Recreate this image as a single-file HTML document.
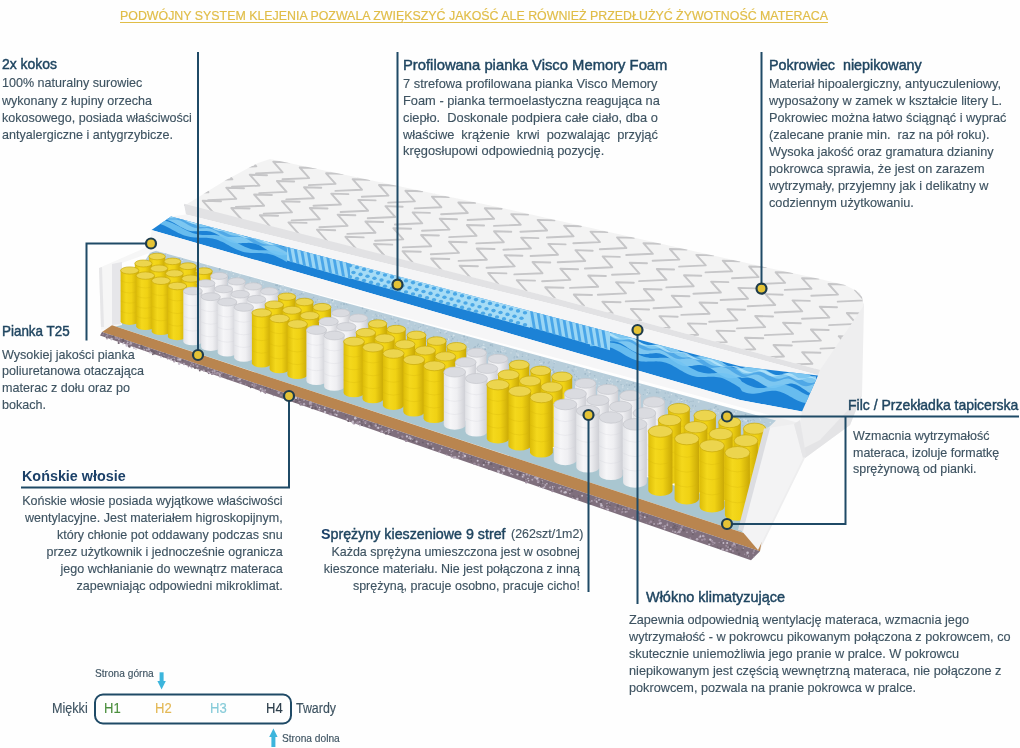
<!DOCTYPE html>
<html><head><meta charset="utf-8"><style>
html,body{margin:0;padding:0}
body{width:1020px;height:748px;position:relative;overflow:hidden;background:#fefefe;font-family:"Liberation Sans",sans-serif}
div{position:absolute;white-space:nowrap}
.b{color:#3e5361;-webkit-text-stroke-width:0.15px}
.tt{color:#1f4560;-webkit-text-stroke-width:0.45px}
.tb{color:#1b4068;font-weight:bold}
.hd{color:#e0bd48;-webkit-text-stroke-width:0.2px;text-decoration:underline;text-decoration-thickness:1.2px;text-underline-offset:1.5px}
svg{position:absolute;left:0;top:0}
</style></head><body>
<svg width="1020" height="748" viewBox="0 0 1020 748">
<polygon points="815.0,368.0 852.0,289.0 860.0,293.0 864.0,305.0 862.0,395.0 850.0,425.0 805.0,458.0 760.0,550.0 745.0,540.0 748.0,420.0 800.0,410.0" fill="#eeeeef" />
<polygon points="820.0,440.0 862.0,395.0 850.0,425.0 805.0,458.0 800.0,450.0" fill="#e4e4e6" />
<polygon points="184.0,206.0 226.0,180.0 258.0,163.0 270.0,159.0 500.0,207.5 760.0,266.0 820.0,279.0 845.0,285.0 856.0,290.5 862.0,297.0 863.5,306.0 820.0,370.0 560.0,299.6 184.0,204.8" fill="#f3f3f3" />
<clipPath id="cq"><polygon points="184.0,206.0 226.0,180.0 258.0,163.0 270.0,159.0 500.0,207.5 760.0,266.0 820.0,279.0 845.0,285.0 856.0,290.5 862.0,297.0 863.5,306.0 820.0,370.0 560.0,299.6 184.0,204.8"/></clipPath>
<filter id="fb" x="-5%" y="-5%" width="110%" height="110%"><feGaussianBlur stdDeviation="0.55"/></filter>
<g clip-path="url(#cq)"><g filter="url(#fb)" stroke="#c6c6c8" stroke-width="1.9" fill="none" stroke-linecap="round" stroke-linejoin="round">
<path d="M235.8,133.1 L219.5,132.6 L228.7,142.8 L202.8,144.0"/>
<path d="M261.6,138.4 L245.3,137.9 L254.5,148.2 L228.6,149.4"/>
<path d="M287.3,143.8 L271.0,143.3 L280.2,153.6 L254.3,154.7"/>
<path d="M313.0,149.1 L296.7,148.7 L305.9,158.9 L280.0,160.1"/>
<path d="M338.8,154.5 L322.5,154.0 L331.7,164.3 L305.8,165.4"/>
<path d="M364.5,159.9 L348.2,159.4 L357.4,169.7 L331.5,170.8"/>
<path d="M390.3,165.2 L374.0,164.7 L383.2,175.0 L357.3,176.2"/>
<path d="M416.0,170.6 L399.7,170.1 L408.9,180.4 L383.0,181.5"/>
<path d="M441.7,175.9 L425.4,175.5 L434.6,185.7 L408.7,186.9"/>
<path d="M467.5,181.3 L451.2,180.8 L460.4,191.1 L434.5,192.2"/>
<path d="M493.2,186.7 L476.9,186.2 L486.1,196.5 L460.2,197.6"/>
<path d="M519.0,192.0 L502.7,191.5 L511.9,201.8 L486.0,203.0"/>
<path d="M544.7,197.4 L528.4,196.9 L537.6,207.2 L511.7,208.3"/>
<path d="M570.4,202.8 L554.1,202.3 L563.3,212.5 L537.4,213.7"/>
<path d="M596.2,208.1 L579.9,207.6 L589.1,217.9 L563.2,219.1"/>
<path d="M621.9,213.5 L605.6,213.0 L614.8,223.3 L588.9,224.4"/>
<path d="M647.7,218.8 L631.4,218.4 L640.6,228.6 L614.7,229.8"/>
<path d="M673.4,224.2 L657.1,223.7 L666.3,234.0 L640.4,235.1"/>
<path d="M699.1,229.6 L682.8,229.1 L692.0,239.3 L666.1,240.5"/>
<path d="M724.9,234.9 L708.6,234.4 L717.8,244.7 L691.9,245.9"/>
<path d="M750.6,240.3 L734.3,239.8 L743.5,250.1 L717.6,251.2"/>
<path d="M776.4,245.6 L760.1,245.2 L769.3,255.4 L743.4,256.6"/>
<path d="M802.1,251.0 L785.8,250.5 L795.0,260.8 L769.1,261.9"/>
<path d="M827.8,256.4 L811.5,255.9 L820.7,266.1 L794.8,267.3"/>
<path d="M853.6,261.7 L837.3,261.2 L846.5,271.5 L820.6,272.7"/>
<path d="M879.3,267.1 L863.0,266.6 L872.2,276.9 L846.3,278.0"/>
<path d="M905.1,272.4 L888.8,272.0 L898.0,282.2 L872.1,283.4"/>
<path d="M210.7,144.7 L193.9,144.2 L203.4,154.8 L176.7,156.0"/>
<path d="M237.2,150.5 L220.4,150.0 L229.8,160.6 L203.2,161.8"/>
<path d="M263.6,156.4 L246.8,155.9 L256.3,166.4 L229.6,167.6"/>
<path d="M290.0,162.2 L273.2,161.7 L282.7,172.3 L256.0,173.4"/>
<path d="M316.5,168.0 L299.7,167.5 L309.2,178.1 L282.5,179.3"/>
<path d="M342.9,173.8 L326.1,173.3 L335.6,183.9 L308.9,185.1"/>
<path d="M369.4,179.7 L352.6,179.2 L362.0,189.7 L335.4,190.9"/>
<path d="M395.8,185.5 L379.0,185.0 L388.5,195.6 L361.8,196.7"/>
<path d="M422.2,191.3 L405.4,190.8 L414.9,201.4 L388.2,202.6"/>
<path d="M448.7,197.1 L431.9,196.6 L441.4,207.2 L414.7,208.4"/>
<path d="M475.1,202.9 L458.3,202.5 L467.8,213.0 L441.1,214.2"/>
<path d="M501.6,208.8 L484.8,208.3 L494.2,218.8 L467.6,220.0"/>
<path d="M528.0,214.6 L511.2,214.1 L520.7,224.7 L494.0,225.9"/>
<path d="M554.4,220.4 L537.6,219.9 L547.1,230.5 L520.4,231.7"/>
<path d="M580.9,226.2 L564.1,225.7 L573.6,236.3 L546.9,237.5"/>
<path d="M607.3,232.1 L590.5,231.6 L600.0,242.1 L573.3,243.3"/>
<path d="M633.8,237.9 L617.0,237.4 L626.4,248.0 L599.8,249.2"/>
<path d="M660.2,243.7 L643.4,243.2 L652.9,253.8 L626.2,255.0"/>
<path d="M686.6,249.5 L669.8,249.0 L679.3,259.6 L652.6,260.8"/>
<path d="M713.1,255.4 L696.3,254.9 L705.8,265.4 L679.1,266.6"/>
<path d="M739.5,261.2 L722.7,260.7 L732.2,271.3 L705.5,272.4"/>
<path d="M766.0,267.0 L749.2,266.5 L758.6,277.1 L732.0,278.3"/>
<path d="M792.4,272.8 L775.6,272.3 L785.1,282.9 L758.4,284.1"/>
<path d="M818.8,278.6 L802.0,278.2 L811.5,288.7 L784.8,289.9"/>
<path d="M845.3,284.5 L828.5,284.0 L838.0,294.6 L811.3,295.7"/>
<path d="M871.7,290.3 L854.9,289.8 L864.4,300.4 L837.7,301.6"/>
<path d="M898.2,296.1 L881.4,295.6 L890.8,306.2 L864.2,307.4"/>
<path d="M185.6,156.4 L168.3,155.9 L178.1,166.7 L150.6,168.0"/>
<path d="M212.7,162.7 L195.5,162.1 L205.2,173.0 L177.8,174.2"/>
<path d="M239.9,168.9 L222.6,168.4 L232.4,179.3 L204.9,180.5"/>
<path d="M267.0,175.2 L249.7,174.7 L259.5,185.6 L232.0,186.8"/>
<path d="M294.2,181.5 L276.9,181.0 L286.6,191.9 L259.2,193.1"/>
<path d="M321.3,187.8 L304.0,187.3 L313.8,198.2 L286.3,199.4"/>
<path d="M348.4,194.1 L331.2,193.6 L340.9,204.5 L313.5,205.7"/>
<path d="M375.6,200.4 L358.3,199.9 L368.1,210.7 L340.6,212.0"/>
<path d="M402.7,206.7 L385.4,206.1 L395.2,217.0 L367.7,218.2"/>
<path d="M429.9,212.9 L412.6,212.4 L422.3,223.3 L394.9,224.5"/>
<path d="M457.0,219.2 L439.7,218.7 L449.5,229.6 L422.0,230.8"/>
<path d="M484.1,225.5 L466.9,225.0 L476.6,235.9 L449.2,237.1"/>
<path d="M511.3,231.8 L494.0,231.3 L503.8,242.2 L476.3,243.4"/>
<path d="M538.4,238.1 L521.1,237.6 L530.9,248.5 L503.4,249.7"/>
<path d="M565.6,244.4 L548.3,243.9 L558.0,254.7 L530.6,256.0"/>
<path d="M592.7,250.7 L575.4,250.1 L585.2,261.0 L557.7,262.2"/>
<path d="M619.8,256.9 L602.6,256.4 L612.3,267.3 L584.9,268.5"/>
<path d="M647.0,263.2 L629.7,262.7 L639.5,273.6 L612.0,274.8"/>
<path d="M674.1,269.5 L656.8,269.0 L666.6,279.9 L639.1,281.1"/>
<path d="M701.3,275.8 L684.0,275.3 L693.7,286.2 L666.3,287.4"/>
<path d="M728.4,282.1 L711.1,281.6 L720.9,292.5 L693.4,293.7"/>
<path d="M755.5,288.4 L738.3,287.9 L748.0,298.7 L720.6,300.0"/>
<path d="M782.7,294.7 L765.4,294.1 L775.2,305.0 L747.7,306.2"/>
<path d="M809.8,300.9 L792.5,300.4 L802.3,311.3 L774.8,312.5"/>
<path d="M837.0,307.2 L819.7,306.7 L829.4,317.6 L802.0,318.8"/>
<path d="M864.1,313.5 L846.8,313.0 L856.6,323.9 L829.1,325.1"/>
<path d="M891.2,319.8 L874.0,319.3 L883.7,330.2 L856.3,331.4"/>
<path d="M160.5,168.0 L142.7,167.5 L152.8,178.7 L124.5,179.9"/>
<path d="M188.3,174.8 L170.6,174.2 L180.6,185.4 L152.4,186.7"/>
<path d="M216.2,181.5 L198.4,181.0 L208.4,192.2 L180.2,193.4"/>
<path d="M244.0,188.3 L226.2,187.7 L236.3,198.9 L208.1,200.2"/>
<path d="M271.9,195.0 L254.1,194.5 L264.1,205.7 L235.9,206.9"/>
<path d="M299.7,201.8 L281.9,201.2 L292.0,212.4 L263.7,213.7"/>
<path d="M327.5,208.5 L309.8,208.0 L319.8,219.2 L291.6,220.4"/>
<path d="M355.4,215.3 L337.6,214.7 L347.6,225.9 L319.4,227.2"/>
<path d="M383.2,222.0 L365.4,221.5 L375.5,232.7 L347.3,233.9"/>
<path d="M411.1,228.8 L393.3,228.2 L403.3,239.4 L375.1,240.7"/>
<path d="M438.9,235.5 L421.1,235.0 L431.2,246.2 L402.9,247.4"/>
<path d="M466.7,242.3 L449.0,241.7 L459.0,252.9 L430.8,254.2"/>
<path d="M494.6,249.0 L476.8,248.5 L486.8,259.7 L458.6,260.9"/>
<path d="M522.4,255.7 L504.6,255.2 L514.7,266.4 L486.5,267.7"/>
<path d="M550.3,262.5 L532.5,262.0 L542.5,273.2 L514.3,274.4"/>
<path d="M578.1,269.2 L560.3,268.7 L570.4,279.9 L542.1,281.2"/>
<path d="M605.9,276.0 L588.2,275.5 L598.2,286.7 L570.0,287.9"/>
<path d="M633.8,282.7 L616.0,282.2 L626.0,293.4 L597.8,294.7"/>
<path d="M661.6,289.5 L643.8,289.0 L653.9,300.2 L625.7,301.4"/>
<path d="M689.5,296.2 L671.7,295.7 L681.7,306.9 L653.5,308.2"/>
<path d="M717.3,303.0 L699.5,302.5 L709.6,313.7 L681.3,314.9"/>
<path d="M745.1,309.7 L727.4,309.2 L737.4,320.4 L709.2,321.7"/>
<path d="M773.0,316.5 L755.2,316.0 L765.2,327.1 L737.0,328.4"/>
<path d="M800.8,323.2 L783.0,322.7 L793.1,333.9 L764.9,335.1"/>
<path d="M828.7,330.0 L810.9,329.5 L820.9,340.6 L792.7,341.9"/>
<path d="M856.5,336.7 L838.7,336.2 L848.8,347.4 L820.5,348.6"/>
<path d="M884.3,343.5 L866.6,343.0 L876.6,354.1 L848.4,355.4"/>
<path d="M135.4,179.7 L117.1,179.1 L127.4,190.6 L98.4,191.9"/>
<path d="M163.9,186.9 L145.7,186.3 L156.0,197.8 L127.0,199.1"/>
<path d="M192.5,194.1 L174.2,193.6 L184.5,205.1 L155.5,206.3"/>
<path d="M221.0,201.3 L202.7,200.8 L213.1,212.3 L184.1,213.6"/>
<path d="M249.6,208.5 L231.3,208.0 L241.6,219.5 L212.6,220.8"/>
<path d="M278.1,215.7 L259.8,215.2 L270.1,226.7 L241.1,228.0"/>
<path d="M306.6,222.9 L288.4,222.4 L298.7,233.9 L269.7,235.2"/>
<path d="M335.2,230.2 L316.9,229.6 L327.2,241.1 L298.2,242.4"/>
<path d="M363.7,237.4 L345.4,236.8 L355.8,248.3 L326.8,249.6"/>
<path d="M392.3,244.6 L374.0,244.0 L384.3,255.5 L355.3,256.8"/>
<path d="M420.8,251.8 L402.5,251.2 L412.8,262.7 L383.8,264.0"/>
<path d="M449.3,259.0 L431.1,258.5 L441.4,270.0 L412.4,271.2"/>
<path d="M477.9,266.2 L459.6,265.7 L469.9,277.2 L440.9,278.5"/>
<path d="M506.4,273.4 L488.1,272.9 L498.5,284.4 L469.5,285.7"/>
<path d="M535.0,280.6 L516.7,280.1 L527.0,291.6 L498.0,292.9"/>
<path d="M563.5,287.8 L545.2,287.3 L555.5,298.8 L526.5,300.1"/>
<path d="M592.0,295.0 L573.8,294.5 L584.1,306.0 L555.1,307.3"/>
<path d="M620.6,302.3 L602.3,301.7 L612.6,313.2 L583.6,314.5"/>
<path d="M649.1,309.5 L630.8,308.9 L641.2,320.4 L612.2,321.7"/>
<path d="M677.7,316.7 L659.4,316.1 L669.7,327.6 L640.7,328.9"/>
<path d="M706.2,323.9 L687.9,323.4 L698.2,334.8 L669.2,336.1"/>
<path d="M734.7,331.1 L716.5,330.6 L726.8,342.1 L697.8,343.3"/>
<path d="M763.3,338.3 L745.0,337.8 L755.3,349.3 L726.3,350.6"/>
<path d="M791.8,345.5 L773.5,345.0 L783.9,356.5 L754.9,357.8"/>
<path d="M820.4,352.7 L802.1,352.2 L812.4,363.7 L783.4,365.0"/>
<path d="M848.9,359.9 L830.6,359.4 L840.9,370.9 L811.9,372.2"/>
<path d="M877.4,367.2 L859.2,366.6 L869.5,378.1 L840.5,379.4"/>
<path d="M110.3,191.3 L91.5,190.8 L102.1,202.6 L72.3,203.9"/>
<path d="M139.5,199.0 L120.8,198.5 L131.4,210.3 L101.6,211.6"/>
<path d="M168.8,206.7 L150.0,206.1 L160.6,217.9 L130.8,219.3"/>
<path d="M198.0,214.3 L179.3,213.8 L189.8,225.6 L160.1,226.9"/>
<path d="M227.2,222.0 L208.5,221.5 L219.1,233.3 L189.3,234.6"/>
<path d="M256.5,229.7 L237.7,229.1 L248.3,240.9 L218.5,242.3"/>
<path d="M285.7,237.4 L267.0,236.8 L277.6,248.6 L247.8,249.9"/>
<path d="M315.0,245.0 L296.2,244.5 L306.8,256.3 L277.0,257.6"/>
<path d="M344.2,252.7 L325.5,252.2 L336.0,264.0 L306.3,265.3"/>
<path d="M373.4,260.4 L354.7,259.8 L365.3,271.6 L335.5,273.0"/>
<path d="M402.7,268.1 L383.9,267.5 L394.5,279.3 L364.7,280.6"/>
<path d="M431.9,275.7 L413.2,275.2 L423.8,287.0 L394.0,288.3"/>
<path d="M461.2,283.4 L442.4,282.9 L453.0,294.7 L423.2,296.0"/>
<path d="M490.4,291.1 L471.7,290.5 L482.2,302.3 L452.5,303.7"/>
<path d="M519.6,298.8 L500.9,298.2 L511.5,310.0 L481.7,311.3"/>
<path d="M548.9,306.4 L530.1,305.9 L540.7,317.7 L510.9,319.0"/>
<path d="M578.1,314.1 L559.4,313.5 L570.0,325.4 L540.2,326.7"/>
<path d="M607.4,321.8 L588.6,321.2 L599.2,333.0 L569.4,334.4"/>
<path d="M636.6,329.4 L617.9,328.9 L628.4,340.7 L598.7,342.0"/>
<path d="M665.8,337.1 L647.1,336.6 L657.7,348.4 L627.9,349.7"/>
<path d="M695.1,344.8 L676.3,344.2 L686.9,356.0 L657.1,357.4"/>
<path d="M724.3,352.5 L705.6,351.9 L716.2,363.7 L686.4,365.0"/>
<path d="M753.6,360.1 L734.8,359.6 L745.4,371.4 L715.6,372.7"/>
<path d="M782.8,367.8 L764.1,367.3 L774.6,379.1 L744.9,380.4"/>
<path d="M812.0,375.5 L793.3,374.9 L803.9,386.7 L774.1,388.1"/>
<path d="M841.3,383.2 L822.5,382.6 L833.1,394.4 L803.3,395.7"/>
<path d="M870.5,390.8 L851.8,390.3 L862.4,402.1 L832.6,403.4"/>
</g></g>
<polygon points="184.0,203.8 560.0,299.6 820.0,370.0 818.0,375.0 560.0,305.9 186.0,214.6" fill="#e2e2e4" />
<polygon points="186.0,214.6 560.0,305.9 818.0,375.0 818.0,376.0 740.0,366.3 171.0,216.5" fill="#f5f5f6" />
<polygon points="171.0,216.5 740.0,366.3 818.0,375.5 802.0,411.6 740.0,400.0 151.5,230.0" fill="#1c82d6" />
<clipPath id="cb"><polygon points="171.0,216.5 740.0,366.3 818.0,375.5 802.0,411.6 740.0,400.0 151.5,230.0"/></clipPath><g clip-path="url(#cb)">
<polygon points="140.0,205.8 142.0,207.0 144.0,208.2 146.0,209.3 148.1,210.2 150.1,210.9 152.1,211.4 154.1,211.8 156.1,211.9 158.1,212.0 160.1,211.9 162.2,211.7 164.2,211.6 166.2,211.5 168.2,211.6 170.2,211.7 172.2,212.1 174.2,212.7 176.2,213.4 178.3,214.4 180.3,215.4 182.3,216.6 184.3,217.8 186.3,219.1 188.3,220.2 190.3,221.3 192.4,222.1 194.4,222.8 196.4,223.3 198.4,223.7 200.4,223.8 202.4,223.8 204.4,223.7 206.5,223.5 208.5,223.4 210.5,223.3 212.5,223.3 214.5,223.6 216.5,223.9 218.5,224.5 220.5,225.3 222.6,226.3 224.6,227.4 226.6,228.6 228.6,229.8 230.6,231.1 232.6,232.2 234.6,233.2 236.7,234.1 238.7,234.8 240.7,235.3 242.7,235.5 244.7,235.6 246.7,235.6 248.7,235.5 250.8,235.3 252.8,235.2 254.8,235.1 256.8,235.1 258.8,235.4 260.8,235.8 262.8,236.4 264.8,237.2 266.9,238.2 268.9,239.4 270.9,240.6 272.9,241.8 274.9,243.1 276.9,244.2 278.9,245.2 281.0,246.1 283.0,246.7 285.0,247.2 287.0,247.4 287.0,255.1 285.0,255.3 283.0,255.3 281.0,255.3 278.9,255.0 276.9,254.6 274.9,254.0 272.9,253.2 270.9,252.2 268.9,251.0 266.9,249.8 264.8,248.5 262.8,247.3 260.8,246.1 258.8,245.1 256.8,244.3 254.8,243.6 252.8,243.2 250.8,242.9 248.7,242.8 246.7,242.9 244.7,243.0 242.7,243.1 240.7,243.3 238.7,243.3 236.7,243.2 234.6,243.0 232.6,242.5 230.6,241.9 228.6,241.0 226.6,240.0 224.6,238.8 222.6,237.6 220.5,236.4 218.5,235.1 216.5,234.0 214.5,233.0 212.5,232.2 210.5,231.6 208.5,231.2 206.5,230.9 204.4,230.9 202.4,230.9 200.4,231.0 198.4,231.2 196.4,231.3 194.4,231.3 192.4,231.2 190.3,230.9 188.3,230.4 186.3,229.7 184.3,228.8 182.3,227.8 180.3,226.7 178.3,225.4 176.2,224.2 174.2,223.0 172.2,221.9 170.2,220.9 168.2,220.2 166.2,219.6 164.2,219.2 162.2,219.0 160.1,218.9 158.1,218.9 156.1,219.1 154.1,219.2 152.1,219.3 150.1,219.3 148.1,219.1 146.0,218.8 144.0,218.3 142.0,217.6 140.0,216.7" fill="#86cdf3" opacity="0.92"/>
<polygon points="140.0,218.6 142.0,219.0 144.0,219.3 146.0,219.5 148.1,219.7 150.1,219.7 152.1,219.7 154.1,219.8 156.1,219.8 158.1,219.9 160.1,220.0 162.2,220.2 164.2,220.6 166.2,221.0 168.2,221.6 170.2,222.3 172.2,223.1 174.2,224.0 176.2,224.9 178.3,226.0 180.3,227.1 182.3,228.2 184.3,229.2 186.3,230.3 188.3,231.2 190.3,232.1 192.4,232.9 194.4,233.5 196.4,234.0 198.4,234.4 200.4,234.7 202.4,234.9 204.4,235.0 206.5,235.0 208.5,235.0 210.5,235.0 212.5,235.1 214.5,235.1 216.5,235.3 218.5,235.5 220.5,235.9 222.6,236.3 224.6,236.9 226.6,237.6 228.6,238.5 230.6,239.4 232.6,240.4 234.6,241.5 236.7,242.6 238.7,243.7 240.7,244.8 242.7,245.8 244.7,246.7 246.7,247.6 248.7,248.3 250.8,249.0 252.8,249.5 254.8,249.8 256.8,250.1 258.8,250.2 260.8,250.3 262.8,250.3 264.8,250.3 266.9,250.3 268.9,250.3 270.9,250.4 272.9,250.6 274.9,250.8 276.9,251.2 278.9,251.7 281.0,252.3 283.0,253.0 285.0,253.9 287.0,254.8 287.0,262.0 285.0,260.9 283.0,259.8 281.0,258.7 278.9,257.7 276.9,256.7 274.9,255.8 272.9,255.1 270.9,254.5 268.9,254.0 266.9,253.6 264.8,253.4 262.8,253.2 260.8,253.1 258.8,253.1 256.8,253.1 254.8,253.1 252.8,253.1 250.8,253.0 248.7,252.8 246.7,252.6 244.7,252.2 242.7,251.7 240.7,251.1 238.7,250.3 236.7,249.5 234.6,248.5 232.6,247.5 230.6,246.4 228.6,245.3 226.6,244.2 224.6,243.1 222.6,242.1 220.5,241.2 218.5,240.3 216.5,239.6 214.5,239.0 212.5,238.6 210.5,238.2 208.5,238.0 206.5,237.8 204.4,237.7 202.4,237.7 200.4,237.7 198.4,237.7 196.4,237.6 194.4,237.5 192.4,237.3 190.3,237.0 188.3,236.6 186.3,236.1 184.3,235.5 182.3,234.7 180.3,233.8 178.3,232.9 176.2,231.8 174.2,230.8 172.2,229.7 170.2,228.6 168.2,227.5 166.2,226.5 164.2,225.6 162.2,224.8 160.1,224.1 158.1,223.6 156.1,223.1 154.1,222.8 152.1,222.6 150.1,222.4 148.1,222.3 146.0,222.3 144.0,222.3 142.0,222.3 140.0,222.2" fill="#72c4f2" opacity="0.88"/>
<polygon points="140.0,209.9 142.0,209.9 144.0,209.7 146.0,209.7 148.1,209.7 150.1,210.0 152.1,210.5 154.1,211.3 156.1,212.3 158.1,213.4 160.1,214.6 162.2,215.8 164.2,216.8 166.2,217.6 168.2,218.2 170.2,218.5 172.2,218.5 174.2,218.5 176.2,218.4 178.3,218.3 180.3,218.4 182.3,218.7 184.3,219.2 186.3,220.0 188.3,221.0 190.3,222.2 192.4,223.4 194.4,224.5 196.4,225.6 198.4,226.3 200.4,226.9 202.4,227.1 204.4,227.2 206.5,227.1 208.5,227.0 210.5,226.9 212.5,227.0 214.5,227.3 216.5,227.9 218.5,228.7 220.5,229.8 222.6,231.0 224.6,232.2 226.6,233.3 228.6,234.3 230.6,235.1 232.6,235.6 234.6,235.8 236.7,235.8 238.7,235.7 240.7,235.6 242.7,235.5 244.7,235.6 246.7,236.0 248.7,236.6 250.8,237.5 252.8,238.5 254.8,239.7 256.8,240.9 258.8,242.1 260.8,243.1 262.8,243.8 264.8,244.3 266.9,244.5 268.9,244.5 270.9,244.4 272.9,244.2 274.9,244.2 276.9,244.3 278.9,244.7 281.0,245.3 283.0,246.2 285.0,247.3 287.0,248.5 287.0,252.4 285.0,251.3 283.0,250.1 281.0,248.9 278.9,247.7 276.9,246.8 274.9,246.1 272.9,245.6 270.9,245.4 268.9,245.5 266.9,245.6 264.8,245.7 262.8,245.7 260.8,245.6 258.8,245.2 256.8,244.5 254.8,243.6 252.8,242.5 250.8,241.3 248.7,240.1 246.7,239.0 244.7,238.0 242.7,237.4 240.7,236.9 238.7,236.8 236.7,236.8 234.6,236.9 232.6,237.0 230.6,237.1 228.6,236.9 226.6,236.4 224.6,235.8 222.6,234.8 220.5,233.7 218.5,232.5 216.5,231.3 214.5,230.2 212.5,229.3 210.5,228.7 208.5,228.3 206.5,228.1 204.4,228.2 202.4,228.3 200.4,228.4 198.4,228.4 196.4,228.1 194.4,227.7 192.4,227.0 190.3,226.0 188.3,224.9 186.3,223.7 184.3,222.5 182.3,221.4 180.3,220.6 178.3,220.0 176.2,219.6 174.2,219.5 172.2,219.5 170.2,219.6 168.2,219.7 166.2,219.7 164.2,219.4 162.2,218.9 160.1,218.2 158.1,217.2 156.1,216.1 154.1,214.9 152.1,213.7 150.1,212.7 148.1,211.9 146.0,211.3 144.0,210.9 142.0,210.8 140.0,210.8" fill="#3c9be2" opacity="0.7"/>
<polygon points="140.0,208.0 142.0,208.9 144.0,209.5 146.0,209.9 148.1,210.0 150.1,210.0 152.1,210.0 154.1,210.1 156.1,210.4 158.1,211.0 160.1,211.9 162.2,212.9 164.2,214.1 166.2,215.1 168.2,216.0 170.2,216.6 172.2,216.9 174.2,217.0 176.2,217.0 178.3,217.0 180.3,217.1 182.3,217.4 184.3,218.1 186.3,219.0 188.3,220.0 190.3,221.2 192.4,222.2 194.4,223.0 196.4,223.6 198.4,223.9 200.4,224.0 202.4,224.0 204.4,223.9 206.5,224.1 208.5,224.5 210.5,225.1 212.5,226.0 214.5,227.1 216.5,228.3 218.5,229.3 220.5,230.1 222.6,230.7 224.6,230.9 226.6,231.0 228.6,231.0 230.6,230.9 232.6,231.1 234.6,231.5 236.7,232.2 238.7,233.1 240.7,234.2 242.7,235.4 244.7,236.4 246.7,237.2 248.7,237.7 250.8,238.0 252.8,238.0 254.8,237.9 256.8,237.9 258.8,238.1 260.8,238.5 262.8,239.2 264.8,240.2 266.9,241.3 268.9,242.5 270.9,243.5 272.9,244.3 274.9,244.8 276.9,245.0 278.9,245.0 281.0,244.9 283.0,244.9 285.0,245.1 287.0,245.6 287.0,247.4 285.0,246.4 283.0,245.7 281.0,245.3 278.9,245.2 276.9,245.2 274.9,245.2 272.9,245.2 270.9,244.9 268.9,244.4 266.9,243.6 264.8,242.5 262.8,241.4 260.8,240.3 258.8,239.4 256.8,238.7 254.8,238.3 252.8,238.2 250.8,238.2 248.7,238.2 246.7,238.2 244.7,237.9 242.7,237.3 240.7,236.5 238.7,235.4 236.7,234.3 234.6,233.2 232.6,232.3 230.6,231.6 228.6,231.3 226.6,231.2 224.6,231.2 222.6,231.2 220.5,231.1 218.5,230.8 216.5,230.2 214.5,229.4 212.5,228.3 210.5,227.2 208.5,226.1 206.5,225.2 204.4,224.6 202.4,224.3 200.4,224.2 198.4,224.2 196.4,224.2 194.4,224.1 192.4,223.8 190.3,223.1 188.3,222.3 186.3,221.2 184.3,220.1 182.3,219.0 180.3,218.2 178.3,217.6 176.2,217.2 174.2,217.1 172.2,217.2 170.2,217.2 168.2,217.1 166.2,216.7 164.2,216.0 162.2,215.1 160.1,214.1 158.1,213.0 156.1,211.9 154.1,211.1 152.1,210.5 150.1,210.2 148.1,210.1 146.0,210.2 144.0,210.2 142.0,210.0 140.0,209.6" fill="#c4ecfc" opacity="0.7"/>
<polygon points="590.0,326.7 592.0,328.0 594.0,329.3 596.0,330.4 598.0,331.4 600.0,332.2 602.0,332.7 604.0,333.0 606.0,333.1 608.0,333.0 610.0,332.8 612.0,332.6 614.0,332.3 616.0,332.1 618.0,332.0 620.0,332.1 622.0,332.4 624.0,333.0 626.0,333.7 628.0,334.7 630.0,335.9 632.0,337.1 634.0,338.5 636.0,339.8 638.0,341.1 640.0,342.3 642.0,343.2 644.0,344.0 646.0,344.6 648.0,344.9 650.0,345.0 652.0,344.9 654.0,344.7 656.0,344.4 658.0,344.1 660.0,343.9 662.0,343.8 664.0,343.9 666.0,344.2 668.0,344.7 670.0,345.5 672.0,346.5 674.0,347.6 676.0,348.9 678.0,350.3 680.0,351.7 682.0,352.9 684.0,354.1 686.0,355.1 688.0,355.9 690.0,356.4 692.0,356.7 694.0,356.8 696.0,356.7 698.0,356.5 700.0,356.2 702.0,355.9 704.0,355.7 706.0,355.6 708.0,355.7 710.0,356.0 712.0,356.5 714.0,357.3 716.0,358.3 718.0,359.4 720.0,360.7 722.0,362.1 724.0,363.5 726.0,364.8 728.0,366.0 730.0,367.0 732.0,367.7 734.0,368.3 736.0,368.6 738.0,368.7 740.0,368.6 742.0,368.2 744.0,367.5 746.0,366.7 748.0,366.1 750.0,365.6 752.0,365.3 754.0,365.2 756.0,365.4 758.0,365.9 760.0,366.7 762.0,367.7 764.0,368.8 766.0,370.1 768.0,371.3 770.0,372.5 772.0,373.5 774.0,374.3 776.0,374.9 778.0,375.1 780.0,375.1 782.0,374.8 784.0,374.2 786.0,373.5 788.0,372.7 790.0,371.9 792.0,371.2 794.0,370.6 796.0,370.2 798.0,370.2 800.0,370.4 802.0,370.9 804.0,371.7 806.0,372.8 808.0,374.0 810.0,375.3 812.0,376.7 814.0,377.9 816.0,379.0 816.0,394.7 814.0,394.4 812.0,393.8 810.0,393.0 808.0,391.9 806.0,390.6 804.0,389.3 802.0,387.9 800.0,386.6 798.0,385.5 796.0,384.6 794.0,384.0 792.0,383.6 790.0,383.6 788.0,383.9 786.0,384.4 784.0,385.0 782.0,385.7 780.0,386.5 778.0,387.1 776.0,387.7 774.0,387.9 772.0,388.0 770.0,387.7 768.0,387.2 766.0,386.3 764.0,385.3 762.0,384.1 760.0,382.8 758.0,381.6 756.0,380.4 754.0,379.3 752.0,378.5 750.0,377.9 748.0,377.5 746.0,377.5 744.0,377.7 742.0,378.1 740.0,377.3 738.0,377.6 736.0,377.9 734.0,378.1 732.0,378.3 730.0,378.2 728.0,377.9 726.0,377.4 724.0,376.7 722.0,375.7 720.0,374.5 718.0,373.2 716.0,371.9 714.0,370.5 712.0,369.2 710.0,368.0 708.0,366.9 706.0,366.1 704.0,365.5 702.0,365.2 700.0,365.1 698.0,365.1 696.0,365.3 694.0,365.6 692.0,365.9 690.0,366.1 688.0,366.2 686.0,366.2 684.0,365.9 682.0,365.4 680.0,364.6 678.0,363.7 676.0,362.5 674.0,361.2 672.0,359.9 670.0,358.5 668.0,357.2 666.0,356.0 664.0,355.0 662.0,354.2 660.0,353.6 658.0,353.2 656.0,353.1 654.0,353.2 652.0,353.4 650.0,353.6 648.0,353.9 646.0,354.1 644.0,354.2 642.0,354.1 640.0,353.9 638.0,353.3 636.0,352.6 634.0,351.6 632.0,350.5 630.0,349.2 628.0,347.9 626.0,346.5 624.0,345.2 622.0,344.0 620.0,343.0 618.0,342.2 616.0,341.7 614.0,341.3 612.0,341.2 610.0,341.2 608.0,341.4 606.0,341.6 604.0,341.9 602.0,342.1 600.0,342.2 598.0,342.1 596.0,341.8 594.0,341.3 592.0,340.6 590.0,339.6" fill="#86cdf3" opacity="0.92"/>
<polygon points="590.0,341.9 592.0,342.3 594.0,342.6 596.0,342.7 598.0,342.8 600.0,342.7 602.0,342.7 604.0,342.6 606.0,342.5 608.0,342.5 610.0,342.5 612.0,342.7 614.0,342.9 616.0,343.4 618.0,343.9 620.0,344.6 622.0,345.4 624.0,346.4 626.0,347.5 628.0,348.6 630.0,349.8 632.0,350.9 634.0,352.1 636.0,353.2 638.0,354.3 640.0,355.2 642.0,356.0 644.0,356.7 646.0,357.3 648.0,357.6 650.0,357.9 652.0,358.0 654.0,358.1 656.0,358.0 658.0,357.9 660.0,357.8 662.0,357.8 664.0,357.7 666.0,357.8 668.0,357.9 670.0,358.2 672.0,358.6 674.0,359.1 676.0,359.8 678.0,360.7 680.0,361.6 682.0,362.7 684.0,363.9 686.0,365.0 688.0,366.2 690.0,367.4 692.0,368.6 694.0,369.6 696.0,370.6 698.0,371.4 700.0,372.1 702.0,372.6 704.0,373.0 706.0,373.2 708.0,373.4 710.0,373.4 712.0,373.3 714.0,373.2 716.0,373.1 718.0,373.0 720.0,373.0 722.0,373.0 724.0,373.2 726.0,373.4 728.0,373.8 730.0,374.4 732.0,375.1 734.0,375.9 736.0,376.9 738.0,378.0 740.0,379.1 742.0,381.8 744.0,382.8 746.0,383.9 748.0,384.9 750.0,385.8 752.0,386.6 754.0,387.2 756.0,387.7 758.0,388.0 760.0,388.1 762.0,388.0 764.0,387.9 766.0,387.5 768.0,387.1 770.0,386.6 772.0,386.1 774.0,385.6 776.0,385.2 778.0,384.9 780.0,384.7 782.0,384.6 784.0,384.7 786.0,385.0 788.0,385.5 790.0,386.2 792.0,387.0 794.0,388.0 796.0,389.0 798.0,390.1 800.0,391.3 802.0,392.4 804.0,393.5 806.0,394.4 808.0,395.3 810.0,395.9 812.0,396.4 814.0,396.7 816.0,396.8 816.0,402.2 814.0,402.6 812.0,403.0 810.0,403.2 808.0,403.3 806.0,403.1 804.0,402.8 802.0,402.3 800.0,401.6 798.0,400.7 796.0,399.8 794.0,398.7 792.0,397.5 790.0,396.4 788.0,395.2 786.0,394.2 784.0,393.2 782.0,392.4 780.0,391.7 778.0,391.2 776.0,390.8 774.0,390.7 772.0,390.7 770.0,390.9 768.0,391.2 766.0,391.6 764.0,392.0 762.0,392.5 760.0,392.9 758.0,393.3 756.0,393.6 754.0,393.7 752.0,393.7 750.0,393.6 748.0,393.3 746.0,392.8 744.0,392.1 742.0,391.3 740.0,387.7 738.0,386.5 736.0,385.3 734.0,384.1 732.0,382.9 730.0,381.7 728.0,380.7 726.0,379.7 724.0,378.8 722.0,378.1 720.0,377.6 718.0,377.2 716.0,376.9 714.0,376.7 712.0,376.7 710.0,376.7 708.0,376.8 706.0,376.9 704.0,377.0 702.0,377.1 700.0,377.1 698.0,376.9 696.0,376.7 694.0,376.3 692.0,375.7 690.0,375.1 688.0,374.2 686.0,373.3 684.0,372.2 682.0,371.1 680.0,369.9 678.0,368.7 676.0,367.5 674.0,366.4 672.0,365.3 670.0,364.3 668.0,363.5 666.0,362.8 664.0,362.2 662.0,361.8 660.0,361.5 658.0,361.4 656.0,361.3 654.0,361.4 652.0,361.4 650.0,361.5 648.0,361.6 646.0,361.7 644.0,361.6 642.0,361.5 640.0,361.2 638.0,360.8 636.0,360.3 634.0,359.6 632.0,358.8 630.0,357.8 628.0,356.8 626.0,355.7 624.0,354.5 622.0,353.3 620.0,352.1 618.0,351.0 616.0,349.9 614.0,349.0 612.0,348.1 610.0,347.4 608.0,346.9 606.0,346.5 604.0,346.2 602.0,346.0 600.0,346.0 598.0,346.0 596.0,346.0 594.0,346.1 592.0,346.2 590.0,346.2" fill="#72c4f2" opacity="0.88"/>
<polygon points="590.0,331.5 592.0,331.4 594.0,331.1 596.0,330.9 598.0,330.9 600.0,331.1 602.0,331.6 604.0,332.4 606.0,333.5 608.0,334.7 610.0,336.0 612.0,337.3 614.0,338.4 616.0,339.3 618.0,339.9 620.0,340.2 622.0,340.2 624.0,340.0 626.0,339.8 628.0,339.6 630.0,339.5 632.0,339.7 634.0,340.2 636.0,341.0 638.0,342.1 640.0,343.3 642.0,344.7 644.0,345.9 646.0,347.1 648.0,347.9 650.0,348.5 652.0,348.8 654.0,348.8 656.0,348.6 658.0,348.4 660.0,348.2 662.0,348.1 664.0,348.3 666.0,348.8 668.0,349.6 670.0,350.7 672.0,352.0 674.0,353.3 676.0,354.6 678.0,355.7 680.0,356.6 682.0,357.2 684.0,357.5 686.0,357.5 688.0,357.3 690.0,357.0 692.0,356.8 694.0,356.8 696.0,356.9 698.0,357.4 700.0,358.3 702.0,359.3 704.0,360.6 706.0,361.9 708.0,363.2 710.0,364.4 712.0,365.3 714.0,365.8 716.0,366.1 718.0,366.1 720.0,365.9 722.0,365.7 724.0,365.4 726.0,365.4 728.0,365.6 730.0,366.1 732.0,366.9 734.0,367.9 736.0,369.2 738.0,370.6 740.0,371.9 742.0,373.5 744.0,374.2 746.0,374.5 748.0,374.4 750.0,374.1 752.0,373.5 754.0,372.8 756.0,372.2 758.0,371.7 760.0,371.5 762.0,371.7 764.0,372.3 766.0,373.2 768.0,374.3 770.0,375.6 772.0,376.7 774.0,377.7 776.0,378.4 778.0,378.7 780.0,378.7 782.0,378.3 784.0,377.6 786.0,376.9 788.0,376.2 790.0,375.7 792.0,375.5 794.0,375.7 796.0,376.3 798.0,377.2 800.0,378.4 802.0,379.7 804.0,380.9 806.0,382.0 808.0,382.7 810.0,383.0 812.0,382.9 814.0,382.5 816.0,381.8 816.0,383.4 814.0,384.0 812.0,384.8 810.0,385.5 808.0,386.1 806.0,386.2 804.0,386.0 802.0,385.4 800.0,384.4 798.0,383.2 796.0,381.9 794.0,380.7 792.0,379.7 790.0,379.0 788.0,378.6 786.0,378.7 784.0,379.1 782.0,379.8 780.0,380.5 778.0,381.1 776.0,381.6 774.0,381.8 772.0,381.5 770.0,380.9 768.0,380.0 766.0,378.9 764.0,377.6 762.0,376.5 760.0,375.5 758.0,374.8 756.0,374.5 754.0,374.5 752.0,374.9 750.0,375.5 748.0,376.1 746.0,376.7 744.0,377.2 742.0,377.3 740.0,375.9 738.0,375.1 736.0,374.0 734.0,372.7 732.0,371.4 730.0,370.0 728.0,368.9 726.0,368.0 724.0,367.4 722.0,367.1 720.0,367.1 718.0,367.3 716.0,367.6 714.0,367.8 712.0,367.9 710.0,367.7 708.0,367.2 706.0,366.4 704.0,365.3 702.0,364.0 700.0,362.7 698.0,361.4 696.0,360.2 694.0,359.4 692.0,358.8 690.0,358.5 688.0,358.5 686.0,358.6 684.0,358.9 682.0,359.1 680.0,359.2 678.0,359.0 676.0,358.5 674.0,357.7 672.0,356.6 670.0,355.4 668.0,354.0 666.0,352.7 664.0,351.6 662.0,350.7 660.0,350.1 658.0,349.8 656.0,349.8 654.0,350.0 652.0,350.2 650.0,350.4 648.0,350.5 646.0,350.3 644.0,349.8 642.0,349.0 640.0,347.9 638.0,346.7 636.0,345.4 634.0,344.1 632.0,342.9 630.0,342.1 628.0,341.5 626.0,341.2 624.0,341.2 622.0,341.3 620.0,341.6 618.0,341.8 616.0,341.8 614.0,341.6 612.0,341.1 610.0,340.3 608.0,339.2 606.0,338.0 604.0,336.7 602.0,335.4 600.0,334.3 598.0,333.4 596.0,332.8 594.0,332.5 592.0,332.5 590.0,332.7" fill="#3c9be2" opacity="0.7"/>
<polygon points="590.0,329.3 592.0,330.2 594.0,330.8 596.0,331.2 598.0,331.2 600.0,331.1 602.0,331.0 604.0,331.0 606.0,331.3 608.0,331.9 610.0,332.8 612.0,333.9 614.0,335.1 616.0,336.3 618.0,337.2 620.0,337.9 622.0,338.2 624.0,338.2 626.0,338.1 628.0,338.0 630.0,338.0 632.0,338.2 634.0,338.8 636.0,339.8 638.0,340.9 640.0,342.1 642.0,343.3 644.0,344.2 646.0,344.9 648.0,345.2 650.0,345.2 652.0,345.1 654.0,344.9 656.0,345.0 658.0,345.2 660.0,345.8 662.0,346.7 664.0,347.9 666.0,349.1 668.0,350.3 670.0,351.2 672.0,351.9 674.0,352.2 676.0,352.2 678.0,352.1 680.0,351.9 682.0,351.9 684.0,352.2 686.0,352.8 688.0,353.7 690.0,354.9 692.0,356.1 694.0,357.3 696.0,358.2 698.0,358.9 700.0,359.2 702.0,359.2 704.0,359.1 706.0,358.9 708.0,358.9 710.0,359.2 712.0,359.8 714.0,360.7 716.0,361.9 718.0,363.1 720.0,364.3 722.0,365.3 724.0,365.9 726.0,366.2 728.0,366.2 730.0,366.1 732.0,365.9 734.0,365.9 736.0,366.2 738.0,366.8 740.0,367.7 742.0,368.8 744.0,369.9 746.0,370.8 748.0,371.6 750.0,371.9 752.0,371.9 754.0,371.6 756.0,371.0 758.0,370.4 760.0,370.0 762.0,370.0 764.0,370.3 766.0,371.0 768.0,372.0 770.0,373.1 772.0,374.1 774.0,374.9 776.0,375.2 778.0,375.2 780.0,374.8 782.0,374.2 784.0,373.6 786.0,373.2 788.0,373.1 790.0,373.4 792.0,374.1 794.0,375.2 796.0,376.3 798.0,377.4 800.0,378.2 802.0,378.5 804.0,378.5 806.0,378.1 808.0,377.4 810.0,376.8 812.0,376.3 814.0,376.2 816.0,376.5 816.0,379.7 814.0,378.7 812.0,378.0 810.0,377.7 808.0,377.8 806.0,378.3 804.0,379.0 802.0,379.6 800.0,379.9 798.0,379.9 796.0,379.5 794.0,378.6 792.0,377.6 790.0,376.4 788.0,375.4 786.0,374.7 784.0,374.5 782.0,374.6 780.0,375.1 778.0,375.7 776.0,376.2 774.0,376.6 772.0,376.5 770.0,376.1 768.0,375.3 766.0,374.2 764.0,373.1 762.0,372.2 760.0,371.5 758.0,371.3 756.0,371.4 754.0,371.8 752.0,372.4 750.0,372.9 748.0,373.2 746.0,373.1 744.0,372.7 742.0,371.9 740.0,370.4 738.0,369.2 736.0,368.1 734.0,367.2 732.0,366.6 730.0,366.4 728.0,366.4 726.0,366.6 724.0,366.7 722.0,366.7 720.0,366.3 718.0,365.6 716.0,364.6 714.0,363.4 712.0,362.2 710.0,361.1 708.0,360.2 706.0,359.6 704.0,359.4 702.0,359.4 700.0,359.6 698.0,359.7 696.0,359.6 694.0,359.3 692.0,358.6 690.0,357.6 688.0,356.4 686.0,355.2 684.0,354.1 682.0,353.2 680.0,352.6 678.0,352.4 676.0,352.4 674.0,352.6 672.0,352.7 670.0,352.6 668.0,352.3 666.0,351.6 664.0,350.6 662.0,349.4 660.0,348.2 658.0,347.1 656.0,346.2 654.0,345.6 652.0,345.4 650.0,345.4 648.0,345.5 646.0,345.7 644.0,345.6 642.0,345.2 640.0,344.5 638.0,343.6 636.0,342.4 634.0,341.2 632.0,340.1 630.0,339.2 628.0,338.6 626.0,338.4 624.0,338.4 622.0,338.5 620.0,338.6 618.0,338.6 616.0,338.2 614.0,337.5 612.0,336.5 610.0,335.4 608.0,334.2 606.0,333.1 604.0,332.2 602.0,331.6 600.0,331.4 598.0,331.4 596.0,331.5 594.0,331.6 592.0,331.5 590.0,331.2" fill="#c4ecfc" opacity="0.7"/>
<polygon points="287.0,244.8 350.0,261.7 350.0,278.7 287.0,260.4" fill="#9ad6f5" />
<polygon points="287.0,245.3 290.0,246.1 293.0,262.6 290.0,261.7" fill="#4aa6e8" />
<polygon points="293.5,247.1 296.5,247.9 299.5,264.3 296.5,263.5" fill="#4aa6e8" />
<polygon points="300.0,248.8 303.0,249.6 306.0,266.1 303.0,265.3" fill="#4aa6e8" />
<polygon points="306.5,250.5 309.5,251.3 312.5,267.9 309.5,267.1" fill="#4aa6e8" />
<polygon points="313.0,252.3 316.0,253.1 319.0,269.7 316.0,268.9" fill="#4aa6e8" />
<polygon points="319.5,254.0 322.5,254.8 325.5,271.5 322.5,270.7" fill="#4aa6e8" />
<polygon points="326.0,255.8 329.0,256.6 332.0,273.3 329.0,272.4" fill="#4aa6e8" />
<polygon points="332.5,257.5 335.5,258.3 338.5,275.1 335.5,274.2" fill="#4aa6e8" />
<polygon points="339.0,259.3 342.0,260.1 345.0,276.8 342.0,276.0" fill="#4aa6e8" />
<polygon points="345.5,261.0 348.5,261.8 351.5,278.6 348.5,277.8" fill="#4aa6e8" />
<polygon points="530.0,310.0 610.0,331.5 610.0,350.3 530.0,327.1" fill="#9ad6f5" />
<polygon points="530.0,310.6 533.0,311.4 536.0,329.4 533.0,328.5" fill="#4aa6e8" />
<polygon points="536.5,312.3 539.5,313.1 542.5,331.1 539.5,330.3" fill="#4aa6e8" />
<polygon points="543.0,314.0 546.0,314.8 549.0,332.9 546.0,332.1" fill="#4aa6e8" />
<polygon points="549.5,315.8 552.5,316.6 555.5,334.7 552.5,333.9" fill="#4aa6e8" />
<polygon points="556.0,317.5 559.0,318.3 562.0,336.5 559.0,335.7" fill="#4aa6e8" />
<polygon points="562.5,319.3 565.5,320.1 568.5,338.3 565.5,337.5" fill="#4aa6e8" />
<polygon points="569.0,321.0 572.0,321.8 575.0,340.1 572.0,339.2" fill="#4aa6e8" />
<polygon points="575.5,322.8 578.5,323.6 581.5,341.9 578.5,341.0" fill="#4aa6e8" />
<polygon points="582.0,324.5 585.0,325.3 588.0,343.6 585.0,342.8" fill="#4aa6e8" />
<polygon points="588.5,326.3 591.5,327.1 594.5,345.4 591.5,344.6" fill="#4aa6e8" />
<polygon points="595.0,328.0 598.0,328.8 601.0,347.2 598.0,346.4" fill="#4aa6e8" />
<polygon points="601.5,329.8 604.5,330.6 607.5,349.0 604.5,348.2" fill="#4aa6e8" />
<polygon points="350.0,261.7 530.0,310.0 530.0,327.7 350.0,278.2" fill="#a6dcf6" />
<ellipse cx="350.0" cy="265.6" rx="2.2" ry="1.8" fill="#4ca8e6"/>
<ellipse cx="353.5" cy="272.5" rx="2.2" ry="1.8" fill="#4ca8e6"/>
<ellipse cx="350.0" cy="276.7" rx="2.2" ry="1.8" fill="#4ca8e6"/>
<ellipse cx="357.0" cy="267.5" rx="2.2" ry="1.8" fill="#4ca8e6"/>
<ellipse cx="360.5" cy="274.4" rx="2.2" ry="1.8" fill="#4ca8e6"/>
<ellipse cx="357.0" cy="278.6" rx="2.2" ry="1.8" fill="#4ca8e6"/>
<ellipse cx="364.0" cy="269.4" rx="2.2" ry="1.8" fill="#4ca8e6"/>
<ellipse cx="367.5" cy="276.3" rx="2.2" ry="1.8" fill="#4ca8e6"/>
<ellipse cx="364.0" cy="280.5" rx="2.2" ry="1.8" fill="#4ca8e6"/>
<ellipse cx="371.0" cy="271.2" rx="2.2" ry="1.8" fill="#4ca8e6"/>
<ellipse cx="374.5" cy="278.2" rx="2.2" ry="1.8" fill="#4ca8e6"/>
<ellipse cx="371.0" cy="282.4" rx="2.2" ry="1.8" fill="#4ca8e6"/>
<ellipse cx="378.0" cy="273.1" rx="2.2" ry="1.8" fill="#4ca8e6"/>
<ellipse cx="381.5" cy="280.1" rx="2.2" ry="1.8" fill="#4ca8e6"/>
<ellipse cx="378.0" cy="284.4" rx="2.2" ry="1.8" fill="#4ca8e6"/>
<ellipse cx="385.0" cy="275.0" rx="2.2" ry="1.8" fill="#4ca8e6"/>
<ellipse cx="388.5" cy="282.0" rx="2.2" ry="1.8" fill="#4ca8e6"/>
<ellipse cx="385.0" cy="286.3" rx="2.2" ry="1.8" fill="#4ca8e6"/>
<ellipse cx="392.0" cy="276.9" rx="2.2" ry="1.8" fill="#4ca8e6"/>
<ellipse cx="395.5" cy="283.9" rx="2.2" ry="1.8" fill="#4ca8e6"/>
<ellipse cx="392.0" cy="288.2" rx="2.2" ry="1.8" fill="#4ca8e6"/>
<ellipse cx="399.0" cy="278.8" rx="2.2" ry="1.8" fill="#4ca8e6"/>
<ellipse cx="402.5" cy="285.8" rx="2.2" ry="1.8" fill="#4ca8e6"/>
<ellipse cx="399.0" cy="290.1" rx="2.2" ry="1.8" fill="#4ca8e6"/>
<ellipse cx="406.0" cy="280.7" rx="2.2" ry="1.8" fill="#4ca8e6"/>
<ellipse cx="409.5" cy="287.7" rx="2.2" ry="1.8" fill="#4ca8e6"/>
<ellipse cx="406.0" cy="292.0" rx="2.2" ry="1.8" fill="#4ca8e6"/>
<ellipse cx="413.0" cy="282.6" rx="2.2" ry="1.8" fill="#4ca8e6"/>
<ellipse cx="416.5" cy="289.6" rx="2.2" ry="1.8" fill="#4ca8e6"/>
<ellipse cx="413.0" cy="294.0" rx="2.2" ry="1.8" fill="#4ca8e6"/>
<ellipse cx="420.0" cy="284.5" rx="2.2" ry="1.8" fill="#4ca8e6"/>
<ellipse cx="423.5" cy="291.5" rx="2.2" ry="1.8" fill="#4ca8e6"/>
<ellipse cx="420.0" cy="295.9" rx="2.2" ry="1.8" fill="#4ca8e6"/>
<ellipse cx="427.0" cy="286.4" rx="2.2" ry="1.8" fill="#4ca8e6"/>
<ellipse cx="430.5" cy="293.4" rx="2.2" ry="1.8" fill="#4ca8e6"/>
<ellipse cx="427.0" cy="297.8" rx="2.2" ry="1.8" fill="#4ca8e6"/>
<ellipse cx="434.0" cy="288.2" rx="2.2" ry="1.8" fill="#4ca8e6"/>
<ellipse cx="437.5" cy="295.3" rx="2.2" ry="1.8" fill="#4ca8e6"/>
<ellipse cx="434.0" cy="299.7" rx="2.2" ry="1.8" fill="#4ca8e6"/>
<ellipse cx="441.0" cy="290.1" rx="2.2" ry="1.8" fill="#4ca8e6"/>
<ellipse cx="444.5" cy="297.2" rx="2.2" ry="1.8" fill="#4ca8e6"/>
<ellipse cx="441.0" cy="301.6" rx="2.2" ry="1.8" fill="#4ca8e6"/>
<ellipse cx="448.0" cy="292.0" rx="2.2" ry="1.8" fill="#4ca8e6"/>
<ellipse cx="451.5" cy="299.1" rx="2.2" ry="1.8" fill="#4ca8e6"/>
<ellipse cx="448.0" cy="303.6" rx="2.2" ry="1.8" fill="#4ca8e6"/>
<ellipse cx="455.0" cy="293.9" rx="2.2" ry="1.8" fill="#4ca8e6"/>
<ellipse cx="458.5" cy="301.0" rx="2.2" ry="1.8" fill="#4ca8e6"/>
<ellipse cx="455.0" cy="305.5" rx="2.2" ry="1.8" fill="#4ca8e6"/>
<ellipse cx="462.0" cy="295.8" rx="2.2" ry="1.8" fill="#4ca8e6"/>
<ellipse cx="465.5" cy="303.0" rx="2.2" ry="1.8" fill="#4ca8e6"/>
<ellipse cx="462.0" cy="307.4" rx="2.2" ry="1.8" fill="#4ca8e6"/>
<ellipse cx="469.0" cy="297.7" rx="2.2" ry="1.8" fill="#4ca8e6"/>
<ellipse cx="472.5" cy="304.9" rx="2.2" ry="1.8" fill="#4ca8e6"/>
<ellipse cx="469.0" cy="309.3" rx="2.2" ry="1.8" fill="#4ca8e6"/>
<ellipse cx="476.0" cy="299.6" rx="2.2" ry="1.8" fill="#4ca8e6"/>
<ellipse cx="479.5" cy="306.8" rx="2.2" ry="1.8" fill="#4ca8e6"/>
<ellipse cx="476.0" cy="311.2" rx="2.2" ry="1.8" fill="#4ca8e6"/>
<ellipse cx="483.0" cy="301.5" rx="2.2" ry="1.8" fill="#4ca8e6"/>
<ellipse cx="486.5" cy="308.7" rx="2.2" ry="1.8" fill="#4ca8e6"/>
<ellipse cx="483.0" cy="313.2" rx="2.2" ry="1.8" fill="#4ca8e6"/>
<ellipse cx="490.0" cy="303.4" rx="2.2" ry="1.8" fill="#4ca8e6"/>
<ellipse cx="493.5" cy="310.6" rx="2.2" ry="1.8" fill="#4ca8e6"/>
<ellipse cx="490.0" cy="315.1" rx="2.2" ry="1.8" fill="#4ca8e6"/>
<ellipse cx="497.0" cy="305.2" rx="2.2" ry="1.8" fill="#4ca8e6"/>
<ellipse cx="500.5" cy="312.5" rx="2.2" ry="1.8" fill="#4ca8e6"/>
<ellipse cx="497.0" cy="317.0" rx="2.2" ry="1.8" fill="#4ca8e6"/>
<ellipse cx="504.0" cy="307.1" rx="2.2" ry="1.8" fill="#4ca8e6"/>
<ellipse cx="507.5" cy="314.4" rx="2.2" ry="1.8" fill="#4ca8e6"/>
<ellipse cx="504.0" cy="318.9" rx="2.2" ry="1.8" fill="#4ca8e6"/>
<ellipse cx="511.0" cy="309.0" rx="2.2" ry="1.8" fill="#4ca8e6"/>
<ellipse cx="514.5" cy="316.3" rx="2.2" ry="1.8" fill="#4ca8e6"/>
<ellipse cx="511.0" cy="320.8" rx="2.2" ry="1.8" fill="#4ca8e6"/>
<ellipse cx="518.0" cy="310.9" rx="2.2" ry="1.8" fill="#4ca8e6"/>
<ellipse cx="521.5" cy="318.2" rx="2.2" ry="1.8" fill="#4ca8e6"/>
<ellipse cx="518.0" cy="322.7" rx="2.2" ry="1.8" fill="#4ca8e6"/>
<ellipse cx="525.0" cy="312.8" rx="2.2" ry="1.8" fill="#4ca8e6"/>
<ellipse cx="525.0" cy="324.7" rx="2.2" ry="1.8" fill="#4ca8e6"/>
</g>
<polygon points="151.5,230.0 740.0,400.0 802.0,411.6 800.0,423.2 150.0,249.2" fill="#f6f6f7" />
<polygon points="152.0,249.7 776.0,420.6 768.0,428.0 766.0,446.0 140.0,268.4" fill="#b7cdda" />
<circle cx="299.5" cy="298.2" r="1.0" fill="#a8c0d0"/>
<circle cx="445.9" cy="339.2" r="1.0" fill="#9fb8c8"/>
<circle cx="442.9" cy="338.0" r="1.0" fill="#d2e0e8"/>
<circle cx="443.6" cy="342.2" r="0.7" fill="#c8d8e2"/>
<circle cx="685.8" cy="400.8" r="0.9" fill="#d2e0e8"/>
<circle cx="476.4" cy="349.9" r="0.6" fill="#9fb8c8"/>
<circle cx="745.6" cy="414.7" r="0.9" fill="#9fb8c8"/>
<circle cx="319.0" cy="304.3" r="0.9" fill="#c8d8e2"/>
<circle cx="723.1" cy="413.4" r="1.0" fill="#c8d8e2"/>
<circle cx="235.2" cy="277.9" r="0.6" fill="#9fb8c8"/>
<circle cx="286.5" cy="300.5" r="0.9" fill="#c8d8e2"/>
<circle cx="682.2" cy="402.5" r="0.8" fill="#c8d8e2"/>
<circle cx="483.1" cy="347.1" r="1.0" fill="#d2e0e8"/>
<circle cx="574.8" cy="379.8" r="1.0" fill="#a8c0d0"/>
<circle cx="568.2" cy="367.3" r="1.0" fill="#a8c0d0"/>
<circle cx="712.9" cy="413.0" r="0.8" fill="#d2e0e8"/>
<circle cx="764.6" cy="423.1" r="0.5" fill="#9fb8c8"/>
<circle cx="681.4" cy="410.2" r="0.7" fill="#9fb8c8"/>
<circle cx="193.3" cy="273.7" r="0.6" fill="#9fb8c8"/>
<circle cx="628.7" cy="394.0" r="0.8" fill="#9fb8c8"/>
<circle cx="624.2" cy="385.8" r="0.8" fill="#a8c0d0"/>
<circle cx="723.6" cy="411.9" r="1.0" fill="#d2e0e8"/>
<circle cx="344.0" cy="304.0" r="1.0" fill="#9fb8c8"/>
<circle cx="754.3" cy="420.6" r="0.6" fill="#a8c0d0"/>
<circle cx="178.3" cy="269.1" r="0.7" fill="#a8c0d0"/>
<circle cx="237.8" cy="285.5" r="0.7" fill="#c8d8e2"/>
<circle cx="474.4" cy="348.0" r="0.8" fill="#9fb8c8"/>
<circle cx="735.2" cy="418.3" r="0.8" fill="#c8d8e2"/>
<circle cx="595.7" cy="385.7" r="1.0" fill="#c8d8e2"/>
<circle cx="475.1" cy="346.9" r="0.9" fill="#9fb8c8"/>
<circle cx="764.2" cy="423.7" r="0.8" fill="#c8d8e2"/>
<circle cx="544.0" cy="359.1" r="0.7" fill="#a8c0d0"/>
<circle cx="573.2" cy="371.3" r="0.9" fill="#a8c0d0"/>
<circle cx="165.8" cy="254.4" r="1.0" fill="#9fb8c8"/>
<circle cx="307.7" cy="299.2" r="0.6" fill="#a8c0d0"/>
<circle cx="266.9" cy="292.1" r="0.7" fill="#a8c0d0"/>
<circle cx="385.8" cy="325.3" r="1.0" fill="#9fb8c8"/>
<circle cx="575.9" cy="369.0" r="0.8" fill="#d2e0e8"/>
<circle cx="319.0" cy="300.6" r="0.8" fill="#c8d8e2"/>
<circle cx="212.2" cy="274.8" r="0.8" fill="#a8c0d0"/>
<circle cx="291.2" cy="299.6" r="0.5" fill="#d2e0e8"/>
<circle cx="612.1" cy="380.2" r="0.6" fill="#c8d8e2"/>
<circle cx="639.9" cy="385.3" r="0.7" fill="#d2e0e8"/>
<circle cx="670.4" cy="401.4" r="0.7" fill="#a8c0d0"/>
<circle cx="665.3" cy="393.1" r="0.8" fill="#a8c0d0"/>
<circle cx="413.2" cy="329.3" r="0.7" fill="#a8c0d0"/>
<circle cx="545.2" cy="362.7" r="0.5" fill="#c8d8e2"/>
<circle cx="408.2" cy="323.5" r="1.0" fill="#c8d8e2"/>
<circle cx="697.6" cy="414.6" r="0.8" fill="#c8d8e2"/>
<circle cx="763.2" cy="429.0" r="0.9" fill="#9fb8c8"/>
<circle cx="670.8" cy="402.7" r="0.8" fill="#a8c0d0"/>
<circle cx="703.6" cy="414.6" r="0.6" fill="#a8c0d0"/>
<circle cx="303.6" cy="292.2" r="0.9" fill="#d2e0e8"/>
<circle cx="709.8" cy="412.3" r="0.7" fill="#9fb8c8"/>
<circle cx="226.9" cy="277.5" r="0.8" fill="#d2e0e8"/>
<circle cx="477.5" cy="345.7" r="0.7" fill="#9fb8c8"/>
<circle cx="308.5" cy="305.1" r="0.9" fill="#c8d8e2"/>
<circle cx="190.0" cy="263.3" r="0.8" fill="#9fb8c8"/>
<circle cx="658.4" cy="392.4" r="1.0" fill="#a8c0d0"/>
<circle cx="651.8" cy="399.7" r="0.7" fill="#9fb8c8"/>
<circle cx="506.0" cy="353.4" r="0.6" fill="#a8c0d0"/>
<circle cx="535.2" cy="363.1" r="0.7" fill="#9fb8c8"/>
<circle cx="633.4" cy="383.1" r="0.9" fill="#9fb8c8"/>
<circle cx="180.6" cy="258.3" r="1.0" fill="#c8d8e2"/>
<circle cx="681.8" cy="397.7" r="0.7" fill="#c8d8e2"/>
<circle cx="347.0" cy="308.6" r="0.8" fill="#c8d8e2"/>
<circle cx="375.7" cy="314.3" r="0.7" fill="#a8c0d0"/>
<circle cx="231.1" cy="271.7" r="0.9" fill="#c8d8e2"/>
<circle cx="503.4" cy="347.6" r="0.8" fill="#c8d8e2"/>
<circle cx="637.2" cy="389.4" r="0.8" fill="#9fb8c8"/>
<circle cx="419.6" cy="329.0" r="0.9" fill="#c8d8e2"/>
<circle cx="347.3" cy="317.1" r="0.7" fill="#c8d8e2"/>
<circle cx="304.0" cy="299.3" r="0.9" fill="#9fb8c8"/>
<circle cx="291.2" cy="290.1" r="1.0" fill="#9fb8c8"/>
<circle cx="384.0" cy="326.5" r="0.6" fill="#a8c0d0"/>
<circle cx="580.1" cy="381.4" r="0.8" fill="#c8d8e2"/>
<circle cx="606.9" cy="383.6" r="0.9" fill="#9fb8c8"/>
<circle cx="596.3" cy="379.4" r="0.9" fill="#d2e0e8"/>
<circle cx="179.5" cy="258.6" r="0.8" fill="#9fb8c8"/>
<circle cx="385.0" cy="325.7" r="0.9" fill="#a8c0d0"/>
<circle cx="227.2" cy="282.3" r="0.9" fill="#c8d8e2"/>
<circle cx="742.5" cy="421.4" r="0.5" fill="#9fb8c8"/>
<circle cx="627.8" cy="388.7" r="0.6" fill="#d2e0e8"/>
<circle cx="616.4" cy="391.4" r="0.8" fill="#9fb8c8"/>
<circle cx="691.0" cy="401.5" r="0.6" fill="#9fb8c8"/>
<circle cx="263.5" cy="284.1" r="0.6" fill="#c8d8e2"/>
<circle cx="523.7" cy="365.8" r="1.0" fill="#c8d8e2"/>
<circle cx="384.7" cy="317.5" r="0.9" fill="#c8d8e2"/>
<circle cx="751.6" cy="421.6" r="0.6" fill="#c8d8e2"/>
<circle cx="400.7" cy="331.0" r="0.5" fill="#d2e0e8"/>
<circle cx="615.9" cy="391.0" r="0.8" fill="#c8d8e2"/>
<circle cx="684.0" cy="399.0" r="0.6" fill="#d2e0e8"/>
<circle cx="471.7" cy="351.3" r="0.8" fill="#a8c0d0"/>
<circle cx="682.3" cy="404.9" r="0.9" fill="#a8c0d0"/>
<circle cx="342.5" cy="306.2" r="0.6" fill="#c8d8e2"/>
<circle cx="505.3" cy="350.9" r="0.9" fill="#c8d8e2"/>
<circle cx="241.0" cy="288.2" r="0.9" fill="#c8d8e2"/>
<circle cx="279.6" cy="293.2" r="0.7" fill="#9fb8c8"/>
<circle cx="598.8" cy="385.5" r="0.9" fill="#c8d8e2"/>
<circle cx="698.7" cy="401.8" r="0.9" fill="#d2e0e8"/>
<circle cx="553.9" cy="371.9" r="1.0" fill="#9fb8c8"/>
<circle cx="681.4" cy="399.7" r="0.9" fill="#d2e0e8"/>
<circle cx="237.2" cy="282.0" r="0.9" fill="#9fb8c8"/>
<circle cx="310.1" cy="305.6" r="0.6" fill="#a8c0d0"/>
<circle cx="208.4" cy="276.5" r="0.5" fill="#9fb8c8"/>
<circle cx="669.0" cy="397.0" r="0.7" fill="#a8c0d0"/>
<circle cx="607.1" cy="380.5" r="0.7" fill="#9fb8c8"/>
<circle cx="422.5" cy="331.4" r="0.8" fill="#d2e0e8"/>
<circle cx="612.3" cy="384.1" r="0.8" fill="#d2e0e8"/>
<circle cx="225.9" cy="274.0" r="0.6" fill="#c8d8e2"/>
<circle cx="702.1" cy="414.8" r="0.8" fill="#9fb8c8"/>
<circle cx="586.4" cy="379.5" r="0.9" fill="#a8c0d0"/>
<circle cx="335.2" cy="309.9" r="0.6" fill="#a8c0d0"/>
<circle cx="737.6" cy="416.6" r="0.8" fill="#9fb8c8"/>
<circle cx="467.4" cy="337.9" r="0.8" fill="#a8c0d0"/>
<circle cx="503.2" cy="349.5" r="0.6" fill="#d2e0e8"/>
<circle cx="703.7" cy="411.7" r="0.6" fill="#9fb8c8"/>
<circle cx="499.1" cy="358.7" r="0.8" fill="#c8d8e2"/>
<circle cx="553.4" cy="367.3" r="0.9" fill="#a8c0d0"/>
<circle cx="589.4" cy="372.4" r="0.9" fill="#d2e0e8"/>
<circle cx="488.7" cy="353.3" r="0.5" fill="#a8c0d0"/>
<circle cx="319.9" cy="297.0" r="0.5" fill="#d2e0e8"/>
<circle cx="464.9" cy="339.8" r="0.9" fill="#a8c0d0"/>
<circle cx="737.9" cy="418.3" r="0.7" fill="#9fb8c8"/>
<circle cx="677.1" cy="396.7" r="0.8" fill="#a8c0d0"/>
<circle cx="574.5" cy="374.6" r="0.6" fill="#9fb8c8"/>
<circle cx="269.3" cy="288.0" r="0.9" fill="#c8d8e2"/>
<circle cx="616.2" cy="386.6" r="0.9" fill="#d2e0e8"/>
<circle cx="646.9" cy="394.4" r="0.8" fill="#d2e0e8"/>
<circle cx="277.3" cy="287.9" r="0.5" fill="#a8c0d0"/>
<circle cx="650.0" cy="400.1" r="0.7" fill="#c8d8e2"/>
<circle cx="713.8" cy="409.7" r="1.0" fill="#c8d8e2"/>
<circle cx="577.7" cy="371.8" r="0.5" fill="#c8d8e2"/>
<circle cx="270.1" cy="291.3" r="0.9" fill="#9fb8c8"/>
<circle cx="562.4" cy="370.3" r="0.6" fill="#c8d8e2"/>
<circle cx="636.9" cy="387.0" r="0.6" fill="#c8d8e2"/>
<circle cx="327.6" cy="307.6" r="0.6" fill="#d2e0e8"/>
<circle cx="643.3" cy="394.5" r="0.5" fill="#9fb8c8"/>
<circle cx="535.4" cy="363.0" r="0.8" fill="#c8d8e2"/>
<circle cx="728.5" cy="413.9" r="0.8" fill="#a8c0d0"/>
<circle cx="235.3" cy="284.8" r="0.9" fill="#9fb8c8"/>
<circle cx="610.6" cy="381.6" r="1.0" fill="#d2e0e8"/>
<circle cx="686.1" cy="403.8" r="0.7" fill="#d2e0e8"/>
<circle cx="219.7" cy="269.0" r="0.9" fill="#9fb8c8"/>
<circle cx="589.6" cy="376.4" r="0.8" fill="#c8d8e2"/>
<circle cx="485.2" cy="347.9" r="0.7" fill="#c8d8e2"/>
<circle cx="439.9" cy="340.1" r="0.7" fill="#c8d8e2"/>
<circle cx="434.3" cy="328.4" r="0.7" fill="#a8c0d0"/>
<circle cx="382.0" cy="320.8" r="0.6" fill="#c8d8e2"/>
<circle cx="153.7" cy="253.1" r="0.6" fill="#a8c0d0"/>
<circle cx="437.2" cy="331.4" r="0.5" fill="#d2e0e8"/>
<circle cx="514.4" cy="357.1" r="0.6" fill="#9fb8c8"/>
<circle cx="529.4" cy="360.4" r="0.5" fill="#d2e0e8"/>
<circle cx="165.9" cy="259.8" r="0.5" fill="#c8d8e2"/>
<circle cx="594.7" cy="375.7" r="0.7" fill="#9fb8c8"/>
<circle cx="168.5" cy="267.8" r="0.6" fill="#d2e0e8"/>
<circle cx="393.2" cy="319.2" r="0.8" fill="#a8c0d0"/>
<circle cx="366.7" cy="310.9" r="0.9" fill="#9fb8c8"/>
<circle cx="332.3" cy="313.4" r="0.9" fill="#c8d8e2"/>
<circle cx="748.2" cy="421.7" r="0.5" fill="#a8c0d0"/>
<circle cx="360.9" cy="321.5" r="0.5" fill="#a8c0d0"/>
<circle cx="575.1" cy="380.5" r="0.6" fill="#9fb8c8"/>
<circle cx="574.1" cy="366.9" r="0.7" fill="#9fb8c8"/>
<circle cx="269.2" cy="289.3" r="0.6" fill="#a8c0d0"/>
<circle cx="755.8" cy="423.6" r="1.0" fill="#c8d8e2"/>
<circle cx="734.9" cy="411.6" r="0.9" fill="#a8c0d0"/>
<circle cx="543.5" cy="363.7" r="0.6" fill="#a8c0d0"/>
<circle cx="408.1" cy="327.7" r="0.8" fill="#a8c0d0"/>
<circle cx="634.6" cy="389.0" r="0.9" fill="#c8d8e2"/>
<circle cx="495.1" cy="357.7" r="0.9" fill="#a8c0d0"/>
<circle cx="423.8" cy="331.2" r="0.7" fill="#c8d8e2"/>
<circle cx="661.0" cy="397.8" r="1.0" fill="#c8d8e2"/>
<circle cx="178.5" cy="259.4" r="0.9" fill="#9fb8c8"/>
<circle cx="209.0" cy="275.2" r="0.7" fill="#9fb8c8"/>
<circle cx="524.4" cy="364.1" r="0.9" fill="#9fb8c8"/>
<circle cx="692.8" cy="405.8" r="1.0" fill="#a8c0d0"/>
<circle cx="153.0" cy="252.7" r="0.7" fill="#9fb8c8"/>
<circle cx="345.0" cy="309.5" r="0.6" fill="#d2e0e8"/>
<circle cx="182.3" cy="260.2" r="0.8" fill="#d2e0e8"/>
<circle cx="159.2" cy="254.9" r="0.6" fill="#d2e0e8"/>
<circle cx="500.7" cy="352.2" r="0.9" fill="#a8c0d0"/>
<circle cx="483.8" cy="344.3" r="0.8" fill="#d2e0e8"/>
<circle cx="177.6" cy="268.1" r="0.9" fill="#9fb8c8"/>
<circle cx="214.9" cy="280.3" r="0.5" fill="#a8c0d0"/>
<circle cx="440.4" cy="332.7" r="0.8" fill="#9fb8c8"/>
<circle cx="624.1" cy="392.7" r="0.7" fill="#a8c0d0"/>
<circle cx="561.9" cy="374.1" r="0.9" fill="#a8c0d0"/>
<circle cx="520.5" cy="363.2" r="0.6" fill="#d2e0e8"/>
<circle cx="156.7" cy="255.2" r="0.7" fill="#9fb8c8"/>
<circle cx="271.0" cy="293.2" r="0.7" fill="#a8c0d0"/>
<circle cx="554.0" cy="369.5" r="0.6" fill="#d2e0e8"/>
<circle cx="671.5" cy="394.5" r="0.7" fill="#d2e0e8"/>
<circle cx="204.2" cy="267.2" r="0.9" fill="#d2e0e8"/>
<circle cx="280.3" cy="288.3" r="1.0" fill="#c8d8e2"/>
<circle cx="484.1" cy="347.6" r="1.0" fill="#d2e0e8"/>
<circle cx="740.8" cy="419.6" r="0.7" fill="#c8d8e2"/>
<circle cx="516.3" cy="351.1" r="0.6" fill="#9fb8c8"/>
<circle cx="211.4" cy="276.3" r="0.8" fill="#a8c0d0"/>
<circle cx="190.0" cy="266.9" r="0.9" fill="#d2e0e8"/>
<circle cx="323.1" cy="303.2" r="0.7" fill="#a8c0d0"/>
<circle cx="274.0" cy="294.4" r="0.6" fill="#d2e0e8"/>
<circle cx="337.6" cy="306.9" r="0.6" fill="#9fb8c8"/>
<circle cx="454.1" cy="344.7" r="1.0" fill="#a8c0d0"/>
<circle cx="759.4" cy="430.2" r="1.0" fill="#a8c0d0"/>
<circle cx="419.4" cy="336.9" r="0.8" fill="#c8d8e2"/>
<circle cx="488.1" cy="347.8" r="0.6" fill="#a8c0d0"/>
<circle cx="439.2" cy="341.7" r="0.9" fill="#a8c0d0"/>
<circle cx="728.7" cy="416.7" r="0.6" fill="#9fb8c8"/>
<circle cx="481.1" cy="348.4" r="1.0" fill="#d2e0e8"/>
<circle cx="153.2" cy="263.8" r="0.7" fill="#c8d8e2"/>
<circle cx="750.7" cy="420.6" r="0.7" fill="#9fb8c8"/>
<circle cx="300.0" cy="294.6" r="0.9" fill="#a8c0d0"/>
<circle cx="526.2" cy="364.7" r="0.7" fill="#c8d8e2"/>
<circle cx="305.3" cy="303.4" r="0.9" fill="#c8d8e2"/>
<circle cx="362.5" cy="308.4" r="0.8" fill="#9fb8c8"/>
<circle cx="570.6" cy="378.4" r="1.0" fill="#d2e0e8"/>
<circle cx="613.1" cy="389.2" r="0.8" fill="#c8d8e2"/>
<circle cx="667.2" cy="400.1" r="0.5" fill="#a8c0d0"/>
<circle cx="180.1" cy="264.3" r="0.9" fill="#9fb8c8"/>
<circle cx="713.8" cy="411.9" r="0.7" fill="#c8d8e2"/>
<circle cx="543.9" cy="362.4" r="0.8" fill="#9fb8c8"/>
<circle cx="767.1" cy="427.7" r="0.9" fill="#c8d8e2"/>
<circle cx="427.3" cy="329.9" r="0.7" fill="#a8c0d0"/>
<circle cx="746.7" cy="416.6" r="0.6" fill="#a8c0d0"/>
<circle cx="175.4" cy="263.0" r="0.9" fill="#d2e0e8"/>
<circle cx="729.4" cy="418.2" r="0.7" fill="#9fb8c8"/>
<circle cx="522.6" cy="354.0" r="0.6" fill="#d2e0e8"/>
<circle cx="591.8" cy="384.3" r="0.7" fill="#9fb8c8"/>
<circle cx="199.0" cy="263.2" r="0.9" fill="#c8d8e2"/>
<circle cx="747.4" cy="423.6" r="0.7" fill="#d2e0e8"/>
<circle cx="366.4" cy="318.2" r="0.7" fill="#c8d8e2"/>
<circle cx="320.0" cy="309.5" r="0.7" fill="#a8c0d0"/>
<circle cx="395.4" cy="321.1" r="0.7" fill="#d2e0e8"/>
<circle cx="408.3" cy="333.3" r="0.6" fill="#c8d8e2"/>
<circle cx="276.0" cy="285.2" r="0.9" fill="#9fb8c8"/>
<circle cx="671.7" cy="402.5" r="1.0" fill="#9fb8c8"/>
<circle cx="756.1" cy="426.7" r="0.6" fill="#c8d8e2"/>
<circle cx="451.4" cy="336.4" r="0.6" fill="#9fb8c8"/>
<circle cx="453.7" cy="335.6" r="1.0" fill="#d2e0e8"/>
<circle cx="262.3" cy="294.2" r="0.8" fill="#c8d8e2"/>
<circle cx="240.2" cy="274.9" r="0.7" fill="#d2e0e8"/>
<circle cx="554.2" cy="362.9" r="0.5" fill="#d2e0e8"/>
<circle cx="747.7" cy="422.2" r="0.9" fill="#c8d8e2"/>
<circle cx="420.6" cy="326.7" r="0.6" fill="#9fb8c8"/>
<circle cx="233.4" cy="274.3" r="0.7" fill="#d2e0e8"/>
<circle cx="733.5" cy="419.2" r="0.5" fill="#d2e0e8"/>
<circle cx="382.0" cy="315.4" r="0.6" fill="#c8d8e2"/>
<circle cx="371.7" cy="323.9" r="0.6" fill="#c8d8e2"/>
<circle cx="677.1" cy="401.8" r="0.8" fill="#a8c0d0"/>
<circle cx="681.5" cy="402.6" r="0.7" fill="#c8d8e2"/>
<circle cx="485.6" cy="348.3" r="0.9" fill="#c8d8e2"/>
<circle cx="276.3" cy="292.5" r="0.7" fill="#d2e0e8"/>
<circle cx="684.4" cy="410.6" r="0.6" fill="#a8c0d0"/>
<circle cx="277.5" cy="285.2" r="0.7" fill="#9fb8c8"/>
<circle cx="693.1" cy="401.2" r="0.6" fill="#9fb8c8"/>
<circle cx="228.0" cy="276.4" r="0.8" fill="#a8c0d0"/>
<circle cx="626.9" cy="382.6" r="0.7" fill="#c8d8e2"/>
<circle cx="518.1" cy="354.2" r="0.8" fill="#c8d8e2"/>
<circle cx="383.6" cy="318.3" r="0.9" fill="#a8c0d0"/>
<circle cx="630.0" cy="392.2" r="0.9" fill="#a8c0d0"/>
<circle cx="669.8" cy="397.2" r="0.6" fill="#a8c0d0"/>
<circle cx="228.4" cy="277.9" r="0.9" fill="#a8c0d0"/>
<circle cx="306.1" cy="298.5" r="0.7" fill="#a8c0d0"/>
<circle cx="448.3" cy="339.2" r="1.0" fill="#d2e0e8"/>
<circle cx="479.7" cy="346.6" r="0.5" fill="#9fb8c8"/>
<circle cx="415.8" cy="334.6" r="0.5" fill="#a8c0d0"/>
<circle cx="681.8" cy="401.8" r="0.7" fill="#9fb8c8"/>
<circle cx="285.1" cy="294.2" r="0.7" fill="#9fb8c8"/>
<circle cx="689.8" cy="408.6" r="0.5" fill="#a8c0d0"/>
<circle cx="382.7" cy="318.8" r="0.7" fill="#c8d8e2"/>
<circle cx="556.1" cy="373.9" r="0.6" fill="#c8d8e2"/>
<circle cx="288.3" cy="292.7" r="0.6" fill="#9fb8c8"/>
<circle cx="202.6" cy="268.2" r="0.6" fill="#a8c0d0"/>
<circle cx="169.6" cy="264.8" r="0.8" fill="#a8c0d0"/>
<circle cx="609.2" cy="387.9" r="0.7" fill="#d2e0e8"/>
<circle cx="575.1" cy="368.6" r="0.6" fill="#c8d8e2"/>
<circle cx="238.1" cy="277.9" r="0.6" fill="#d2e0e8"/>
<circle cx="259.7" cy="291.9" r="0.5" fill="#c8d8e2"/>
<circle cx="369.8" cy="310.1" r="0.7" fill="#d2e0e8"/>
<circle cx="238.8" cy="276.6" r="0.8" fill="#c8d8e2"/>
<circle cx="740.8" cy="417.0" r="0.5" fill="#a8c0d0"/>
<circle cx="759.0" cy="427.5" r="0.5" fill="#9fb8c8"/>
<circle cx="695.8" cy="410.8" r="0.5" fill="#a8c0d0"/>
<circle cx="157.9" cy="258.1" r="0.8" fill="#c8d8e2"/>
<circle cx="210.4" cy="275.1" r="0.9" fill="#c8d8e2"/>
<circle cx="292.1" cy="293.0" r="1.0" fill="#c8d8e2"/>
<circle cx="184.2" cy="265.9" r="0.8" fill="#d2e0e8"/>
<circle cx="204.9" cy="267.6" r="0.9" fill="#c8d8e2"/>
<circle cx="721.3" cy="412.9" r="1.0" fill="#a8c0d0"/>
<circle cx="562.1" cy="370.7" r="0.8" fill="#d2e0e8"/>
<circle cx="364.5" cy="316.8" r="0.8" fill="#a8c0d0"/>
<circle cx="372.0" cy="321.4" r="0.7" fill="#d2e0e8"/>
<circle cx="599.2" cy="385.6" r="0.7" fill="#d2e0e8"/>
<circle cx="681.3" cy="398.9" r="1.0" fill="#9fb8c8"/>
<circle cx="226.2" cy="283.1" r="0.9" fill="#c8d8e2"/>
<circle cx="347.6" cy="314.4" r="0.7" fill="#a8c0d0"/>
<circle cx="390.3" cy="327.6" r="0.6" fill="#9fb8c8"/>
<circle cx="379.5" cy="315.8" r="0.6" fill="#a8c0d0"/>
<circle cx="315.3" cy="304.6" r="0.9" fill="#a8c0d0"/>
<circle cx="280.7" cy="289.6" r="0.8" fill="#d2e0e8"/>
<circle cx="304.2" cy="301.7" r="0.9" fill="#d2e0e8"/>
<circle cx="378.2" cy="315.6" r="0.8" fill="#c8d8e2"/>
<circle cx="415.2" cy="325.1" r="0.7" fill="#a8c0d0"/>
<circle cx="186.7" cy="270.3" r="0.7" fill="#c8d8e2"/>
<circle cx="511.0" cy="352.9" r="0.8" fill="#c8d8e2"/>
<circle cx="289.6" cy="299.3" r="0.7" fill="#c8d8e2"/>
<circle cx="769.2" cy="427.4" r="0.6" fill="#d2e0e8"/>
<circle cx="411.9" cy="333.8" r="0.8" fill="#d2e0e8"/>
<circle cx="218.7" cy="275.6" r="0.7" fill="#a8c0d0"/>
<circle cx="486.4" cy="354.4" r="0.7" fill="#c8d8e2"/>
<circle cx="178.0" cy="261.8" r="0.8" fill="#d2e0e8"/>
<circle cx="587.2" cy="383.9" r="0.8" fill="#a8c0d0"/>
<circle cx="572.3" cy="370.2" r="1.0" fill="#a8c0d0"/>
<circle cx="670.3" cy="403.7" r="1.0" fill="#a8c0d0"/>
<circle cx="414.2" cy="330.2" r="0.7" fill="#a8c0d0"/>
<circle cx="381.4" cy="315.8" r="0.8" fill="#a8c0d0"/>
<circle cx="500.8" cy="351.7" r="0.7" fill="#9fb8c8"/>
<circle cx="252.5" cy="290.4" r="0.6" fill="#c8d8e2"/>
<circle cx="396.5" cy="320.2" r="0.8" fill="#c8d8e2"/>
<circle cx="378.7" cy="322.6" r="0.9" fill="#c8d8e2"/>
<circle cx="254.8" cy="287.5" r="0.6" fill="#9fb8c8"/>
<circle cx="485.3" cy="354.9" r="0.7" fill="#a8c0d0"/>
<circle cx="193.0" cy="264.9" r="0.6" fill="#a8c0d0"/>
<circle cx="313.7" cy="297.5" r="0.7" fill="#9fb8c8"/>
<circle cx="421.1" cy="327.9" r="0.6" fill="#d2e0e8"/>
<circle cx="635.7" cy="397.0" r="0.6" fill="#d2e0e8"/>
<circle cx="312.2" cy="298.9" r="1.0" fill="#a8c0d0"/>
<circle cx="213.1" cy="276.5" r="0.6" fill="#9fb8c8"/>
<circle cx="435.4" cy="341.8" r="0.9" fill="#a8c0d0"/>
<circle cx="240.0" cy="274.7" r="0.6" fill="#c8d8e2"/>
<circle cx="467.5" cy="342.3" r="0.9" fill="#c8d8e2"/>
<circle cx="464.6" cy="345.9" r="1.0" fill="#c8d8e2"/>
<circle cx="418.6" cy="327.7" r="0.8" fill="#a8c0d0"/>
<circle cx="392.6" cy="317.0" r="0.7" fill="#d2e0e8"/>
<circle cx="152.9" cy="261.0" r="0.8" fill="#d2e0e8"/>
<circle cx="742.9" cy="425.3" r="0.6" fill="#a8c0d0"/>
<circle cx="541.5" cy="365.5" r="0.6" fill="#a8c0d0"/>
<circle cx="250.2" cy="290.6" r="0.7" fill="#9fb8c8"/>
<circle cx="609.9" cy="378.6" r="0.8" fill="#a8c0d0"/>
<circle cx="526.3" cy="355.7" r="0.5" fill="#d2e0e8"/>
<circle cx="201.5" cy="273.0" r="0.5" fill="#9fb8c8"/>
<circle cx="203.3" cy="274.9" r="0.9" fill="#c8d8e2"/>
<circle cx="494.8" cy="353.9" r="0.6" fill="#c8d8e2"/>
<circle cx="586.6" cy="370.1" r="0.8" fill="#a8c0d0"/>
<circle cx="409.5" cy="321.1" r="0.8" fill="#a8c0d0"/>
<circle cx="355.2" cy="319.6" r="0.5" fill="#9fb8c8"/>
<circle cx="283.1" cy="286.2" r="1.0" fill="#c8d8e2"/>
<circle cx="599.2" cy="382.4" r="0.7" fill="#c8d8e2"/>
<circle cx="648.1" cy="392.0" r="0.6" fill="#d2e0e8"/>
<circle cx="395.2" cy="322.6" r="0.8" fill="#9fb8c8"/>
<circle cx="522.4" cy="356.4" r="0.7" fill="#9fb8c8"/>
<circle cx="516.8" cy="353.9" r="0.8" fill="#c8d8e2"/>
<circle cx="316.5" cy="305.9" r="0.8" fill="#c8d8e2"/>
<circle cx="608.0" cy="383.3" r="0.8" fill="#c8d8e2"/>
<circle cx="648.0" cy="389.6" r="0.8" fill="#c8d8e2"/>
<circle cx="213.8" cy="279.8" r="0.7" fill="#d2e0e8"/>
<circle cx="230.2" cy="285.4" r="0.6" fill="#d2e0e8"/>
<circle cx="478.2" cy="344.2" r="0.7" fill="#9fb8c8"/>
<circle cx="449.4" cy="335.5" r="0.5" fill="#c8d8e2"/>
<circle cx="166.3" cy="262.4" r="0.9" fill="#9fb8c8"/>
<circle cx="690.8" cy="411.6" r="0.7" fill="#9fb8c8"/>
<circle cx="335.7" cy="312.0" r="0.7" fill="#c8d8e2"/>
<circle cx="341.1" cy="303.9" r="0.7" fill="#9fb8c8"/>
<circle cx="554.8" cy="362.9" r="0.6" fill="#d2e0e8"/>
<circle cx="250.3" cy="282.4" r="0.8" fill="#d2e0e8"/>
<circle cx="203.3" cy="273.3" r="0.7" fill="#9fb8c8"/>
<circle cx="376.6" cy="318.9" r="0.7" fill="#9fb8c8"/>
<circle cx="592.8" cy="379.6" r="0.7" fill="#c8d8e2"/>
<circle cx="364.9" cy="321.8" r="0.7" fill="#a8c0d0"/>
<circle cx="609.6" cy="380.1" r="0.9" fill="#c8d8e2"/>
<circle cx="279.5" cy="286.4" r="0.9" fill="#a8c0d0"/>
<circle cx="745.2" cy="420.7" r="0.9" fill="#d2e0e8"/>
<circle cx="524.0" cy="362.0" r="0.8" fill="#9fb8c8"/>
<circle cx="301.7" cy="293.7" r="0.8" fill="#9fb8c8"/>
<circle cx="718.4" cy="412.9" r="0.9" fill="#c8d8e2"/>
<circle cx="502.2" cy="351.5" r="0.9" fill="#c8d8e2"/>
<circle cx="378.0" cy="323.7" r="0.7" fill="#c8d8e2"/>
<circle cx="601.8" cy="378.1" r="0.6" fill="#d2e0e8"/>
<circle cx="697.0" cy="411.4" r="0.8" fill="#9fb8c8"/>
<circle cx="603.2" cy="376.1" r="0.7" fill="#c8d8e2"/>
<circle cx="386.7" cy="321.7" r="0.8" fill="#c8d8e2"/>
<circle cx="446.1" cy="332.0" r="1.0" fill="#d2e0e8"/>
<circle cx="272.5" cy="295.6" r="1.0" fill="#9fb8c8"/>
<circle cx="237.5" cy="284.3" r="0.6" fill="#9fb8c8"/>
<circle cx="520.7" cy="365.1" r="0.8" fill="#a8c0d0"/>
<circle cx="231.8" cy="277.7" r="0.6" fill="#d2e0e8"/>
<circle cx="580.1" cy="377.1" r="0.7" fill="#c8d8e2"/>
<circle cx="426.6" cy="338.8" r="0.8" fill="#a8c0d0"/>
<circle cx="518.2" cy="355.9" r="0.6" fill="#c8d8e2"/>
<circle cx="227.2" cy="273.3" r="0.9" fill="#d2e0e8"/>
<circle cx="303.2" cy="294.7" r="0.6" fill="#a8c0d0"/>
<circle cx="710.7" cy="409.1" r="0.9" fill="#a8c0d0"/>
<circle cx="668.5" cy="395.7" r="0.5" fill="#c8d8e2"/>
<circle cx="551.6" cy="371.8" r="1.0" fill="#d2e0e8"/>
<circle cx="618.9" cy="390.5" r="0.9" fill="#9fb8c8"/>
<circle cx="365.2" cy="312.8" r="1.0" fill="#a8c0d0"/>
<circle cx="713.3" cy="418.0" r="0.7" fill="#9fb8c8"/>
<circle cx="307.7" cy="300.3" r="0.6" fill="#c8d8e2"/>
<circle cx="330.6" cy="312.4" r="0.7" fill="#d2e0e8"/>
<circle cx="278.5" cy="289.6" r="0.6" fill="#9fb8c8"/>
<circle cx="709.0" cy="409.6" r="0.9" fill="#a8c0d0"/>
<circle cx="634.8" cy="386.8" r="0.8" fill="#9fb8c8"/>
<circle cx="227.8" cy="273.1" r="0.7" fill="#a8c0d0"/>
<circle cx="257.1" cy="283.4" r="0.9" fill="#9fb8c8"/>
<circle cx="528.6" cy="355.0" r="0.8" fill="#a8c0d0"/>
<circle cx="164.4" cy="259.3" r="1.0" fill="#c8d8e2"/>
<circle cx="256.4" cy="278.6" r="0.7" fill="#d2e0e8"/>
<circle cx="681.6" cy="400.3" r="0.9" fill="#d2e0e8"/>
<circle cx="384.7" cy="319.2" r="0.9" fill="#a8c0d0"/>
<circle cx="731.1" cy="414.7" r="0.8" fill="#c8d8e2"/>
<circle cx="158.4" cy="252.5" r="0.6" fill="#a8c0d0"/>
<circle cx="760.5" cy="419.9" r="0.6" fill="#d2e0e8"/>
<circle cx="645.0" cy="389.9" r="0.7" fill="#9fb8c8"/>
<circle cx="154.7" cy="253.6" r="0.9" fill="#a8c0d0"/>
<circle cx="759.4" cy="418.7" r="0.6" fill="#c8d8e2"/>
<circle cx="549.3" cy="366.8" r="0.9" fill="#a8c0d0"/>
<circle cx="645.3" cy="400.3" r="0.9" fill="#c8d8e2"/>
<circle cx="492.1" cy="345.0" r="0.8" fill="#9fb8c8"/>
<circle cx="277.0" cy="285.8" r="0.8" fill="#9fb8c8"/>
<circle cx="169.7" cy="257.6" r="0.5" fill="#c8d8e2"/>
<circle cx="468.6" cy="350.5" r="0.7" fill="#d2e0e8"/>
<circle cx="427.9" cy="339.9" r="0.9" fill="#a8c0d0"/>
<circle cx="584.9" cy="369.8" r="0.9" fill="#d2e0e8"/>
<circle cx="552.4" cy="360.8" r="0.6" fill="#c8d8e2"/>
<circle cx="677.0" cy="401.4" r="0.8" fill="#c8d8e2"/>
<circle cx="236.6" cy="283.4" r="0.9" fill="#a8c0d0"/>
<circle cx="326.5" cy="301.3" r="0.8" fill="#d2e0e8"/>
<circle cx="358.9" cy="318.3" r="0.8" fill="#d2e0e8"/>
<circle cx="585.1" cy="374.1" r="0.7" fill="#a8c0d0"/>
<circle cx="617.6" cy="381.1" r="0.5" fill="#a8c0d0"/>
<circle cx="727.4" cy="419.3" r="0.7" fill="#c8d8e2"/>
<circle cx="746.5" cy="420.4" r="1.0" fill="#d2e0e8"/>
<circle cx="540.0" cy="357.3" r="0.7" fill="#a8c0d0"/>
<circle cx="185.9" cy="268.1" r="0.8" fill="#a8c0d0"/>
<circle cx="459.0" cy="342.1" r="0.9" fill="#c8d8e2"/>
<circle cx="612.1" cy="389.0" r="0.5" fill="#a8c0d0"/>
<circle cx="580.4" cy="379.7" r="0.7" fill="#c8d8e2"/>
<circle cx="253.9" cy="289.9" r="1.0" fill="#d2e0e8"/>
<circle cx="714.4" cy="409.2" r="1.0" fill="#d2e0e8"/>
<circle cx="539.6" cy="360.4" r="0.6" fill="#9fb8c8"/>
<circle cx="561.0" cy="374.4" r="0.5" fill="#9fb8c8"/>
<circle cx="424.5" cy="332.0" r="1.0" fill="#9fb8c8"/>
<circle cx="546.7" cy="370.0" r="0.8" fill="#d2e0e8"/>
<circle cx="514.6" cy="357.1" r="0.7" fill="#c8d8e2"/>
<circle cx="191.9" cy="268.5" r="0.9" fill="#a8c0d0"/>
<circle cx="198.0" cy="273.9" r="0.5" fill="#d2e0e8"/>
<circle cx="249.9" cy="278.1" r="0.8" fill="#a8c0d0"/>
<circle cx="299.9" cy="300.6" r="0.5" fill="#9fb8c8"/>
<circle cx="490.1" cy="352.9" r="0.6" fill="#a8c0d0"/>
<circle cx="329.2" cy="302.3" r="0.8" fill="#a8c0d0"/>
<circle cx="244.4" cy="281.3" r="0.5" fill="#c8d8e2"/>
<circle cx="723.0" cy="419.6" r="1.0" fill="#9fb8c8"/>
<circle cx="317.5" cy="299.8" r="0.5" fill="#9fb8c8"/>
<circle cx="749.2" cy="426.3" r="0.9" fill="#c8d8e2"/>
<circle cx="397.7" cy="330.0" r="0.8" fill="#d2e0e8"/>
<circle cx="675.9" cy="395.4" r="1.0" fill="#a8c0d0"/>
<circle cx="265.9" cy="294.0" r="0.9" fill="#a8c0d0"/>
<circle cx="610.8" cy="389.8" r="1.0" fill="#a8c0d0"/>
<circle cx="296.3" cy="303.0" r="0.7" fill="#c8d8e2"/>
<circle cx="372.3" cy="319.3" r="0.7" fill="#d2e0e8"/>
<circle cx="608.6" cy="379.6" r="0.7" fill="#d2e0e8"/>
<circle cx="272.9" cy="291.2" r="1.0" fill="#c8d8e2"/>
<circle cx="622.7" cy="387.5" r="0.9" fill="#c8d8e2"/>
<circle cx="254.4" cy="289.7" r="1.0" fill="#a8c0d0"/>
<circle cx="623.0" cy="385.7" r="0.7" fill="#d2e0e8"/>
<circle cx="217.7" cy="280.1" r="0.9" fill="#a8c0d0"/>
<circle cx="373.0" cy="315.2" r="0.8" fill="#c8d8e2"/>
<circle cx="631.6" cy="384.7" r="0.8" fill="#a8c0d0"/>
<circle cx="329.1" cy="312.5" r="0.9" fill="#a8c0d0"/>
<circle cx="271.8" cy="292.6" r="0.8" fill="#c8d8e2"/>
<circle cx="284.4" cy="296.5" r="0.7" fill="#d2e0e8"/>
<circle cx="517.1" cy="357.1" r="1.0" fill="#9fb8c8"/>
<circle cx="220.9" cy="276.8" r="0.8" fill="#9fb8c8"/>
<circle cx="511.4" cy="361.2" r="1.0" fill="#9fb8c8"/>
<circle cx="665.3" cy="399.5" r="0.7" fill="#a8c0d0"/>
<circle cx="373.2" cy="321.4" r="0.6" fill="#d2e0e8"/>
<circle cx="729.6" cy="421.0" r="0.9" fill="#c8d8e2"/>
<circle cx="569.0" cy="368.9" r="0.6" fill="#d2e0e8"/>
<circle cx="683.9" cy="407.7" r="0.5" fill="#c8d8e2"/>
<circle cx="660.1" cy="390.6" r="0.9" fill="#c8d8e2"/>
<circle cx="498.3" cy="351.7" r="0.8" fill="#9fb8c8"/>
<circle cx="347.0" cy="315.1" r="0.8" fill="#a8c0d0"/>
<circle cx="515.2" cy="362.3" r="1.0" fill="#c8d8e2"/>
<circle cx="196.1" cy="265.5" r="0.6" fill="#9fb8c8"/>
<circle cx="194.3" cy="264.7" r="0.6" fill="#a8c0d0"/>
<circle cx="548.4" cy="363.0" r="0.9" fill="#a8c0d0"/>
<circle cx="182.4" cy="259.2" r="0.6" fill="#9fb8c8"/>
<circle cx="539.4" cy="366.2" r="0.6" fill="#9fb8c8"/>
<circle cx="257.0" cy="289.5" r="0.7" fill="#d2e0e8"/>
<circle cx="464.1" cy="336.5" r="0.9" fill="#9fb8c8"/>
<circle cx="280.4" cy="296.3" r="0.9" fill="#c8d8e2"/>
<circle cx="219.6" cy="269.7" r="0.8" fill="#9fb8c8"/>
<circle cx="340.0" cy="313.4" r="0.6" fill="#d2e0e8"/>
<circle cx="266.1" cy="291.0" r="0.9" fill="#9fb8c8"/>
<circle cx="462.0" cy="337.7" r="0.6" fill="#d2e0e8"/>
<circle cx="452.7" cy="338.7" r="0.9" fill="#9fb8c8"/>
<circle cx="295.1" cy="293.6" r="0.9" fill="#a8c0d0"/>
<circle cx="549.2" cy="362.0" r="0.7" fill="#9fb8c8"/>
<circle cx="629.4" cy="385.2" r="0.9" fill="#9fb8c8"/>
<circle cx="671.2" cy="401.3" r="0.8" fill="#a8c0d0"/>
<circle cx="497.6" cy="351.4" r="0.6" fill="#9fb8c8"/>
<circle cx="423.5" cy="331.9" r="0.6" fill="#d2e0e8"/>
<circle cx="753.7" cy="424.4" r="0.6" fill="#d2e0e8"/>
<circle cx="701.4" cy="415.3" r="0.5" fill="#a8c0d0"/>
<circle cx="442.5" cy="342.3" r="0.5" fill="#c8d8e2"/>
<circle cx="391.3" cy="327.6" r="0.9" fill="#c8d8e2"/>
<circle cx="254.2" cy="279.1" r="0.5" fill="#c8d8e2"/>
<circle cx="753.2" cy="419.6" r="0.7" fill="#a8c0d0"/>
<circle cx="585.3" cy="373.8" r="0.9" fill="#9fb8c8"/>
<circle cx="374.7" cy="319.4" r="1.0" fill="#9fb8c8"/>
<circle cx="347.9" cy="304.9" r="0.6" fill="#a8c0d0"/>
<circle cx="686.4" cy="407.3" r="0.8" fill="#c8d8e2"/>
<circle cx="681.5" cy="407.9" r="0.5" fill="#c8d8e2"/>
<circle cx="365.0" cy="320.5" r="0.6" fill="#a8c0d0"/>
<circle cx="610.8" cy="381.3" r="0.8" fill="#a8c0d0"/>
<circle cx="541.3" cy="359.7" r="0.5" fill="#a8c0d0"/>
<circle cx="514.6" cy="357.0" r="0.7" fill="#9fb8c8"/>
<circle cx="748.2" cy="423.5" r="0.8" fill="#a8c0d0"/>
<circle cx="273.0" cy="290.5" r="0.7" fill="#c8d8e2"/>
<circle cx="561.2" cy="375.8" r="0.6" fill="#d2e0e8"/>
<circle cx="576.5" cy="376.5" r="0.6" fill="#9fb8c8"/>
<circle cx="465.8" cy="343.0" r="0.8" fill="#c8d8e2"/>
<circle cx="398.8" cy="324.2" r="1.0" fill="#a8c0d0"/>
<circle cx="482.7" cy="352.4" r="0.5" fill="#a8c0d0"/>
<circle cx="662.4" cy="399.7" r="0.9" fill="#a8c0d0"/>
<circle cx="201.5" cy="277.0" r="0.6" fill="#c8d8e2"/>
<circle cx="439.9" cy="330.8" r="0.7" fill="#d2e0e8"/>
<circle cx="505.3" cy="356.1" r="0.6" fill="#c8d8e2"/>
<circle cx="219.1" cy="273.6" r="0.6" fill="#c8d8e2"/>
<circle cx="423.3" cy="325.1" r="0.8" fill="#a8c0d0"/>
<circle cx="332.9" cy="301.7" r="0.9" fill="#d2e0e8"/>
<circle cx="178.1" cy="262.7" r="0.8" fill="#c8d8e2"/>
<circle cx="384.6" cy="327.2" r="0.6" fill="#9fb8c8"/>
<circle cx="155.0" cy="264.0" r="0.7" fill="#c8d8e2"/>
<circle cx="303.5" cy="303.4" r="0.8" fill="#d2e0e8"/>
<circle cx="222.0" cy="277.1" r="0.8" fill="#a8c0d0"/>
<circle cx="343.9" cy="311.8" r="0.7" fill="#a8c0d0"/>
<circle cx="617.9" cy="381.6" r="0.9" fill="#9fb8c8"/>
<circle cx="736.1" cy="411.6" r="0.9" fill="#d2e0e8"/>
<circle cx="512.2" cy="350.5" r="0.5" fill="#c8d8e2"/>
<circle cx="678.6" cy="399.8" r="0.8" fill="#d2e0e8"/>
<circle cx="305.5" cy="298.3" r="0.5" fill="#9fb8c8"/>
<circle cx="689.2" cy="402.0" r="0.6" fill="#9fb8c8"/>
<circle cx="352.3" cy="311.4" r="0.7" fill="#9fb8c8"/>
<circle cx="739.2" cy="417.1" r="0.8" fill="#c8d8e2"/>
<circle cx="587.7" cy="375.7" r="0.6" fill="#a8c0d0"/>
<circle cx="740.5" cy="417.8" r="0.9" fill="#a8c0d0"/>
<circle cx="714.6" cy="408.0" r="0.7" fill="#9fb8c8"/>
<circle cx="261.5" cy="283.2" r="0.7" fill="#d2e0e8"/>
<circle cx="340.8" cy="308.5" r="0.8" fill="#a8c0d0"/>
<circle cx="398.4" cy="320.7" r="0.9" fill="#9fb8c8"/>
<circle cx="501.6" cy="350.1" r="0.6" fill="#d2e0e8"/>
<circle cx="756.8" cy="427.5" r="0.9" fill="#9fb8c8"/>
<circle cx="687.1" cy="400.7" r="0.9" fill="#a8c0d0"/>
<circle cx="620.6" cy="380.6" r="0.7" fill="#d2e0e8"/>
<circle cx="158.6" cy="262.6" r="0.5" fill="#a8c0d0"/>
<circle cx="433.6" cy="340.3" r="0.8" fill="#a8c0d0"/>
<circle cx="360.7" cy="315.6" r="0.9" fill="#9fb8c8"/>
<circle cx="590.3" cy="373.8" r="0.8" fill="#a8c0d0"/>
<circle cx="451.3" cy="340.5" r="0.9" fill="#a8c0d0"/>
<circle cx="581.4" cy="382.2" r="0.7" fill="#9fb8c8"/>
<circle cx="224.4" cy="276.7" r="0.7" fill="#d2e0e8"/>
<circle cx="244.3" cy="279.9" r="0.5" fill="#a8c0d0"/>
<circle cx="297.8" cy="295.3" r="0.6" fill="#a8c0d0"/>
<circle cx="427.1" cy="327.7" r="0.7" fill="#d2e0e8"/>
<circle cx="763.4" cy="427.4" r="0.8" fill="#d2e0e8"/>
<circle cx="695.3" cy="406.1" r="0.9" fill="#9fb8c8"/>
<circle cx="296.5" cy="303.4" r="0.6" fill="#9fb8c8"/>
<circle cx="770.3" cy="422.5" r="0.8" fill="#d2e0e8"/>
<circle cx="454.5" cy="337.1" r="0.6" fill="#a8c0d0"/>
<circle cx="329.0" cy="309.9" r="1.0" fill="#9fb8c8"/>
<circle cx="225.5" cy="276.0" r="0.9" fill="#d2e0e8"/>
<circle cx="251.6" cy="284.4" r="0.6" fill="#d2e0e8"/>
<circle cx="538.5" cy="366.6" r="0.7" fill="#9fb8c8"/>
<circle cx="158.6" cy="263.2" r="0.6" fill="#a8c0d0"/>
<circle cx="742.0" cy="415.3" r="0.5" fill="#a8c0d0"/>
<circle cx="610.4" cy="379.1" r="0.8" fill="#d2e0e8"/>
<circle cx="198.5" cy="262.7" r="1.0" fill="#c8d8e2"/>
<circle cx="751.3" cy="426.4" r="0.5" fill="#d2e0e8"/>
<circle cx="627.9" cy="390.5" r="0.5" fill="#a8c0d0"/>
<circle cx="514.9" cy="358.1" r="0.8" fill="#c8d8e2"/>
<circle cx="552.9" cy="369.7" r="0.9" fill="#9fb8c8"/>
<circle cx="460.7" cy="344.8" r="1.0" fill="#d2e0e8"/>
<circle cx="621.1" cy="384.6" r="0.6" fill="#9fb8c8"/>
<circle cx="482.1" cy="345.5" r="0.5" fill="#9fb8c8"/>
<circle cx="492.7" cy="346.1" r="0.6" fill="#9fb8c8"/>
<circle cx="664.2" cy="397.8" r="0.8" fill="#9fb8c8"/>
<circle cx="335.6" cy="305.6" r="1.0" fill="#a8c0d0"/>
<circle cx="735.0" cy="420.3" r="0.9" fill="#d2e0e8"/>
<circle cx="447.3" cy="339.3" r="0.8" fill="#9fb8c8"/>
<circle cx="165.8" cy="260.4" r="0.6" fill="#c8d8e2"/>
<circle cx="512.9" cy="359.8" r="0.6" fill="#c8d8e2"/>
<circle cx="433.7" cy="336.6" r="0.9" fill="#9fb8c8"/>
<circle cx="414.9" cy="323.9" r="0.6" fill="#d2e0e8"/>
<circle cx="346.4" cy="304.4" r="0.8" fill="#a8c0d0"/>
<circle cx="626.6" cy="384.8" r="0.9" fill="#a8c0d0"/>
<circle cx="156.3" cy="251.1" r="0.5" fill="#c8d8e2"/>
<circle cx="518.2" cy="355.4" r="1.0" fill="#c8d8e2"/>
<circle cx="233.4" cy="282.0" r="0.9" fill="#a8c0d0"/>
<circle cx="260.8" cy="281.7" r="0.8" fill="#d2e0e8"/>
<circle cx="571.1" cy="374.9" r="0.7" fill="#c8d8e2"/>
<circle cx="280.9" cy="293.0" r="0.7" fill="#a8c0d0"/>
<circle cx="685.6" cy="409.4" r="0.7" fill="#d2e0e8"/>
<circle cx="376.7" cy="316.0" r="0.9" fill="#a8c0d0"/>
<circle cx="411.6" cy="326.7" r="0.5" fill="#c8d8e2"/>
<circle cx="694.7" cy="406.0" r="0.7" fill="#c8d8e2"/>
<circle cx="679.3" cy="403.1" r="0.6" fill="#a8c0d0"/>
<circle cx="440.8" cy="330.2" r="0.6" fill="#a8c0d0"/>
<circle cx="715.9" cy="406.6" r="0.9" fill="#9fb8c8"/>
<circle cx="383.7" cy="321.3" r="0.5" fill="#a8c0d0"/>
<circle cx="670.4" cy="405.3" r="0.7" fill="#d2e0e8"/>
<circle cx="539.7" cy="361.3" r="0.6" fill="#c8d8e2"/>
<circle cx="649.7" cy="393.1" r="0.9" fill="#a8c0d0"/>
<circle cx="276.7" cy="294.8" r="0.9" fill="#d2e0e8"/>
<circle cx="463.8" cy="347.1" r="0.6" fill="#d2e0e8"/>
<circle cx="632.8" cy="395.9" r="0.9" fill="#a8c0d0"/>
<circle cx="435.2" cy="337.3" r="0.8" fill="#d2e0e8"/>
<circle cx="444.9" cy="332.6" r="0.9" fill="#c8d8e2"/>
<circle cx="332.2" cy="300.2" r="0.9" fill="#9fb8c8"/>
<circle cx="198.3" cy="265.9" r="0.9" fill="#c8d8e2"/>
<circle cx="616.8" cy="380.3" r="1.0" fill="#c8d8e2"/>
<circle cx="568.1" cy="374.9" r="0.9" fill="#9fb8c8"/>
<circle cx="592.8" cy="382.5" r="0.7" fill="#c8d8e2"/>
<circle cx="522.7" cy="354.1" r="0.8" fill="#a8c0d0"/>
<circle cx="373.9" cy="324.2" r="0.8" fill="#9fb8c8"/>
<circle cx="688.5" cy="408.2" r="0.7" fill="#9fb8c8"/>
<circle cx="495.4" cy="350.1" r="0.8" fill="#c8d8e2"/>
<circle cx="656.5" cy="389.5" r="0.7" fill="#a8c0d0"/>
<circle cx="541.8" cy="363.3" r="0.7" fill="#d2e0e8"/>
<circle cx="324.1" cy="300.9" r="0.6" fill="#c8d8e2"/>
<circle cx="468.5" cy="348.8" r="0.7" fill="#d2e0e8"/>
<circle cx="519.3" cy="363.3" r="0.9" fill="#a8c0d0"/>
<circle cx="340.1" cy="314.0" r="0.8" fill="#d2e0e8"/>
<circle cx="166.3" cy="254.9" r="0.8" fill="#c8d8e2"/>
<circle cx="223.7" cy="277.9" r="0.8" fill="#d2e0e8"/>
<circle cx="457.3" cy="340.1" r="0.7" fill="#a8c0d0"/>
<circle cx="606.5" cy="387.6" r="0.5" fill="#c8d8e2"/>
<circle cx="744.0" cy="419.4" r="0.9" fill="#d2e0e8"/>
<circle cx="391.3" cy="318.8" r="0.7" fill="#9fb8c8"/>
<circle cx="381.8" cy="325.0" r="0.7" fill="#9fb8c8"/>
<circle cx="219.2" cy="275.7" r="0.6" fill="#c8d8e2"/>
<circle cx="514.7" cy="357.9" r="0.7" fill="#a8c0d0"/>
<circle cx="755.1" cy="426.1" r="1.0" fill="#c8d8e2"/>
<circle cx="384.8" cy="317.8" r="0.7" fill="#c8d8e2"/>
<circle cx="534.7" cy="359.8" r="0.7" fill="#9fb8c8"/>
<circle cx="490.7" cy="344.9" r="1.0" fill="#9fb8c8"/>
<circle cx="383.7" cy="327.9" r="0.9" fill="#a8c0d0"/>
<circle cx="501.7" cy="347.9" r="0.9" fill="#c8d8e2"/>
<circle cx="514.3" cy="357.7" r="0.9" fill="#a8c0d0"/>
<circle cx="457.3" cy="346.4" r="0.5" fill="#9fb8c8"/>
<circle cx="268.8" cy="291.2" r="0.7" fill="#c8d8e2"/>
<circle cx="540.2" cy="363.5" r="0.7" fill="#d2e0e8"/>
<circle cx="330.6" cy="304.4" r="1.0" fill="#d2e0e8"/>
<circle cx="315.6" cy="302.1" r="0.9" fill="#9fb8c8"/>
<circle cx="528.5" cy="359.4" r="0.6" fill="#a8c0d0"/>
<circle cx="647.4" cy="392.5" r="0.5" fill="#9fb8c8"/>
<circle cx="578.8" cy="379.1" r="0.8" fill="#9fb8c8"/>
<circle cx="688.9" cy="406.1" r="0.5" fill="#9fb8c8"/>
<circle cx="527.9" cy="364.2" r="0.7" fill="#d2e0e8"/>
<circle cx="693.3" cy="409.2" r="0.6" fill="#c8d8e2"/>
<circle cx="620.1" cy="391.2" r="0.6" fill="#9fb8c8"/>
<circle cx="485.1" cy="349.3" r="1.0" fill="#9fb8c8"/>
<circle cx="549.9" cy="360.3" r="0.5" fill="#c8d8e2"/>
<circle cx="446.5" cy="333.3" r="0.8" fill="#a8c0d0"/>
<circle cx="672.1" cy="403.2" r="0.9" fill="#c8d8e2"/>
<circle cx="322.3" cy="304.1" r="1.0" fill="#a8c0d0"/>
<circle cx="588.3" cy="371.3" r="0.8" fill="#c8d8e2"/>
<circle cx="212.1" cy="274.2" r="0.5" fill="#d2e0e8"/>
<circle cx="656.7" cy="392.3" r="0.9" fill="#9fb8c8"/>
<circle cx="316.7" cy="305.0" r="0.6" fill="#c8d8e2"/>
<circle cx="473.6" cy="347.6" r="0.6" fill="#a8c0d0"/>
<circle cx="554.2" cy="363.5" r="0.8" fill="#a8c0d0"/>
<circle cx="668.1" cy="393.0" r="0.7" fill="#a8c0d0"/>
<circle cx="718.0" cy="409.3" r="0.7" fill="#9fb8c8"/>
<circle cx="274.8" cy="290.1" r="1.0" fill="#c8d8e2"/>
<circle cx="335.5" cy="305.3" r="1.0" fill="#c8d8e2"/>
<circle cx="287.2" cy="292.4" r="0.5" fill="#d2e0e8"/>
<circle cx="207.5" cy="266.0" r="1.0" fill="#c8d8e2"/>
<circle cx="285.3" cy="290.0" r="1.0" fill="#d2e0e8"/>
<circle cx="504.1" cy="351.6" r="0.6" fill="#d2e0e8"/>
<circle cx="748.0" cy="421.1" r="1.0" fill="#9fb8c8"/>
<circle cx="269.0" cy="292.2" r="0.8" fill="#a8c0d0"/>
<circle cx="360.3" cy="319.3" r="0.7" fill="#a8c0d0"/>
<circle cx="174.8" cy="265.5" r="0.7" fill="#9fb8c8"/>
<circle cx="154.0" cy="255.9" r="0.6" fill="#9fb8c8"/>
<circle cx="540.3" cy="359.1" r="0.5" fill="#a8c0d0"/>
<circle cx="734.4" cy="413.5" r="0.8" fill="#d2e0e8"/>
<circle cx="392.6" cy="326.9" r="0.6" fill="#9fb8c8"/>
<circle cx="623.7" cy="390.9" r="0.8" fill="#a8c0d0"/>
<circle cx="610.7" cy="386.4" r="0.8" fill="#a8c0d0"/>
<circle cx="594.5" cy="378.7" r="0.7" fill="#d2e0e8"/>
<circle cx="493.9" cy="352.4" r="0.6" fill="#c8d8e2"/>
<circle cx="566.3" cy="366.1" r="0.7" fill="#c8d8e2"/>
<circle cx="250.5" cy="287.5" r="0.6" fill="#d2e0e8"/>
<circle cx="716.2" cy="412.6" r="0.5" fill="#d2e0e8"/>
<circle cx="684.9" cy="400.5" r="0.7" fill="#a8c0d0"/>
<circle cx="333.6" cy="300.4" r="0.6" fill="#d2e0e8"/>
<circle cx="482.4" cy="346.3" r="0.7" fill="#c8d8e2"/>
<circle cx="575.3" cy="377.2" r="0.7" fill="#c8d8e2"/>
<circle cx="271.3" cy="293.4" r="0.7" fill="#d2e0e8"/>
<polygon points="112.0,311.0 766.0,514.0 760.0,538.3 113.0,325.6" fill="#a9c6d0" />
<polygon points="99.0,268.0 146.0,247.5 158.0,250.0 122.0,263.0 122.0,325.0 101.0,330.0" fill="#f6f6f6" />
<polygon points="112.0,264.0 122.0,262.0 122.0,324.0 112.0,325.0" fill="#e6e6e9" />
<polygon points="99.0,268.0 102.0,267.0 104.0,327.0 101.0,327.0" fill="#e6e6e8" />
<defs><linearGradient id="gy" x1="0" x2="1" y1="0" y2="0"><stop offset="0" stop-color="#dcbc08"/><stop offset="0.3" stop-color="#f4d81c"/><stop offset="0.6" stop-color="#f0d214"/><stop offset="1" stop-color="#c9a806"/></linearGradient>
<linearGradient id="gw" x1="0" x2="1" y1="0" y2="0"><stop offset="0" stop-color="#e2e3e7"/><stop offset="0.3" stop-color="#f6f6f8"/><stop offset="0.6" stop-color="#efeff2"/><stop offset="1" stop-color="#cdced4"/></linearGradient></defs>
<path d="M148.9,256.5 L148.9,307.6 A8.2,3.3 0 0 0 165.3,307.6 L165.3,256.5 Z" fill="url(#gy)"/>
<path d="M148.9,266.7 Q157.1,270.7 165.3,266.7" stroke="#d4b30c" stroke-width="0.8" fill="none" opacity="0.35"/>
<path d="M148.9,277.0 Q157.1,280.9 165.3,277.0" stroke="#d4b30c" stroke-width="0.8" fill="none" opacity="0.35"/>
<path d="M148.9,287.2 Q157.1,291.1 165.3,287.2" stroke="#d4b30c" stroke-width="0.8" fill="none" opacity="0.35"/>
<path d="M148.9,297.4 Q157.1,301.3 165.3,297.4" stroke="#d4b30c" stroke-width="0.8" fill="none" opacity="0.35"/>
<ellipse cx="157.1" cy="256.5" rx="8.2" ry="3.3" fill="#ecd54e" stroke="#c9a90a" stroke-width="0.7"/>
<path d="M164.3,261.4 L164.3,312.4 A8.3,3.3 0 0 0 180.8,312.4 L180.8,261.4 Z" fill="url(#gy)"/>
<path d="M164.3,271.6 Q172.5,275.6 180.8,271.6" stroke="#d4b30c" stroke-width="0.8" fill="none" opacity="0.35"/>
<path d="M164.3,281.8 Q172.5,285.8 180.8,281.8" stroke="#d4b30c" stroke-width="0.8" fill="none" opacity="0.35"/>
<path d="M164.3,292.0 Q172.5,296.0 180.8,292.0" stroke="#d4b30c" stroke-width="0.8" fill="none" opacity="0.35"/>
<path d="M164.3,302.2 Q172.5,306.2 180.8,302.2" stroke="#d4b30c" stroke-width="0.8" fill="none" opacity="0.35"/>
<ellipse cx="172.5" cy="261.4" rx="8.3" ry="3.3" fill="#ecd54e" stroke="#c9a90a" stroke-width="0.7"/>
<path d="M179.5,266.2 L179.5,317.1 A8.3,3.4 0 0 0 196.2,317.1 L196.2,266.2 Z" fill="url(#gy)"/>
<path d="M179.5,276.4 Q187.9,280.4 196.2,276.4" stroke="#d4b30c" stroke-width="0.8" fill="none" opacity="0.35"/>
<path d="M179.5,286.6 Q187.9,290.6 196.2,286.6" stroke="#d4b30c" stroke-width="0.8" fill="none" opacity="0.35"/>
<path d="M179.5,296.7 Q187.9,300.8 196.2,296.7" stroke="#d4b30c" stroke-width="0.8" fill="none" opacity="0.35"/>
<path d="M179.5,306.9 Q187.9,311.0 196.2,306.9" stroke="#d4b30c" stroke-width="0.8" fill="none" opacity="0.35"/>
<ellipse cx="187.9" cy="266.2" rx="8.3" ry="3.4" fill="#ecd54e" stroke="#c9a90a" stroke-width="0.7"/>
<path d="M195.5,271.2 L195.5,322.0 A8.4,3.4 0 0 0 212.3,322.0 L212.3,271.2 Z" fill="url(#gy)"/>
<path d="M195.5,281.4 Q203.9,285.5 212.3,281.4" stroke="#d4b30c" stroke-width="0.8" fill="none" opacity="0.35"/>
<path d="M195.5,291.5 Q203.9,295.7 212.3,291.5" stroke="#d4b30c" stroke-width="0.8" fill="none" opacity="0.35"/>
<path d="M195.5,301.7 Q203.9,305.8 212.3,301.7" stroke="#d4b30c" stroke-width="0.8" fill="none" opacity="0.35"/>
<path d="M195.5,311.9 Q203.9,316.0 212.3,311.9" stroke="#d4b30c" stroke-width="0.8" fill="none" opacity="0.35"/>
<ellipse cx="203.9" cy="271.2" rx="8.4" ry="3.4" fill="#ecd54e" stroke="#c9a90a" stroke-width="0.7"/>
<path d="M210.6,275.9 L210.6,326.7 A8.5,3.5 0 0 0 227.7,326.7 L227.7,275.9 Z" fill="url(#gw)"/>
<path d="M210.6,286.1 Q219.1,290.3 227.7,286.1" stroke="#cfd0d6" stroke-width="0.8" fill="none" opacity="0.35"/>
<path d="M210.6,296.2 Q219.1,300.4 227.7,296.2" stroke="#cfd0d6" stroke-width="0.8" fill="none" opacity="0.35"/>
<path d="M210.6,306.4 Q219.1,310.6 227.7,306.4" stroke="#cfd0d6" stroke-width="0.8" fill="none" opacity="0.35"/>
<path d="M210.6,316.6 Q219.1,320.8 227.7,316.6" stroke="#cfd0d6" stroke-width="0.8" fill="none" opacity="0.35"/>
<ellipse cx="219.1" cy="275.9" rx="8.5" ry="3.5" fill="#dadbe0" stroke="#c4c5cc" stroke-width="0.7"/>
<path d="M228.1,281.4 L228.1,332.1 A8.6,3.6 0 0 0 245.3,332.1 L245.3,281.4 Z" fill="url(#gw)"/>
<path d="M228.1,291.5 Q236.7,295.8 245.3,291.5" stroke="#cfd0d6" stroke-width="0.8" fill="none" opacity="0.35"/>
<path d="M228.1,301.7 Q236.7,305.9 245.3,301.7" stroke="#cfd0d6" stroke-width="0.8" fill="none" opacity="0.35"/>
<path d="M228.1,311.8 Q236.7,316.1 245.3,311.8" stroke="#cfd0d6" stroke-width="0.8" fill="none" opacity="0.35"/>
<path d="M228.1,322.0 Q236.7,326.2 245.3,322.0" stroke="#cfd0d6" stroke-width="0.8" fill="none" opacity="0.35"/>
<ellipse cx="236.7" cy="281.4" rx="8.6" ry="3.6" fill="#dadbe0" stroke="#c4c5cc" stroke-width="0.7"/>
<path d="M244.4,286.4 L244.4,337.2 A8.7,3.6 0 0 0 261.7,337.2 L261.7,286.4 Z" fill="url(#gw)"/>
<path d="M244.4,296.5 Q253.1,300.9 261.7,296.5" stroke="#cfd0d6" stroke-width="0.8" fill="none" opacity="0.35"/>
<path d="M244.4,306.7 Q253.1,311.0 261.7,306.7" stroke="#cfd0d6" stroke-width="0.8" fill="none" opacity="0.35"/>
<path d="M244.4,316.8 Q253.1,321.2 261.7,316.8" stroke="#cfd0d6" stroke-width="0.8" fill="none" opacity="0.35"/>
<path d="M244.4,327.0 Q253.1,331.3 261.7,327.0" stroke="#cfd0d6" stroke-width="0.8" fill="none" opacity="0.35"/>
<ellipse cx="253.1" cy="286.4" rx="8.7" ry="3.6" fill="#dadbe0" stroke="#c4c5cc" stroke-width="0.7"/>
<path d="M260.5,291.3 L260.5,342.1 A8.8,3.7 0 0 0 278.1,342.1 L278.1,291.3 Z" fill="url(#gw)"/>
<path d="M260.5,301.5 Q269.3,305.9 278.1,301.5" stroke="#cfd0d6" stroke-width="0.8" fill="none" opacity="0.35"/>
<path d="M260.5,311.7 Q269.3,316.1 278.1,311.7" stroke="#cfd0d6" stroke-width="0.8" fill="none" opacity="0.35"/>
<path d="M260.5,321.8 Q269.3,326.2 278.1,321.8" stroke="#cfd0d6" stroke-width="0.8" fill="none" opacity="0.35"/>
<path d="M260.5,332.0 Q269.3,336.4 278.1,332.0" stroke="#cfd0d6" stroke-width="0.8" fill="none" opacity="0.35"/>
<ellipse cx="269.3" cy="291.3" rx="8.8" ry="3.7" fill="#dadbe0" stroke="#c4c5cc" stroke-width="0.7"/>
<path d="M278.0,296.7 L278.0,347.6 A8.9,3.7 0 0 0 295.7,347.6 L295.7,296.7 Z" fill="url(#gy)"/>
<path d="M278.0,306.9 Q286.9,311.4 295.7,306.9" stroke="#d4b30c" stroke-width="0.8" fill="none" opacity="0.35"/>
<path d="M278.0,317.0 Q286.9,321.5 295.7,317.0" stroke="#d4b30c" stroke-width="0.8" fill="none" opacity="0.35"/>
<path d="M278.0,327.2 Q286.9,331.7 295.7,327.2" stroke="#d4b30c" stroke-width="0.8" fill="none" opacity="0.35"/>
<path d="M278.0,337.4 Q286.9,341.9 295.7,337.4" stroke="#d4b30c" stroke-width="0.8" fill="none" opacity="0.35"/>
<ellipse cx="286.9" cy="296.7" rx="8.9" ry="3.7" fill="#ecd54e" stroke="#c9a90a" stroke-width="0.7"/>
<path d="M295.4,302.0 L295.4,352.9 A8.9,3.8 0 0 0 313.3,352.9 L313.3,302.0 Z" fill="url(#gy)"/>
<path d="M295.4,312.2 Q304.4,316.7 313.3,312.2" stroke="#d4b30c" stroke-width="0.8" fill="none" opacity="0.35"/>
<path d="M295.4,322.4 Q304.4,326.9 313.3,322.4" stroke="#d4b30c" stroke-width="0.8" fill="none" opacity="0.35"/>
<path d="M295.4,332.6 Q304.4,337.1 313.3,332.6" stroke="#d4b30c" stroke-width="0.8" fill="none" opacity="0.35"/>
<path d="M295.4,342.7 Q304.4,347.3 313.3,342.7" stroke="#d4b30c" stroke-width="0.8" fill="none" opacity="0.35"/>
<ellipse cx="304.4" cy="302.0" rx="8.9" ry="3.8" fill="#ecd54e" stroke="#c9a90a" stroke-width="0.7"/>
<path d="M313.0,307.3 L313.0,358.3 A9.0,3.9 0 0 0 331.0,358.3 L331.0,307.3 Z" fill="url(#gy)"/>
<path d="M313.0,317.5 Q322.0,322.1 331.0,317.5" stroke="#d4b30c" stroke-width="0.8" fill="none" opacity="0.35"/>
<path d="M313.0,327.7 Q322.0,332.4 331.0,327.7" stroke="#d4b30c" stroke-width="0.8" fill="none" opacity="0.35"/>
<path d="M313.0,337.9 Q322.0,342.6 331.0,337.9" stroke="#d4b30c" stroke-width="0.8" fill="none" opacity="0.35"/>
<path d="M313.0,348.1 Q322.0,352.8 331.0,348.1" stroke="#d4b30c" stroke-width="0.8" fill="none" opacity="0.35"/>
<ellipse cx="322.0" cy="307.3" rx="9.0" ry="3.9" fill="#ecd54e" stroke="#c9a90a" stroke-width="0.7"/>
<path d="M331.6,312.9 L331.6,364.1 A9.1,3.9 0 0 0 349.9,364.1 L349.9,312.9 Z" fill="url(#gw)"/>
<path d="M331.6,323.2 Q340.8,327.9 349.9,323.2" stroke="#cfd0d6" stroke-width="0.8" fill="none" opacity="0.35"/>
<path d="M331.6,333.4 Q340.8,338.1 349.9,333.4" stroke="#cfd0d6" stroke-width="0.8" fill="none" opacity="0.35"/>
<path d="M331.6,343.6 Q340.8,348.4 349.9,343.6" stroke="#cfd0d6" stroke-width="0.8" fill="none" opacity="0.35"/>
<path d="M331.6,353.9 Q340.8,358.6 349.9,353.9" stroke="#cfd0d6" stroke-width="0.8" fill="none" opacity="0.35"/>
<ellipse cx="340.8" cy="312.9" rx="9.1" ry="3.9" fill="#dadbe0" stroke="#c4c5cc" stroke-width="0.7"/>
<path d="M349.1,318.1 L349.1,369.5 A9.2,4.0 0 0 0 367.5,369.5 L367.5,318.1 Z" fill="url(#gw)"/>
<path d="M349.1,328.4 Q358.3,333.2 367.5,328.4" stroke="#cfd0d6" stroke-width="0.8" fill="none" opacity="0.35"/>
<path d="M349.1,338.7 Q358.3,343.5 367.5,338.7" stroke="#cfd0d6" stroke-width="0.8" fill="none" opacity="0.35"/>
<path d="M349.1,349.0 Q358.3,353.7 367.5,349.0" stroke="#cfd0d6" stroke-width="0.8" fill="none" opacity="0.35"/>
<path d="M349.1,359.2 Q358.3,364.0 367.5,359.2" stroke="#cfd0d6" stroke-width="0.8" fill="none" opacity="0.35"/>
<ellipse cx="358.3" cy="318.1" rx="9.2" ry="4.0" fill="#dadbe0" stroke="#c4c5cc" stroke-width="0.7"/>
<path d="M368.3,323.9 L368.3,375.4 A9.3,4.1 0 0 0 387.0,375.4 L387.0,323.9 Z" fill="url(#gy)"/>
<path d="M368.3,334.2 Q377.6,339.1 387.0,334.2" stroke="#d4b30c" stroke-width="0.8" fill="none" opacity="0.35"/>
<path d="M368.3,344.5 Q377.6,349.4 387.0,344.5" stroke="#d4b30c" stroke-width="0.8" fill="none" opacity="0.35"/>
<path d="M368.3,354.8 Q377.6,359.7 387.0,354.8" stroke="#d4b30c" stroke-width="0.8" fill="none" opacity="0.35"/>
<path d="M368.3,365.1 Q377.6,370.0 387.0,365.1" stroke="#d4b30c" stroke-width="0.8" fill="none" opacity="0.35"/>
<ellipse cx="377.6" cy="323.9" rx="9.3" ry="4.1" fill="#ecd54e" stroke="#c9a90a" stroke-width="0.7"/>
<path d="M386.9,329.4 L386.9,381.2 A9.4,4.1 0 0 0 405.7,381.2 L405.7,329.4 Z" fill="url(#gy)"/>
<path d="M386.9,339.7 Q396.3,344.7 405.7,339.7" stroke="#d4b30c" stroke-width="0.8" fill="none" opacity="0.35"/>
<path d="M386.9,350.1 Q396.3,355.1 405.7,350.1" stroke="#d4b30c" stroke-width="0.8" fill="none" opacity="0.35"/>
<path d="M386.9,360.5 Q396.3,365.4 405.7,360.5" stroke="#d4b30c" stroke-width="0.8" fill="none" opacity="0.35"/>
<path d="M386.9,370.8 Q396.3,375.8 405.7,370.8" stroke="#d4b30c" stroke-width="0.8" fill="none" opacity="0.35"/>
<ellipse cx="396.3" cy="329.4" rx="9.4" ry="4.1" fill="#ecd54e" stroke="#c9a90a" stroke-width="0.7"/>
<path d="M407.0,335.3 L407.0,387.4 A9.5,4.2 0 0 0 426.0,387.4 L426.0,335.3 Z" fill="url(#gy)"/>
<path d="M407.0,348.3 Q416.5,353.4 426.0,348.3" stroke="#d4b30c" stroke-width="0.8" fill="none" opacity="0.35"/>
<path d="M407.0,361.3 Q416.5,366.4 426.0,361.3" stroke="#d4b30c" stroke-width="0.8" fill="none" opacity="0.35"/>
<path d="M407.0,374.4 Q416.5,379.4 426.0,374.4" stroke="#d4b30c" stroke-width="0.8" fill="none" opacity="0.35"/>
<ellipse cx="416.5" cy="335.3" rx="9.5" ry="4.2" fill="#ecd54e" stroke="#c9a90a" stroke-width="0.7"/>
<path d="M427.0,341.1 L427.0,393.6 A9.6,4.3 0 0 0 446.3,393.6 L446.3,341.1 Z" fill="url(#gy)"/>
<path d="M427.0,354.3 Q436.6,359.4 446.3,354.3" stroke="#d4b30c" stroke-width="0.8" fill="none" opacity="0.35"/>
<path d="M427.0,367.4 Q436.6,372.5 446.3,367.4" stroke="#d4b30c" stroke-width="0.8" fill="none" opacity="0.35"/>
<path d="M427.0,380.5 Q436.6,385.6 446.3,380.5" stroke="#d4b30c" stroke-width="0.8" fill="none" opacity="0.35"/>
<ellipse cx="436.6" cy="341.1" rx="9.6" ry="4.3" fill="#ecd54e" stroke="#c9a90a" stroke-width="0.7"/>
<path d="M446.9,346.9 L446.9,399.7 A9.7,4.4 0 0 0 466.3,399.7 L466.3,346.9 Z" fill="url(#gy)"/>
<path d="M446.9,360.1 Q456.6,365.4 466.3,360.1" stroke="#d4b30c" stroke-width="0.8" fill="none" opacity="0.35"/>
<path d="M446.9,373.3 Q456.6,378.6 466.3,373.3" stroke="#d4b30c" stroke-width="0.8" fill="none" opacity="0.35"/>
<path d="M446.9,386.5 Q456.6,391.8 466.3,386.5" stroke="#d4b30c" stroke-width="0.8" fill="none" opacity="0.35"/>
<ellipse cx="456.6" cy="346.9" rx="9.7" ry="4.4" fill="#ecd54e" stroke="#c9a90a" stroke-width="0.7"/>
<path d="M466.8,352.7 L466.8,405.9 A9.8,4.5 0 0 0 486.5,405.9 L486.5,352.7 Z" fill="url(#gw)"/>
<path d="M466.8,366.0 Q476.7,371.3 486.5,366.0" stroke="#cfd0d6" stroke-width="0.8" fill="none" opacity="0.35"/>
<path d="M466.8,379.3 Q476.7,384.6 486.5,379.3" stroke="#cfd0d6" stroke-width="0.8" fill="none" opacity="0.35"/>
<path d="M466.8,392.6 Q476.7,397.9 486.5,392.6" stroke="#cfd0d6" stroke-width="0.8" fill="none" opacity="0.35"/>
<ellipse cx="476.7" cy="352.7" rx="9.8" ry="4.5" fill="#dadbe0" stroke="#c4c5cc" stroke-width="0.7"/>
<path d="M488.1,358.8 L488.1,412.4 A9.9,4.5 0 0 0 507.9,412.4 L507.9,358.8 Z" fill="url(#gw)"/>
<path d="M488.1,372.2 Q498.0,377.6 507.9,372.2" stroke="#cfd0d6" stroke-width="0.8" fill="none" opacity="0.35"/>
<path d="M488.1,385.6 Q498.0,391.0 507.9,385.6" stroke="#cfd0d6" stroke-width="0.8" fill="none" opacity="0.35"/>
<path d="M488.1,399.0 Q498.0,404.4 507.9,399.0" stroke="#cfd0d6" stroke-width="0.8" fill="none" opacity="0.35"/>
<ellipse cx="498.0" cy="358.8" rx="9.9" ry="4.5" fill="#dadbe0" stroke="#c4c5cc" stroke-width="0.7"/>
<path d="M509.2,364.8 L509.2,418.9 A10.0,4.6 0 0 0 529.3,418.9 L529.3,364.8 Z" fill="url(#gy)"/>
<path d="M509.2,378.3 Q519.2,383.9 529.3,378.3" stroke="#d4b30c" stroke-width="0.8" fill="none" opacity="0.35"/>
<path d="M509.2,391.9 Q519.2,397.4 529.3,391.9" stroke="#d4b30c" stroke-width="0.8" fill="none" opacity="0.35"/>
<path d="M509.2,405.4 Q519.2,410.9 529.3,405.4" stroke="#d4b30c" stroke-width="0.8" fill="none" opacity="0.35"/>
<ellipse cx="519.2" cy="364.8" rx="10.0" ry="4.6" fill="#ecd54e" stroke="#c9a90a" stroke-width="0.7"/>
<path d="M530.4,370.8 L530.4,425.5 A10.2,4.7 0 0 0 550.7,425.5 L550.7,370.8 Z" fill="url(#gy)"/>
<path d="M530.4,384.5 Q540.6,390.1 550.7,384.5" stroke="#d4b30c" stroke-width="0.8" fill="none" opacity="0.35"/>
<path d="M530.4,398.1 Q540.6,403.8 550.7,398.1" stroke="#d4b30c" stroke-width="0.8" fill="none" opacity="0.35"/>
<path d="M530.4,411.8 Q540.6,417.5 550.7,411.8" stroke="#d4b30c" stroke-width="0.8" fill="none" opacity="0.35"/>
<ellipse cx="540.6" cy="370.8" rx="10.2" ry="4.7" fill="#ecd54e" stroke="#c9a90a" stroke-width="0.7"/>
<path d="M551.6,376.8 L551.6,432.0 A10.3,4.8 0 0 0 572.2,432.0 L572.2,376.8 Z" fill="url(#gy)"/>
<path d="M551.6,390.6 Q561.9,396.3 572.2,390.6" stroke="#d4b30c" stroke-width="0.8" fill="none" opacity="0.35"/>
<path d="M551.6,404.4 Q561.9,410.2 572.2,404.4" stroke="#d4b30c" stroke-width="0.8" fill="none" opacity="0.35"/>
<path d="M551.6,418.2 Q561.9,424.0 572.2,418.2" stroke="#d4b30c" stroke-width="0.8" fill="none" opacity="0.35"/>
<ellipse cx="561.9" cy="376.8" rx="10.3" ry="4.8" fill="#ecd54e" stroke="#c9a90a" stroke-width="0.7"/>
<path d="M575.0,383.3 L575.0,439.2 A10.4,4.9 0 0 0 595.8,439.2 L595.8,383.3 Z" fill="url(#gw)"/>
<path d="M575.0,397.3 Q585.4,403.1 595.8,397.3" stroke="#cfd0d6" stroke-width="0.8" fill="none" opacity="0.35"/>
<path d="M575.0,411.3 Q585.4,417.1 595.8,411.3" stroke="#cfd0d6" stroke-width="0.8" fill="none" opacity="0.35"/>
<path d="M575.0,425.2 Q585.4,431.1 595.8,425.2" stroke="#cfd0d6" stroke-width="0.8" fill="none" opacity="0.35"/>
<ellipse cx="585.4" cy="383.3" rx="10.4" ry="4.9" fill="#dadbe0" stroke="#c4c5cc" stroke-width="0.7"/>
<path d="M597.2,389.4 L597.2,446.1 A10.5,5.0 0 0 0 618.2,446.1 L618.2,389.4 Z" fill="url(#gw)"/>
<path d="M597.2,403.6 Q607.7,409.6 618.2,403.6" stroke="#cfd0d6" stroke-width="0.8" fill="none" opacity="0.35"/>
<path d="M597.2,417.8 Q607.7,423.7 618.2,417.8" stroke="#cfd0d6" stroke-width="0.8" fill="none" opacity="0.35"/>
<path d="M597.2,431.9 Q607.7,437.9 618.2,431.9" stroke="#cfd0d6" stroke-width="0.8" fill="none" opacity="0.35"/>
<ellipse cx="607.7" cy="389.4" rx="10.5" ry="5.0" fill="#dadbe0" stroke="#c4c5cc" stroke-width="0.7"/>
<path d="M619.7,395.6 L619.7,453.0 A10.6,5.1 0 0 0 641.0,453.0 L641.0,395.6 Z" fill="url(#gw)"/>
<path d="M619.7,410.0 Q630.3,416.1 641.0,410.0" stroke="#cfd0d6" stroke-width="0.8" fill="none" opacity="0.35"/>
<path d="M619.7,424.3 Q630.3,430.4 641.0,424.3" stroke="#cfd0d6" stroke-width="0.8" fill="none" opacity="0.35"/>
<path d="M619.7,438.7 Q630.3,444.8 641.0,438.7" stroke="#cfd0d6" stroke-width="0.8" fill="none" opacity="0.35"/>
<ellipse cx="630.3" cy="395.6" rx="10.6" ry="5.1" fill="#dadbe0" stroke="#c4c5cc" stroke-width="0.7"/>
<path d="M643.2,402.0 L643.2,460.3 A10.7,5.2 0 0 0 664.7,460.3 L664.7,402.0 Z" fill="url(#gw)"/>
<path d="M643.2,416.6 Q653.9,422.8 664.7,416.6" stroke="#cfd0d6" stroke-width="0.8" fill="none" opacity="0.35"/>
<path d="M643.2,431.1 Q653.9,437.4 664.7,431.1" stroke="#cfd0d6" stroke-width="0.8" fill="none" opacity="0.35"/>
<path d="M643.2,445.7 Q653.9,451.9 664.7,445.7" stroke="#cfd0d6" stroke-width="0.8" fill="none" opacity="0.35"/>
<ellipse cx="653.9" cy="402.0" rx="10.7" ry="5.2" fill="#dadbe0" stroke="#c4c5cc" stroke-width="0.7"/>
<path d="M668.1,408.7 L668.1,467.9 A10.9,5.3 0 0 0 689.8,467.9 L689.8,408.7 Z" fill="url(#gy)"/>
<path d="M668.1,423.5 Q678.9,429.9 689.8,423.5" stroke="#d4b30c" stroke-width="0.8" fill="none" opacity="0.35"/>
<path d="M668.1,438.3 Q678.9,444.7 689.8,438.3" stroke="#d4b30c" stroke-width="0.8" fill="none" opacity="0.35"/>
<path d="M668.1,453.1 Q678.9,459.5 689.8,453.1" stroke="#d4b30c" stroke-width="0.8" fill="none" opacity="0.35"/>
<ellipse cx="678.9" cy="408.7" rx="10.9" ry="5.3" fill="#ecd54e" stroke="#c9a90a" stroke-width="0.7"/>
<path d="M693.9,415.6 L693.9,475.9 A11.0,5.4 0 0 0 715.9,475.9 L715.9,415.6 Z" fill="url(#gy)"/>
<path d="M693.9,430.7 Q704.9,437.2 715.9,430.7" stroke="#d4b30c" stroke-width="0.8" fill="none" opacity="0.35"/>
<path d="M693.9,445.8 Q704.9,452.3 715.9,445.8" stroke="#d4b30c" stroke-width="0.8" fill="none" opacity="0.35"/>
<path d="M693.9,460.8 Q704.9,467.3 715.9,460.8" stroke="#d4b30c" stroke-width="0.8" fill="none" opacity="0.35"/>
<ellipse cx="704.9" cy="415.6" rx="11.0" ry="5.4" fill="#ecd54e" stroke="#c9a90a" stroke-width="0.7"/>
<path d="M718.5,422.2 L718.5,483.5 A11.1,5.5 0 0 0 740.8,483.5 L740.8,422.2 Z" fill="url(#gy)"/>
<path d="M718.5,434.4 Q729.6,441.1 740.8,434.4" stroke="#d4b30c" stroke-width="0.8" fill="none" opacity="0.35"/>
<path d="M718.5,446.7 Q729.6,453.3 740.8,446.7" stroke="#d4b30c" stroke-width="0.8" fill="none" opacity="0.35"/>
<path d="M718.5,459.0 Q729.6,465.6 740.8,459.0" stroke="#d4b30c" stroke-width="0.8" fill="none" opacity="0.35"/>
<path d="M718.5,471.2 Q729.6,477.8 740.8,471.2" stroke="#d4b30c" stroke-width="0.8" fill="none" opacity="0.35"/>
<ellipse cx="729.6" cy="422.2" rx="11.1" ry="5.5" fill="#ecd54e" stroke="#c9a90a" stroke-width="0.7"/>
<path d="M743.4,428.7 L743.4,491.1 A11.2,5.6 0 0 0 765.9,491.1 L765.9,428.7 Z" fill="url(#gy)"/>
<path d="M743.4,441.2 Q754.6,448.0 765.9,441.2" stroke="#d4b30c" stroke-width="0.8" fill="none" opacity="0.35"/>
<path d="M743.4,453.7 Q754.6,460.4 765.9,453.7" stroke="#d4b30c" stroke-width="0.8" fill="none" opacity="0.35"/>
<path d="M743.4,466.2 Q754.6,472.9 765.9,466.2" stroke="#d4b30c" stroke-width="0.8" fill="none" opacity="0.35"/>
<path d="M743.4,478.7 Q754.6,485.4 765.9,478.7" stroke="#d4b30c" stroke-width="0.8" fill="none" opacity="0.35"/>
<ellipse cx="754.6" cy="428.7" rx="11.2" ry="5.6" fill="#ecd54e" stroke="#c9a90a" stroke-width="0.7"/>
<path d="M134.8,263.5 L134.8,314.5 A8.6,3.5 0 0 0 152.0,314.5 L152.0,263.5 Z" fill="url(#gy)"/>
<path d="M134.8,273.7 Q143.4,277.9 152.0,273.7" stroke="#d4b30c" stroke-width="0.8" fill="none" opacity="0.35"/>
<path d="M134.8,283.9 Q143.4,288.0 152.0,283.9" stroke="#d4b30c" stroke-width="0.8" fill="none" opacity="0.35"/>
<path d="M134.8,294.1 Q143.4,298.2 152.0,294.1" stroke="#d4b30c" stroke-width="0.8" fill="none" opacity="0.35"/>
<path d="M134.8,304.3 Q143.4,308.4 152.0,304.3" stroke="#d4b30c" stroke-width="0.8" fill="none" opacity="0.35"/>
<ellipse cx="143.4" cy="263.5" rx="8.6" ry="3.5" fill="#ecd54e" stroke="#c9a90a" stroke-width="0.7"/>
<path d="M150.2,268.5 L150.2,319.3 A8.7,3.5 0 0 0 167.7,319.3 L167.7,268.5 Z" fill="url(#gy)"/>
<path d="M150.2,278.7 Q159.0,282.9 167.7,278.7" stroke="#d4b30c" stroke-width="0.8" fill="none" opacity="0.35"/>
<path d="M150.2,288.8 Q159.0,293.1 167.7,288.8" stroke="#d4b30c" stroke-width="0.8" fill="none" opacity="0.35"/>
<path d="M150.2,299.0 Q159.0,303.2 167.7,299.0" stroke="#d4b30c" stroke-width="0.8" fill="none" opacity="0.35"/>
<path d="M150.2,309.2 Q159.0,313.4 167.7,309.2" stroke="#d4b30c" stroke-width="0.8" fill="none" opacity="0.35"/>
<ellipse cx="159.0" cy="268.5" rx="8.7" ry="3.5" fill="#ecd54e" stroke="#c9a90a" stroke-width="0.7"/>
<path d="M165.6,273.4 L165.6,324.2 A8.8,3.6 0 0 0 183.2,324.2 L183.2,273.4 Z" fill="url(#gy)"/>
<path d="M165.6,283.6 Q174.4,287.9 183.2,283.6" stroke="#d4b30c" stroke-width="0.8" fill="none" opacity="0.35"/>
<path d="M165.6,293.7 Q174.4,298.0 183.2,293.7" stroke="#d4b30c" stroke-width="0.8" fill="none" opacity="0.35"/>
<path d="M165.6,303.9 Q174.4,308.2 183.2,303.9" stroke="#d4b30c" stroke-width="0.8" fill="none" opacity="0.35"/>
<path d="M165.6,314.0 Q174.4,318.3 183.2,314.0" stroke="#d4b30c" stroke-width="0.8" fill="none" opacity="0.35"/>
<ellipse cx="174.4" cy="273.4" rx="8.8" ry="3.6" fill="#ecd54e" stroke="#c9a90a" stroke-width="0.7"/>
<path d="M181.7,278.6 L181.7,329.2 A8.9,3.6 0 0 0 199.5,329.2 L199.5,278.6 Z" fill="url(#gy)"/>
<path d="M181.7,288.7 Q190.6,293.1 199.5,288.7" stroke="#d4b30c" stroke-width="0.8" fill="none" opacity="0.35"/>
<path d="M181.7,298.8 Q190.6,303.2 199.5,298.8" stroke="#d4b30c" stroke-width="0.8" fill="none" opacity="0.35"/>
<path d="M181.7,309.0 Q190.6,313.3 199.5,309.0" stroke="#d4b30c" stroke-width="0.8" fill="none" opacity="0.35"/>
<path d="M181.7,319.1 Q190.6,323.5 199.5,319.1" stroke="#d4b30c" stroke-width="0.8" fill="none" opacity="0.35"/>
<ellipse cx="190.6" cy="278.6" rx="8.9" ry="3.6" fill="#ecd54e" stroke="#c9a90a" stroke-width="0.7"/>
<path d="M197.0,283.4 L197.0,334.0 A9.0,3.7 0 0 0 215.0,334.0 L215.0,283.4 Z" fill="url(#gw)"/>
<path d="M197.0,293.6 Q206.0,298.0 215.0,293.6" stroke="#cfd0d6" stroke-width="0.8" fill="none" opacity="0.35"/>
<path d="M197.0,303.7 Q206.0,308.1 215.0,303.7" stroke="#cfd0d6" stroke-width="0.8" fill="none" opacity="0.35"/>
<path d="M197.0,313.8 Q206.0,318.2 215.0,313.8" stroke="#cfd0d6" stroke-width="0.8" fill="none" opacity="0.35"/>
<path d="M197.0,323.9 Q206.0,328.3 215.0,323.9" stroke="#cfd0d6" stroke-width="0.8" fill="none" opacity="0.35"/>
<ellipse cx="206.0" cy="283.4" rx="9.0" ry="3.7" fill="#dadbe0" stroke="#c4c5cc" stroke-width="0.7"/>
<path d="M214.6,289.0 L214.6,339.6 A9.1,3.8 0 0 0 232.8,339.6 L232.8,289.0 Z" fill="url(#gw)"/>
<path d="M214.6,299.1 Q223.7,303.6 232.8,299.1" stroke="#cfd0d6" stroke-width="0.8" fill="none" opacity="0.35"/>
<path d="M214.6,309.3 Q223.7,313.8 232.8,309.3" stroke="#cfd0d6" stroke-width="0.8" fill="none" opacity="0.35"/>
<path d="M214.6,319.4 Q223.7,323.9 232.8,319.4" stroke="#cfd0d6" stroke-width="0.8" fill="none" opacity="0.35"/>
<path d="M214.6,329.5 Q223.7,334.0 232.8,329.5" stroke="#cfd0d6" stroke-width="0.8" fill="none" opacity="0.35"/>
<ellipse cx="223.7" cy="289.0" rx="9.1" ry="3.8" fill="#dadbe0" stroke="#c4c5cc" stroke-width="0.7"/>
<path d="M231.0,294.2 L231.0,344.8 A9.2,3.8 0 0 0 249.3,344.8 L249.3,294.2 Z" fill="url(#gw)"/>
<path d="M231.0,304.3 Q240.2,308.9 249.3,304.3" stroke="#cfd0d6" stroke-width="0.8" fill="none" opacity="0.35"/>
<path d="M231.0,314.4 Q240.2,319.0 249.3,314.4" stroke="#cfd0d6" stroke-width="0.8" fill="none" opacity="0.35"/>
<path d="M231.0,324.5 Q240.2,329.1 249.3,324.5" stroke="#cfd0d6" stroke-width="0.8" fill="none" opacity="0.35"/>
<path d="M231.0,334.6 Q240.2,339.2 249.3,334.6" stroke="#cfd0d6" stroke-width="0.8" fill="none" opacity="0.35"/>
<ellipse cx="240.2" cy="294.2" rx="9.2" ry="3.8" fill="#dadbe0" stroke="#c4c5cc" stroke-width="0.7"/>
<path d="M247.3,299.3 L247.3,349.9 A9.3,3.9 0 0 0 265.8,349.9 L265.8,299.3 Z" fill="url(#gw)"/>
<path d="M247.3,311.9 Q256.5,316.6 265.8,311.9" stroke="#cfd0d6" stroke-width="0.8" fill="none" opacity="0.35"/>
<path d="M247.3,324.6 Q256.5,329.2 265.8,324.6" stroke="#cfd0d6" stroke-width="0.8" fill="none" opacity="0.35"/>
<path d="M247.3,337.2 Q256.5,341.9 265.8,337.2" stroke="#cfd0d6" stroke-width="0.8" fill="none" opacity="0.35"/>
<ellipse cx="256.5" cy="299.3" rx="9.3" ry="3.9" fill="#dadbe0" stroke="#c4c5cc" stroke-width="0.7"/>
<path d="M264.9,304.8 L264.9,355.4 A9.3,3.9 0 0 0 283.6,355.4 L283.6,304.8 Z" fill="url(#gy)"/>
<path d="M264.9,317.4 Q274.3,322.2 283.6,317.4" stroke="#d4b30c" stroke-width="0.8" fill="none" opacity="0.35"/>
<path d="M264.9,330.1 Q274.3,334.8 283.6,330.1" stroke="#d4b30c" stroke-width="0.8" fill="none" opacity="0.35"/>
<path d="M264.9,342.8 Q274.3,347.5 283.6,342.8" stroke="#d4b30c" stroke-width="0.8" fill="none" opacity="0.35"/>
<ellipse cx="274.3" cy="304.8" rx="9.3" ry="3.9" fill="#ecd54e" stroke="#c9a90a" stroke-width="0.7"/>
<path d="M282.5,310.2 L282.5,361.0 A9.4,4.0 0 0 0 301.4,361.0 L301.4,310.2 Z" fill="url(#gy)"/>
<path d="M282.5,322.9 Q291.9,327.7 301.4,322.9" stroke="#d4b30c" stroke-width="0.8" fill="none" opacity="0.35"/>
<path d="M282.5,335.6 Q291.9,340.4 301.4,335.6" stroke="#d4b30c" stroke-width="0.8" fill="none" opacity="0.35"/>
<path d="M282.5,348.3 Q291.9,353.1 301.4,348.3" stroke="#d4b30c" stroke-width="0.8" fill="none" opacity="0.35"/>
<ellipse cx="291.9" cy="310.2" rx="9.4" ry="4.0" fill="#ecd54e" stroke="#c9a90a" stroke-width="0.7"/>
<path d="M300.2,315.7 L300.2,366.5 A9.5,4.1 0 0 0 319.2,366.5 L319.2,315.7 Z" fill="url(#gy)"/>
<path d="M300.2,328.4 Q309.7,333.3 319.2,328.4" stroke="#d4b30c" stroke-width="0.8" fill="none" opacity="0.35"/>
<path d="M300.2,341.1 Q309.7,346.0 319.2,341.1" stroke="#d4b30c" stroke-width="0.8" fill="none" opacity="0.35"/>
<path d="M300.2,353.8 Q309.7,358.7 319.2,353.8" stroke="#d4b30c" stroke-width="0.8" fill="none" opacity="0.35"/>
<ellipse cx="309.7" cy="315.7" rx="9.5" ry="4.1" fill="#ecd54e" stroke="#c9a90a" stroke-width="0.7"/>
<path d="M319.0,321.5 L319.0,372.4 A9.6,4.2 0 0 0 338.3,372.4 L338.3,321.5 Z" fill="url(#gw)"/>
<path d="M319.0,334.2 Q328.6,339.2 338.3,334.2" stroke="#cfd0d6" stroke-width="0.8" fill="none" opacity="0.35"/>
<path d="M319.0,346.9 Q328.6,351.9 338.3,346.9" stroke="#cfd0d6" stroke-width="0.8" fill="none" opacity="0.35"/>
<path d="M319.0,359.7 Q328.6,364.7 338.3,359.7" stroke="#cfd0d6" stroke-width="0.8" fill="none" opacity="0.35"/>
<ellipse cx="328.6" cy="321.5" rx="9.6" ry="4.2" fill="#dadbe0" stroke="#c4c5cc" stroke-width="0.7"/>
<path d="M336.6,326.8 L336.6,377.9 A9.7,4.2 0 0 0 356.0,377.9 L356.0,326.8 Z" fill="url(#gw)"/>
<path d="M336.6,339.6 Q346.3,344.7 356.0,339.6" stroke="#cfd0d6" stroke-width="0.8" fill="none" opacity="0.35"/>
<path d="M336.6,352.4 Q346.3,357.5 356.0,352.4" stroke="#cfd0d6" stroke-width="0.8" fill="none" opacity="0.35"/>
<path d="M336.6,365.2 Q346.3,370.2 356.0,365.2" stroke="#cfd0d6" stroke-width="0.8" fill="none" opacity="0.35"/>
<ellipse cx="346.3" cy="326.8" rx="9.7" ry="4.2" fill="#dadbe0" stroke="#c4c5cc" stroke-width="0.7"/>
<path d="M356.0,332.7 L356.0,384.1 A9.8,4.3 0 0 0 375.7,384.1 L375.7,332.7 Z" fill="url(#gy)"/>
<path d="M356.0,345.6 Q365.8,350.7 375.7,345.6" stroke="#d4b30c" stroke-width="0.8" fill="none" opacity="0.35"/>
<path d="M356.0,358.4 Q365.8,363.5 375.7,358.4" stroke="#d4b30c" stroke-width="0.8" fill="none" opacity="0.35"/>
<path d="M356.0,371.2 Q365.8,376.4 375.7,371.2" stroke="#d4b30c" stroke-width="0.8" fill="none" opacity="0.35"/>
<ellipse cx="365.8" cy="332.7" rx="9.8" ry="4.3" fill="#ecd54e" stroke="#c9a90a" stroke-width="0.7"/>
<path d="M374.7,338.4 L374.7,389.9 A9.9,4.4 0 0 0 394.6,389.9 L394.6,338.4 Z" fill="url(#gy)"/>
<path d="M374.7,351.3 Q384.7,356.5 394.6,351.3" stroke="#d4b30c" stroke-width="0.8" fill="none" opacity="0.35"/>
<path d="M374.7,364.2 Q384.7,369.4 394.6,364.2" stroke="#d4b30c" stroke-width="0.8" fill="none" opacity="0.35"/>
<path d="M374.7,377.1 Q384.7,382.3 394.6,377.1" stroke="#d4b30c" stroke-width="0.8" fill="none" opacity="0.35"/>
<ellipse cx="384.7" cy="338.4" rx="9.9" ry="4.4" fill="#ecd54e" stroke="#c9a90a" stroke-width="0.7"/>
<path d="M394.9,344.4 L394.9,396.3 A10.0,4.5 0 0 0 415.0,396.3 L415.0,344.4 Z" fill="url(#gy)"/>
<path d="M394.9,357.4 Q405.0,362.8 415.0,357.4" stroke="#d4b30c" stroke-width="0.8" fill="none" opacity="0.35"/>
<path d="M394.9,370.4 Q405.0,375.7 415.0,370.4" stroke="#d4b30c" stroke-width="0.8" fill="none" opacity="0.35"/>
<path d="M394.9,383.3 Q405.0,388.7 415.0,383.3" stroke="#d4b30c" stroke-width="0.8" fill="none" opacity="0.35"/>
<ellipse cx="405.0" cy="344.4" rx="10.0" ry="4.5" fill="#ecd54e" stroke="#c9a90a" stroke-width="0.7"/>
<path d="M415.2,350.5 L415.2,402.7 A10.2,4.5 0 0 0 435.5,402.7 L435.5,350.5 Z" fill="url(#gy)"/>
<path d="M415.2,363.5 Q425.3,369.0 435.5,363.5" stroke="#d4b30c" stroke-width="0.8" fill="none" opacity="0.35"/>
<path d="M415.2,376.6 Q425.3,382.0 435.5,376.6" stroke="#d4b30c" stroke-width="0.8" fill="none" opacity="0.35"/>
<path d="M415.2,389.6 Q425.3,395.1 435.5,389.6" stroke="#d4b30c" stroke-width="0.8" fill="none" opacity="0.35"/>
<ellipse cx="425.3" cy="350.5" rx="10.2" ry="4.5" fill="#ecd54e" stroke="#c9a90a" stroke-width="0.7"/>
<path d="M435.2,356.4 L435.2,409.0 A10.3,4.6 0 0 0 455.7,409.0 L455.7,356.4 Z" fill="url(#gy)"/>
<path d="M435.2,369.6 Q445.4,375.1 455.7,369.6" stroke="#d4b30c" stroke-width="0.8" fill="none" opacity="0.35"/>
<path d="M435.2,382.7 Q445.4,388.2 455.7,382.7" stroke="#d4b30c" stroke-width="0.8" fill="none" opacity="0.35"/>
<path d="M435.2,395.8 Q445.4,401.4 455.7,395.8" stroke="#d4b30c" stroke-width="0.8" fill="none" opacity="0.35"/>
<ellipse cx="445.4" cy="356.4" rx="10.3" ry="4.6" fill="#ecd54e" stroke="#c9a90a" stroke-width="0.7"/>
<path d="M455.3,362.3 L455.3,415.3 A10.4,4.7 0 0 0 476.1,415.3 L476.1,362.3 Z" fill="url(#gw)"/>
<path d="M455.3,375.6 Q465.7,381.2 476.1,375.6" stroke="#cfd0d6" stroke-width="0.8" fill="none" opacity="0.35"/>
<path d="M455.3,388.8 Q465.7,394.5 476.1,388.8" stroke="#cfd0d6" stroke-width="0.8" fill="none" opacity="0.35"/>
<path d="M455.3,402.0 Q465.7,407.7 476.1,402.0" stroke="#cfd0d6" stroke-width="0.8" fill="none" opacity="0.35"/>
<ellipse cx="465.7" cy="362.3" rx="10.4" ry="4.7" fill="#dadbe0" stroke="#c4c5cc" stroke-width="0.7"/>
<path d="M476.7,368.6 L476.7,422.0 A10.5,4.8 0 0 0 497.7,422.0 L497.7,368.6 Z" fill="url(#gw)"/>
<path d="M476.7,382.0 Q487.2,387.7 497.7,382.0" stroke="#cfd0d6" stroke-width="0.8" fill="none" opacity="0.35"/>
<path d="M476.7,395.3 Q487.2,401.1 497.7,395.3" stroke="#cfd0d6" stroke-width="0.8" fill="none" opacity="0.35"/>
<path d="M476.7,408.7 Q487.2,414.4 497.7,408.7" stroke="#cfd0d6" stroke-width="0.8" fill="none" opacity="0.35"/>
<ellipse cx="487.2" cy="368.6" rx="10.5" ry="4.8" fill="#dadbe0" stroke="#c4c5cc" stroke-width="0.7"/>
<path d="M498.0,374.8 L498.0,428.7 A10.6,4.9 0 0 0 519.2,428.7 L519.2,374.8 Z" fill="url(#gy)"/>
<path d="M498.0,388.3 Q508.6,394.1 519.2,388.3" stroke="#d4b30c" stroke-width="0.8" fill="none" opacity="0.35"/>
<path d="M498.0,401.8 Q508.6,407.6 519.2,401.8" stroke="#d4b30c" stroke-width="0.8" fill="none" opacity="0.35"/>
<path d="M498.0,415.2 Q508.6,421.1 519.2,415.2" stroke="#d4b30c" stroke-width="0.8" fill="none" opacity="0.35"/>
<ellipse cx="508.6" cy="374.8" rx="10.6" ry="4.9" fill="#ecd54e" stroke="#c9a90a" stroke-width="0.7"/>
<path d="M519.4,381.0 L519.4,435.4 A10.7,5.0 0 0 0 540.9,435.4 L540.9,381.0 Z" fill="url(#gy)"/>
<path d="M519.4,394.6 Q530.1,400.6 540.9,394.6" stroke="#d4b30c" stroke-width="0.8" fill="none" opacity="0.35"/>
<path d="M519.4,408.2 Q530.1,414.2 540.9,408.2" stroke="#d4b30c" stroke-width="0.8" fill="none" opacity="0.35"/>
<path d="M519.4,421.8 Q530.1,427.8 540.9,421.8" stroke="#d4b30c" stroke-width="0.8" fill="none" opacity="0.35"/>
<ellipse cx="530.1" cy="381.0" rx="10.7" ry="5.0" fill="#ecd54e" stroke="#c9a90a" stroke-width="0.7"/>
<path d="M540.8,387.1 L540.8,442.1 A10.8,5.1 0 0 0 562.5,442.1 L562.5,387.1 Z" fill="url(#gy)"/>
<path d="M540.8,400.9 Q551.7,407.0 562.5,400.9" stroke="#d4b30c" stroke-width="0.8" fill="none" opacity="0.35"/>
<path d="M540.8,414.6 Q551.7,420.7 562.5,414.6" stroke="#d4b30c" stroke-width="0.8" fill="none" opacity="0.35"/>
<path d="M540.8,428.4 Q551.7,434.5 562.5,428.4" stroke="#d4b30c" stroke-width="0.8" fill="none" opacity="0.35"/>
<ellipse cx="551.7" cy="387.1" rx="10.8" ry="5.1" fill="#ecd54e" stroke="#c9a90a" stroke-width="0.7"/>
<path d="M564.4,393.8 L564.4,449.5 A11.0,5.2 0 0 0 586.3,449.5 L586.3,393.8 Z" fill="url(#gw)"/>
<path d="M564.4,407.8 Q575.4,414.0 586.3,407.8" stroke="#cfd0d6" stroke-width="0.8" fill="none" opacity="0.35"/>
<path d="M564.4,421.7 Q575.4,427.9 586.3,421.7" stroke="#cfd0d6" stroke-width="0.8" fill="none" opacity="0.35"/>
<path d="M564.4,435.6 Q575.4,441.8 586.3,435.6" stroke="#cfd0d6" stroke-width="0.8" fill="none" opacity="0.35"/>
<ellipse cx="575.4" cy="393.8" rx="11.0" ry="5.2" fill="#dadbe0" stroke="#c4c5cc" stroke-width="0.7"/>
<path d="M586.8,400.2 L586.8,456.6 A11.1,5.3 0 0 0 608.9,456.6 L608.9,400.2 Z" fill="url(#gw)"/>
<path d="M586.8,414.3 Q597.9,420.6 608.9,414.3" stroke="#cfd0d6" stroke-width="0.8" fill="none" opacity="0.35"/>
<path d="M586.8,428.4 Q597.9,434.7 608.9,428.4" stroke="#cfd0d6" stroke-width="0.8" fill="none" opacity="0.35"/>
<path d="M586.8,442.5 Q597.9,448.8 608.9,442.5" stroke="#cfd0d6" stroke-width="0.8" fill="none" opacity="0.35"/>
<ellipse cx="597.9" cy="400.2" rx="11.1" ry="5.3" fill="#dadbe0" stroke="#c4c5cc" stroke-width="0.7"/>
<path d="M609.5,406.6 L609.5,463.7 A11.2,5.4 0 0 0 631.9,463.7 L631.9,406.6 Z" fill="url(#gw)"/>
<path d="M609.5,420.8 Q620.7,427.3 631.9,420.8" stroke="#cfd0d6" stroke-width="0.8" fill="none" opacity="0.35"/>
<path d="M609.5,435.1 Q620.7,441.6 631.9,435.1" stroke="#cfd0d6" stroke-width="0.8" fill="none" opacity="0.35"/>
<path d="M609.5,449.4 Q620.7,455.9 631.9,449.4" stroke="#cfd0d6" stroke-width="0.8" fill="none" opacity="0.35"/>
<ellipse cx="620.7" cy="406.6" rx="11.2" ry="5.4" fill="#dadbe0" stroke="#c4c5cc" stroke-width="0.7"/>
<path d="M633.1,413.1 L633.1,471.1 A11.3,5.5 0 0 0 655.8,471.1 L655.8,413.1 Z" fill="url(#gw)"/>
<path d="M633.1,427.6 Q644.5,434.2 655.8,427.6" stroke="#cfd0d6" stroke-width="0.8" fill="none" opacity="0.35"/>
<path d="M633.1,442.1 Q644.5,448.7 655.8,442.1" stroke="#cfd0d6" stroke-width="0.8" fill="none" opacity="0.35"/>
<path d="M633.1,456.6 Q644.5,463.2 655.8,456.6" stroke="#cfd0d6" stroke-width="0.8" fill="none" opacity="0.35"/>
<ellipse cx="644.5" cy="413.1" rx="11.3" ry="5.5" fill="#dadbe0" stroke="#c4c5cc" stroke-width="0.7"/>
<path d="M658.2,420.1 L658.2,479.0 A11.5,5.6 0 0 0 681.1,479.0 L681.1,420.1 Z" fill="url(#gy)"/>
<path d="M658.2,434.8 Q669.7,441.5 681.1,434.8" stroke="#d4b30c" stroke-width="0.8" fill="none" opacity="0.35"/>
<path d="M658.2,449.5 Q669.7,456.2 681.1,449.5" stroke="#d4b30c" stroke-width="0.8" fill="none" opacity="0.35"/>
<path d="M658.2,464.3 Q669.7,471.0 681.1,464.3" stroke="#d4b30c" stroke-width="0.8" fill="none" opacity="0.35"/>
<ellipse cx="669.7" cy="420.1" rx="11.5" ry="5.6" fill="#ecd54e" stroke="#c9a90a" stroke-width="0.7"/>
<path d="M684.2,427.2 L684.2,487.2 A11.6,5.7 0 0 0 707.4,487.2 L707.4,427.2 Z" fill="url(#gy)"/>
<path d="M684.2,442.2 Q695.8,449.0 707.4,442.2" stroke="#d4b30c" stroke-width="0.8" fill="none" opacity="0.35"/>
<path d="M684.2,457.2 Q695.8,464.0 707.4,457.2" stroke="#d4b30c" stroke-width="0.8" fill="none" opacity="0.35"/>
<path d="M684.2,472.2 Q695.8,479.0 707.4,472.2" stroke="#d4b30c" stroke-width="0.8" fill="none" opacity="0.35"/>
<ellipse cx="695.8" cy="427.2" rx="11.6" ry="5.7" fill="#ecd54e" stroke="#c9a90a" stroke-width="0.7"/>
<path d="M709.1,434.0 L709.1,495.0 A11.7,5.8 0 0 0 732.6,495.0 L732.6,434.0 Z" fill="url(#gy)"/>
<path d="M709.1,449.2 Q720.8,456.2 732.6,449.2" stroke="#d4b30c" stroke-width="0.8" fill="none" opacity="0.35"/>
<path d="M709.1,464.5 Q720.8,471.4 732.6,464.5" stroke="#d4b30c" stroke-width="0.8" fill="none" opacity="0.35"/>
<path d="M709.1,479.7 Q720.8,486.7 732.6,479.7" stroke="#d4b30c" stroke-width="0.8" fill="none" opacity="0.35"/>
<ellipse cx="720.8" cy="434.0" rx="11.7" ry="5.8" fill="#ecd54e" stroke="#c9a90a" stroke-width="0.7"/>
<path d="M734.1,440.7 L734.1,502.8 A11.9,5.9 0 0 0 757.9,502.8 L757.9,440.7 Z" fill="url(#gy)"/>
<path d="M734.1,456.2 Q746.0,463.4 757.9,456.2" stroke="#d4b30c" stroke-width="0.8" fill="none" opacity="0.35"/>
<path d="M734.1,471.8 Q746.0,478.9 757.9,471.8" stroke="#d4b30c" stroke-width="0.8" fill="none" opacity="0.35"/>
<path d="M734.1,487.3 Q746.0,494.4 757.9,487.3" stroke="#d4b30c" stroke-width="0.8" fill="none" opacity="0.35"/>
<ellipse cx="746.0" cy="440.7" rx="11.9" ry="5.9" fill="#ecd54e" stroke="#c9a90a" stroke-width="0.7"/>
<path d="M120.6,270.5 L120.6,321.3 A9.1,3.6 0 0 0 138.8,321.3 L138.8,270.5 Z" fill="url(#gy)"/>
<path d="M120.6,280.7 Q129.7,285.0 138.8,280.7" stroke="#d4b30c" stroke-width="0.8" fill="none" opacity="0.35"/>
<path d="M120.6,290.8 Q129.7,295.2 138.8,290.8" stroke="#d4b30c" stroke-width="0.8" fill="none" opacity="0.35"/>
<path d="M120.6,301.0 Q129.7,305.3 138.8,301.0" stroke="#d4b30c" stroke-width="0.8" fill="none" opacity="0.35"/>
<path d="M120.6,311.1 Q129.7,315.5 138.8,311.1" stroke="#d4b30c" stroke-width="0.8" fill="none" opacity="0.35"/>
<ellipse cx="129.7" cy="270.5" rx="9.1" ry="3.6" fill="#ecd54e" stroke="#c9a90a" stroke-width="0.7"/>
<path d="M136.2,275.6 L136.2,326.3 A9.2,3.7 0 0 0 154.6,326.3 L154.6,275.6 Z" fill="url(#gy)"/>
<path d="M136.2,285.8 Q145.4,290.2 154.6,285.8" stroke="#d4b30c" stroke-width="0.8" fill="none" opacity="0.35"/>
<path d="M136.2,295.9 Q145.4,300.3 154.6,295.9" stroke="#d4b30c" stroke-width="0.8" fill="none" opacity="0.35"/>
<path d="M136.2,306.0 Q145.4,310.5 154.6,306.0" stroke="#d4b30c" stroke-width="0.8" fill="none" opacity="0.35"/>
<path d="M136.2,316.1 Q145.4,320.6 154.6,316.1" stroke="#d4b30c" stroke-width="0.8" fill="none" opacity="0.35"/>
<ellipse cx="145.4" cy="275.6" rx="9.2" ry="3.7" fill="#ecd54e" stroke="#c9a90a" stroke-width="0.7"/>
<path d="M151.7,280.7 L151.7,331.2 A9.3,3.8 0 0 0 170.3,331.2 L170.3,280.7 Z" fill="url(#gy)"/>
<path d="M151.7,293.3 Q161.0,297.8 170.3,293.3" stroke="#d4b30c" stroke-width="0.8" fill="none" opacity="0.35"/>
<path d="M151.7,306.0 Q161.0,310.5 170.3,306.0" stroke="#d4b30c" stroke-width="0.8" fill="none" opacity="0.35"/>
<path d="M151.7,318.6 Q161.0,323.1 170.3,318.6" stroke="#d4b30c" stroke-width="0.8" fill="none" opacity="0.35"/>
<ellipse cx="161.0" cy="280.7" rx="9.3" ry="3.8" fill="#ecd54e" stroke="#c9a90a" stroke-width="0.7"/>
<path d="M167.9,286.0 L167.9,336.4 A9.4,3.8 0 0 0 186.7,336.4 L186.7,286.0 Z" fill="url(#gy)"/>
<path d="M167.9,298.6 Q177.3,303.2 186.7,298.6" stroke="#d4b30c" stroke-width="0.8" fill="none" opacity="0.35"/>
<path d="M167.9,311.2 Q177.3,315.8 186.7,311.2" stroke="#d4b30c" stroke-width="0.8" fill="none" opacity="0.35"/>
<path d="M167.9,323.8 Q177.3,328.4 186.7,323.8" stroke="#d4b30c" stroke-width="0.8" fill="none" opacity="0.35"/>
<ellipse cx="177.3" cy="286.0" rx="9.4" ry="3.8" fill="#ecd54e" stroke="#c9a90a" stroke-width="0.7"/>
<path d="M183.3,291.0 L183.3,341.4 A9.5,3.9 0 0 0 202.3,341.4 L202.3,291.0 Z" fill="url(#gw)"/>
<path d="M183.3,303.6 Q192.8,308.2 202.3,303.6" stroke="#cfd0d6" stroke-width="0.8" fill="none" opacity="0.35"/>
<path d="M183.3,316.2 Q192.8,320.8 202.3,316.2" stroke="#cfd0d6" stroke-width="0.8" fill="none" opacity="0.35"/>
<path d="M183.3,328.8 Q192.8,333.4 202.3,328.8" stroke="#cfd0d6" stroke-width="0.8" fill="none" opacity="0.35"/>
<ellipse cx="192.8" cy="291.0" rx="9.5" ry="3.9" fill="#dadbe0" stroke="#c4c5cc" stroke-width="0.7"/>
<path d="M201.1,296.7 L201.1,347.1 A9.6,3.9 0 0 0 220.3,347.1 L220.3,296.7 Z" fill="url(#gw)"/>
<path d="M201.1,309.3 Q210.7,314.0 220.3,309.3" stroke="#cfd0d6" stroke-width="0.8" fill="none" opacity="0.35"/>
<path d="M201.1,321.9 Q210.7,326.6 220.3,321.9" stroke="#cfd0d6" stroke-width="0.8" fill="none" opacity="0.35"/>
<path d="M201.1,334.5 Q210.7,339.2 220.3,334.5" stroke="#cfd0d6" stroke-width="0.8" fill="none" opacity="0.35"/>
<ellipse cx="210.7" cy="296.7" rx="9.6" ry="3.9" fill="#dadbe0" stroke="#c4c5cc" stroke-width="0.7"/>
<path d="M217.7,302.0 L217.7,352.4 A9.6,4.0 0 0 0 236.9,352.4 L236.9,302.0 Z" fill="url(#gw)"/>
<path d="M217.7,314.6 Q227.3,319.4 236.9,314.6" stroke="#cfd0d6" stroke-width="0.8" fill="none" opacity="0.35"/>
<path d="M217.7,327.2 Q227.3,332.0 236.9,327.2" stroke="#cfd0d6" stroke-width="0.8" fill="none" opacity="0.35"/>
<path d="M217.7,339.8 Q227.3,344.6 236.9,339.8" stroke="#cfd0d6" stroke-width="0.8" fill="none" opacity="0.35"/>
<ellipse cx="227.3" cy="302.0" rx="9.6" ry="4.0" fill="#dadbe0" stroke="#c4c5cc" stroke-width="0.7"/>
<path d="M234.1,307.2 L234.1,357.6 A9.7,4.1 0 0 0 253.5,357.6 L253.5,307.2 Z" fill="url(#gw)"/>
<path d="M234.1,319.8 Q243.8,324.7 253.5,319.8" stroke="#cfd0d6" stroke-width="0.8" fill="none" opacity="0.35"/>
<path d="M234.1,332.4 Q243.8,337.3 253.5,332.4" stroke="#cfd0d6" stroke-width="0.8" fill="none" opacity="0.35"/>
<path d="M234.1,345.0 Q243.8,349.9 253.5,345.0" stroke="#cfd0d6" stroke-width="0.8" fill="none" opacity="0.35"/>
<ellipse cx="243.8" cy="307.2" rx="9.7" ry="4.1" fill="#dadbe0" stroke="#c4c5cc" stroke-width="0.7"/>
<path d="M251.9,312.9 L251.9,363.3 A9.8,4.1 0 0 0 271.5,363.3 L271.5,312.9 Z" fill="url(#gy)"/>
<path d="M251.9,325.5 Q261.7,330.5 271.5,325.5" stroke="#d4b30c" stroke-width="0.8" fill="none" opacity="0.35"/>
<path d="M251.9,338.1 Q261.7,343.1 271.5,338.1" stroke="#d4b30c" stroke-width="0.8" fill="none" opacity="0.35"/>
<path d="M251.9,350.7 Q261.7,355.7 271.5,350.7" stroke="#d4b30c" stroke-width="0.8" fill="none" opacity="0.35"/>
<ellipse cx="261.7" cy="312.9" rx="9.8" ry="4.1" fill="#ecd54e" stroke="#c9a90a" stroke-width="0.7"/>
<path d="M269.6,318.5 L269.6,369.0 A9.9,4.2 0 0 0 289.4,369.0 L289.4,318.5 Z" fill="url(#gy)"/>
<path d="M269.6,331.1 Q279.5,336.2 289.4,331.1" stroke="#d4b30c" stroke-width="0.8" fill="none" opacity="0.35"/>
<path d="M269.6,343.7 Q279.5,348.8 289.4,343.7" stroke="#d4b30c" stroke-width="0.8" fill="none" opacity="0.35"/>
<path d="M269.6,356.3 Q279.5,361.4 289.4,356.3" stroke="#d4b30c" stroke-width="0.8" fill="none" opacity="0.35"/>
<ellipse cx="279.5" cy="318.5" rx="9.9" ry="4.2" fill="#ecd54e" stroke="#c9a90a" stroke-width="0.7"/>
<path d="M287.4,324.1 L287.4,374.7 A10.0,4.3 0 0 0 307.4,374.7 L307.4,324.1 Z" fill="url(#gy)"/>
<path d="M287.4,336.7 Q297.4,341.9 307.4,336.7" stroke="#d4b30c" stroke-width="0.8" fill="none" opacity="0.35"/>
<path d="M287.4,349.4 Q297.4,354.5 307.4,349.4" stroke="#d4b30c" stroke-width="0.8" fill="none" opacity="0.35"/>
<path d="M287.4,362.0 Q297.4,367.2 307.4,362.0" stroke="#d4b30c" stroke-width="0.8" fill="none" opacity="0.35"/>
<ellipse cx="297.4" cy="324.1" rx="10.0" ry="4.3" fill="#ecd54e" stroke="#c9a90a" stroke-width="0.7"/>
<path d="M306.4,330.0 L306.4,380.7 A10.1,4.4 0 0 0 326.6,380.7 L326.6,330.0 Z" fill="url(#gw)"/>
<path d="M306.4,342.7 Q316.5,347.9 326.6,342.7" stroke="#cfd0d6" stroke-width="0.8" fill="none" opacity="0.35"/>
<path d="M306.4,355.4 Q316.5,360.6 326.6,355.4" stroke="#cfd0d6" stroke-width="0.8" fill="none" opacity="0.35"/>
<path d="M306.4,368.1 Q316.5,373.3 326.6,368.1" stroke="#cfd0d6" stroke-width="0.8" fill="none" opacity="0.35"/>
<ellipse cx="316.5" cy="330.0" rx="10.1" ry="4.4" fill="#dadbe0" stroke="#c4c5cc" stroke-width="0.7"/>
<path d="M324.1,335.5 L324.1,386.4 A10.2,4.4 0 0 0 344.5,386.4 L344.5,335.5 Z" fill="url(#gw)"/>
<path d="M324.1,348.2 Q334.3,353.6 344.5,348.2" stroke="#cfd0d6" stroke-width="0.8" fill="none" opacity="0.35"/>
<path d="M324.1,361.0 Q334.3,366.3 344.5,361.0" stroke="#cfd0d6" stroke-width="0.8" fill="none" opacity="0.35"/>
<path d="M324.1,373.7 Q334.3,379.0 344.5,373.7" stroke="#cfd0d6" stroke-width="0.8" fill="none" opacity="0.35"/>
<ellipse cx="334.3" cy="335.5" rx="10.2" ry="4.4" fill="#dadbe0" stroke="#c4c5cc" stroke-width="0.7"/>
<path d="M343.6,341.6 L343.6,392.7 A10.4,4.5 0 0 0 364.4,392.7 L364.4,341.6 Z" fill="url(#gy)"/>
<path d="M343.6,354.3 Q354.0,359.8 364.4,354.3" stroke="#d4b30c" stroke-width="0.8" fill="none" opacity="0.35"/>
<path d="M343.6,367.1 Q354.0,372.5 364.4,367.1" stroke="#d4b30c" stroke-width="0.8" fill="none" opacity="0.35"/>
<path d="M343.6,379.9 Q354.0,385.3 364.4,379.9" stroke="#d4b30c" stroke-width="0.8" fill="none" opacity="0.35"/>
<ellipse cx="354.0" cy="341.6" rx="10.4" ry="4.5" fill="#ecd54e" stroke="#c9a90a" stroke-width="0.7"/>
<path d="M362.5,347.4 L362.5,398.7 A10.5,4.6 0 0 0 383.5,398.7 L383.5,347.4 Z" fill="url(#gy)"/>
<path d="M362.5,360.2 Q373.0,365.7 383.5,360.2" stroke="#d4b30c" stroke-width="0.8" fill="none" opacity="0.35"/>
<path d="M362.5,373.0 Q373.0,378.6 383.5,373.0" stroke="#d4b30c" stroke-width="0.8" fill="none" opacity="0.35"/>
<path d="M362.5,385.9 Q373.0,391.4 383.5,385.9" stroke="#d4b30c" stroke-width="0.8" fill="none" opacity="0.35"/>
<ellipse cx="373.0" cy="347.4" rx="10.5" ry="4.6" fill="#ecd54e" stroke="#c9a90a" stroke-width="0.7"/>
<path d="M382.9,353.6 L382.9,405.2 A10.6,4.7 0 0 0 404.1,405.2 L404.1,353.6 Z" fill="url(#gy)"/>
<path d="M382.9,366.5 Q393.5,372.1 404.1,366.5" stroke="#d4b30c" stroke-width="0.8" fill="none" opacity="0.35"/>
<path d="M382.9,379.4 Q393.5,385.1 404.1,379.4" stroke="#d4b30c" stroke-width="0.8" fill="none" opacity="0.35"/>
<path d="M382.9,392.3 Q393.5,398.0 404.1,392.3" stroke="#d4b30c" stroke-width="0.8" fill="none" opacity="0.35"/>
<ellipse cx="393.5" cy="353.6" rx="10.6" ry="4.7" fill="#ecd54e" stroke="#c9a90a" stroke-width="0.7"/>
<path d="M403.3,359.8 L403.3,411.8 A10.7,4.8 0 0 0 424.7,411.8 L424.7,359.8 Z" fill="url(#gy)"/>
<path d="M403.3,372.8 Q414.0,378.5 424.7,372.8" stroke="#d4b30c" stroke-width="0.8" fill="none" opacity="0.35"/>
<path d="M403.3,385.8 Q414.0,391.5 424.7,385.8" stroke="#d4b30c" stroke-width="0.8" fill="none" opacity="0.35"/>
<path d="M403.3,398.8 Q414.0,404.5 424.7,398.8" stroke="#d4b30c" stroke-width="0.8" fill="none" opacity="0.35"/>
<ellipse cx="414.0" cy="359.8" rx="10.7" ry="4.8" fill="#ecd54e" stroke="#c9a90a" stroke-width="0.7"/>
<path d="M423.5,365.9 L423.5,418.2 A10.8,4.9 0 0 0 445.1,418.2 L445.1,365.9 Z" fill="url(#gy)"/>
<path d="M423.5,379.0 Q434.3,384.8 445.1,379.0" stroke="#d4b30c" stroke-width="0.8" fill="none" opacity="0.35"/>
<path d="M423.5,392.1 Q434.3,397.9 445.1,392.1" stroke="#d4b30c" stroke-width="0.8" fill="none" opacity="0.35"/>
<path d="M423.5,405.1 Q434.3,411.0 445.1,405.1" stroke="#d4b30c" stroke-width="0.8" fill="none" opacity="0.35"/>
<ellipse cx="434.3" cy="365.9" rx="10.8" ry="4.9" fill="#ecd54e" stroke="#c9a90a" stroke-width="0.7"/>
<path d="M443.8,372.0 L443.8,424.7 A10.9,5.0 0 0 0 465.6,424.7 L465.6,372.0 Z" fill="url(#gw)"/>
<path d="M443.8,385.2 Q454.7,391.1 465.6,385.2" stroke="#cfd0d6" stroke-width="0.8" fill="none" opacity="0.35"/>
<path d="M443.8,398.4 Q454.7,404.3 465.6,398.4" stroke="#cfd0d6" stroke-width="0.8" fill="none" opacity="0.35"/>
<path d="M443.8,411.5 Q454.7,417.5 465.6,411.5" stroke="#cfd0d6" stroke-width="0.8" fill="none" opacity="0.35"/>
<ellipse cx="454.7" cy="372.0" rx="10.9" ry="5.0" fill="#dadbe0" stroke="#c4c5cc" stroke-width="0.7"/>
<path d="M465.4,378.5 L465.4,431.6 A11.0,5.0 0 0 0 487.4,431.6 L487.4,378.5 Z" fill="url(#gw)"/>
<path d="M465.4,391.7 Q476.4,397.8 487.4,391.7" stroke="#cfd0d6" stroke-width="0.8" fill="none" opacity="0.35"/>
<path d="M465.4,405.0 Q476.4,411.1 487.4,405.0" stroke="#cfd0d6" stroke-width="0.8" fill="none" opacity="0.35"/>
<path d="M465.4,418.3 Q476.4,424.4 487.4,418.3" stroke="#cfd0d6" stroke-width="0.8" fill="none" opacity="0.35"/>
<ellipse cx="476.4" cy="378.5" rx="11.0" ry="5.0" fill="#dadbe0" stroke="#c4c5cc" stroke-width="0.7"/>
<path d="M486.8,384.8 L486.8,438.5 A11.2,5.1 0 0 0 509.2,438.5 L509.2,384.8 Z" fill="url(#gy)"/>
<path d="M486.8,398.2 Q498.0,404.4 509.2,398.2" stroke="#d4b30c" stroke-width="0.8" fill="none" opacity="0.35"/>
<path d="M486.8,411.6 Q498.0,417.8 509.2,411.6" stroke="#d4b30c" stroke-width="0.8" fill="none" opacity="0.35"/>
<path d="M486.8,425.1 Q498.0,431.2 509.2,425.1" stroke="#d4b30c" stroke-width="0.8" fill="none" opacity="0.35"/>
<ellipse cx="498.0" cy="384.8" rx="11.2" ry="5.1" fill="#ecd54e" stroke="#c9a90a" stroke-width="0.7"/>
<path d="M508.4,391.2 L508.4,445.4 A11.3,5.2 0 0 0 531.0,445.4 L531.0,391.2 Z" fill="url(#gy)"/>
<path d="M508.4,404.7 Q519.7,411.0 531.0,404.7" stroke="#d4b30c" stroke-width="0.8" fill="none" opacity="0.35"/>
<path d="M508.4,418.3 Q519.7,424.6 531.0,418.3" stroke="#d4b30c" stroke-width="0.8" fill="none" opacity="0.35"/>
<path d="M508.4,431.8 Q519.7,438.1 531.0,431.8" stroke="#d4b30c" stroke-width="0.8" fill="none" opacity="0.35"/>
<ellipse cx="519.7" cy="391.2" rx="11.3" ry="5.2" fill="#ecd54e" stroke="#c9a90a" stroke-width="0.7"/>
<path d="M530.0,397.5 L530.0,452.3 A11.4,5.3 0 0 0 552.8,452.3 L552.8,397.5 Z" fill="url(#gy)"/>
<path d="M530.0,411.2 Q541.4,417.6 552.8,411.2" stroke="#d4b30c" stroke-width="0.8" fill="none" opacity="0.35"/>
<path d="M530.0,424.9 Q541.4,431.3 552.8,424.9" stroke="#d4b30c" stroke-width="0.8" fill="none" opacity="0.35"/>
<path d="M530.0,438.6 Q541.4,445.0 552.8,438.6" stroke="#d4b30c" stroke-width="0.8" fill="none" opacity="0.35"/>
<ellipse cx="541.4" cy="397.5" rx="11.4" ry="5.3" fill="#ecd54e" stroke="#c9a90a" stroke-width="0.7"/>
<path d="M553.8,404.4 L553.8,459.8 A11.5,5.4 0 0 0 576.8,459.8 L576.8,404.4 Z" fill="url(#gw)"/>
<path d="M553.8,418.3 Q565.3,424.8 576.8,418.3" stroke="#cfd0d6" stroke-width="0.8" fill="none" opacity="0.35"/>
<path d="M553.8,432.1 Q565.3,438.7 576.8,432.1" stroke="#cfd0d6" stroke-width="0.8" fill="none" opacity="0.35"/>
<path d="M553.8,446.0 Q565.3,452.5 576.8,446.0" stroke="#cfd0d6" stroke-width="0.8" fill="none" opacity="0.35"/>
<ellipse cx="565.3" cy="404.4" rx="11.5" ry="5.4" fill="#dadbe0" stroke="#c4c5cc" stroke-width="0.7"/>
<path d="M576.3,410.9 L576.3,467.1 A11.7,5.5 0 0 0 599.7,467.1 L599.7,410.9 Z" fill="url(#gw)"/>
<path d="M576.3,425.0 Q588.0,431.6 599.7,425.0" stroke="#cfd0d6" stroke-width="0.8" fill="none" opacity="0.35"/>
<path d="M576.3,439.0 Q588.0,445.7 599.7,439.0" stroke="#cfd0d6" stroke-width="0.8" fill="none" opacity="0.35"/>
<path d="M576.3,453.0 Q588.0,459.7 599.7,453.0" stroke="#cfd0d6" stroke-width="0.8" fill="none" opacity="0.35"/>
<ellipse cx="588.0" cy="410.9" rx="11.7" ry="5.5" fill="#dadbe0" stroke="#c4c5cc" stroke-width="0.7"/>
<path d="M599.2,417.5 L599.2,474.4 A11.8,5.7 0 0 0 622.8,474.4 L622.8,417.5 Z" fill="url(#gw)"/>
<path d="M599.2,431.7 Q611.0,438.5 622.8,431.7" stroke="#cfd0d6" stroke-width="0.8" fill="none" opacity="0.35"/>
<path d="M599.2,445.9 Q611.0,452.7 622.8,445.9" stroke="#cfd0d6" stroke-width="0.8" fill="none" opacity="0.35"/>
<path d="M599.2,460.1 Q611.0,466.9 622.8,460.1" stroke="#cfd0d6" stroke-width="0.8" fill="none" opacity="0.35"/>
<ellipse cx="611.0" cy="417.5" rx="11.8" ry="5.7" fill="#dadbe0" stroke="#c4c5cc" stroke-width="0.7"/>
<path d="M623.1,424.3 L623.1,482.0 A11.9,5.8 0 0 0 646.9,482.0 L646.9,424.3 Z" fill="url(#gw)"/>
<path d="M623.1,438.7 Q635.0,445.6 646.9,438.7" stroke="#cfd0d6" stroke-width="0.8" fill="none" opacity="0.35"/>
<path d="M623.1,453.1 Q635.0,460.1 646.9,453.1" stroke="#cfd0d6" stroke-width="0.8" fill="none" opacity="0.35"/>
<path d="M623.1,467.6 Q635.0,474.5 646.9,467.6" stroke="#cfd0d6" stroke-width="0.8" fill="none" opacity="0.35"/>
<ellipse cx="635.0" cy="424.3" rx="11.9" ry="5.8" fill="#dadbe0" stroke="#c4c5cc" stroke-width="0.7"/>
<path d="M648.3,431.4 L648.3,490.1 A12.1,5.9 0 0 0 672.5,490.1 L672.5,431.4 Z" fill="url(#gy)"/>
<path d="M648.3,446.1 Q660.4,453.1 672.5,446.1" stroke="#d4b30c" stroke-width="0.8" fill="none" opacity="0.35"/>
<path d="M648.3,460.7 Q660.4,467.8 672.5,460.7" stroke="#d4b30c" stroke-width="0.8" fill="none" opacity="0.35"/>
<path d="M648.3,475.4 Q660.4,482.5 672.5,475.4" stroke="#d4b30c" stroke-width="0.8" fill="none" opacity="0.35"/>
<ellipse cx="660.4" cy="431.4" rx="12.1" ry="5.9" fill="#ecd54e" stroke="#c9a90a" stroke-width="0.7"/>
<path d="M674.6,438.8 L674.6,498.4 A12.2,6.0 0 0 0 699.0,498.4 L699.0,438.8 Z" fill="url(#gy)"/>
<path d="M674.6,453.7 Q686.8,460.9 699.0,453.7" stroke="#d4b30c" stroke-width="0.8" fill="none" opacity="0.35"/>
<path d="M674.6,468.6 Q686.8,475.8 699.0,468.6" stroke="#d4b30c" stroke-width="0.8" fill="none" opacity="0.35"/>
<path d="M674.6,483.5 Q686.8,490.7 699.0,483.5" stroke="#d4b30c" stroke-width="0.8" fill="none" opacity="0.35"/>
<ellipse cx="686.8" cy="438.8" rx="12.2" ry="6.0" fill="#ecd54e" stroke="#c9a90a" stroke-width="0.7"/>
<path d="M699.6,445.8 L699.6,506.4 A12.4,6.1 0 0 0 724.4,506.4 L724.4,445.8 Z" fill="url(#gy)"/>
<path d="M699.6,460.9 Q712.0,468.3 724.4,460.9" stroke="#d4b30c" stroke-width="0.8" fill="none" opacity="0.35"/>
<path d="M699.6,476.1 Q712.0,483.4 724.4,476.1" stroke="#d4b30c" stroke-width="0.8" fill="none" opacity="0.35"/>
<path d="M699.6,491.3 Q712.0,498.6 724.4,491.3" stroke="#d4b30c" stroke-width="0.8" fill="none" opacity="0.35"/>
<ellipse cx="712.0" cy="445.8" rx="12.4" ry="6.1" fill="#ecd54e" stroke="#c9a90a" stroke-width="0.7"/>
<path d="M724.9,452.7 L724.9,514.5 A12.5,6.2 0 0 0 749.9,514.5 L749.9,452.7 Z" fill="url(#gy)"/>
<path d="M724.9,468.2 Q737.4,475.7 749.9,468.2" stroke="#d4b30c" stroke-width="0.8" fill="none" opacity="0.35"/>
<path d="M724.9,483.6 Q737.4,491.1 749.9,483.6" stroke="#d4b30c" stroke-width="0.8" fill="none" opacity="0.35"/>
<path d="M724.9,499.1 Q737.4,506.6 749.9,499.1" stroke="#d4b30c" stroke-width="0.8" fill="none" opacity="0.35"/>
<ellipse cx="737.4" cy="452.7" rx="12.5" ry="6.2" fill="#ecd54e" stroke="#c9a90a" stroke-width="0.7"/>
<polygon points="112.0,325.3 762.0,539.0 760.0,551.3 102.0,332.1" fill="#b9854f" />
<polygon points="102.0,332.1 760.0,551.3 751.0,560.2 100.0,335.5" fill="#7f6f7d" />
<circle cx="537.2" cy="478.6" r="1.3" fill="#c8bfcc"/>
<circle cx="176.5" cy="361.3" r="0.7" fill="#6e616d"/>
<circle cx="500.4" cy="467.3" r="1.1" fill="#6e616d"/>
<circle cx="519.8" cy="474.7" r="1.2" fill="#6e616d"/>
<circle cx="735.7" cy="545.8" r="0.8" fill="#a08fa0"/>
<circle cx="216.6" cy="373.5" r="1.0" fill="#a08fa0"/>
<circle cx="548.4" cy="483.6" r="0.8" fill="#6e616d"/>
<circle cx="214.7" cy="373.2" r="1.2" fill="#a08fa0"/>
<circle cx="596.8" cy="501.7" r="1.1" fill="#c8bfcc"/>
<circle cx="324.7" cy="408.2" r="0.9" fill="#c8bfcc"/>
<circle cx="664.6" cy="528.5" r="1.0" fill="#c8bfcc"/>
<circle cx="150.9" cy="352.2" r="1.1" fill="#c8bfcc"/>
<circle cx="561.5" cy="490.7" r="0.7" fill="#b3a6b5"/>
<circle cx="731.4" cy="552.2" r="0.7" fill="#6e616d"/>
<circle cx="598.6" cy="501.2" r="1.1" fill="#6e616d"/>
<circle cx="732.9" cy="551.1" r="1.2" fill="#a08fa0"/>
<circle cx="736.8" cy="545.4" r="0.9" fill="#6e616d"/>
<circle cx="559.2" cy="488.0" r="1.2" fill="#a08fa0"/>
<circle cx="409.0" cy="438.2" r="0.8" fill="#c8bfcc"/>
<circle cx="675.2" cy="532.0" r="1.1" fill="#b3a6b5"/>
<circle cx="727.1" cy="543.1" r="1.0" fill="#c8bfcc"/>
<circle cx="712.9" cy="544.4" r="0.7" fill="#a08fa0"/>
<circle cx="181.1" cy="363.0" r="0.7" fill="#a08fa0"/>
<circle cx="357.2" cy="422.8" r="1.2" fill="#a08fa0"/>
<circle cx="600.9" cy="503.8" r="1.2" fill="#b3a6b5"/>
<circle cx="502.3" cy="473.3" r="0.9" fill="#b3a6b5"/>
<circle cx="270.4" cy="389.3" r="0.7" fill="#6e616d"/>
<circle cx="710.8" cy="540.0" r="1.0" fill="#b3a6b5"/>
<circle cx="702.1" cy="539.9" r="1.1" fill="#a08fa0"/>
<circle cx="193.3" cy="364.9" r="0.8" fill="#b3a6b5"/>
<circle cx="265.1" cy="390.3" r="1.0" fill="#b3a6b5"/>
<circle cx="690.2" cy="538.3" r="1.0" fill="#a08fa0"/>
<circle cx="488.7" cy="462.6" r="1.1" fill="#c8bfcc"/>
<circle cx="163.4" cy="356.6" r="0.8" fill="#6e616d"/>
<circle cx="753.9" cy="556.8" r="0.6" fill="#b3a6b5"/>
<circle cx="334.4" cy="410.3" r="0.7" fill="#c8bfcc"/>
<circle cx="199.8" cy="370.6" r="0.9" fill="#6e616d"/>
<circle cx="470.9" cy="457.5" r="1.3" fill="#6e616d"/>
<circle cx="572.9" cy="497.9" r="0.9" fill="#b3a6b5"/>
<circle cx="569.8" cy="493.4" r="0.9" fill="#b3a6b5"/>
<circle cx="573.5" cy="496.6" r="1.1" fill="#6e616d"/>
<circle cx="451.6" cy="456.8" r="0.9" fill="#a08fa0"/>
<circle cx="118.1" cy="338.2" r="0.9" fill="#6e616d"/>
<circle cx="544.5" cy="487.0" r="1.0" fill="#b3a6b5"/>
<circle cx="179.1" cy="363.7" r="1.2" fill="#c8bfcc"/>
<circle cx="389.3" cy="432.9" r="1.2" fill="#b3a6b5"/>
<circle cx="262.6" cy="390.5" r="1.2" fill="#b3a6b5"/>
<circle cx="552.8" cy="488.5" r="0.9" fill="#b3a6b5"/>
<circle cx="667.4" cy="523.2" r="0.8" fill="#a08fa0"/>
<circle cx="543.1" cy="488.0" r="0.9" fill="#c8bfcc"/>
<circle cx="311.0" cy="406.9" r="1.0" fill="#c8bfcc"/>
<circle cx="591.8" cy="500.9" r="0.9" fill="#b3a6b5"/>
<circle cx="359.8" cy="421.9" r="0.8" fill="#c8bfcc"/>
<circle cx="543.2" cy="483.0" r="0.9" fill="#6e616d"/>
<circle cx="211.4" cy="371.9" r="1.0" fill="#a08fa0"/>
<circle cx="388.4" cy="430.9" r="0.6" fill="#c8bfcc"/>
<circle cx="143.0" cy="348.3" r="0.7" fill="#c8bfcc"/>
<circle cx="452.7" cy="451.1" r="0.8" fill="#b3a6b5"/>
<circle cx="742.6" cy="549.4" r="1.2" fill="#6e616d"/>
<circle cx="659.2" cy="524.8" r="1.1" fill="#6e616d"/>
<circle cx="456.5" cy="451.5" r="1.0" fill="#6e616d"/>
<circle cx="208.2" cy="371.8" r="1.0" fill="#a08fa0"/>
<circle cx="632.0" cy="517.9" r="0.7" fill="#b3a6b5"/>
<circle cx="259.4" cy="389.8" r="0.7" fill="#a08fa0"/>
<circle cx="747.1" cy="555.0" r="0.9" fill="#a08fa0"/>
<circle cx="520.3" cy="473.4" r="1.3" fill="#6e616d"/>
<circle cx="647.1" cy="516.4" r="0.9" fill="#6e616d"/>
<circle cx="545.4" cy="484.9" r="1.0" fill="#b3a6b5"/>
<circle cx="413.0" cy="439.2" r="0.6" fill="#c8bfcc"/>
<circle cx="148.8" cy="349.3" r="1.2" fill="#b3a6b5"/>
<circle cx="654.4" cy="524.9" r="0.7" fill="#6e616d"/>
<circle cx="363.3" cy="420.5" r="0.7" fill="#a08fa0"/>
<circle cx="640.5" cy="515.5" r="0.9" fill="#a08fa0"/>
<circle cx="639.8" cy="518.6" r="0.9" fill="#6e616d"/>
<circle cx="392.5" cy="430.5" r="0.7" fill="#c8bfcc"/>
<circle cx="335.1" cy="414.2" r="0.9" fill="#b3a6b5"/>
<circle cx="703.8" cy="536.5" r="1.1" fill="#a08fa0"/>
<circle cx="283.7" cy="398.2" r="0.8" fill="#a08fa0"/>
<circle cx="325.4" cy="410.3" r="0.9" fill="#6e616d"/>
<circle cx="163.9" cy="355.2" r="0.6" fill="#a08fa0"/>
<circle cx="278.8" cy="393.1" r="0.8" fill="#b3a6b5"/>
<circle cx="399.1" cy="437.6" r="0.8" fill="#6e616d"/>
<circle cx="457.9" cy="458.2" r="0.8" fill="#b3a6b5"/>
<circle cx="203.9" cy="366.9" r="0.7" fill="#6e616d"/>
<circle cx="523.5" cy="475.0" r="1.1" fill="#c8bfcc"/>
<circle cx="129.0" cy="345.1" r="1.0" fill="#a08fa0"/>
<circle cx="529.2" cy="475.8" r="0.8" fill="#b3a6b5"/>
<circle cx="564.3" cy="492.5" r="0.9" fill="#c8bfcc"/>
<circle cx="662.9" cy="526.4" r="0.9" fill="#a08fa0"/>
<circle cx="223.5" cy="375.0" r="0.7" fill="#6e616d"/>
<circle cx="402.3" cy="436.7" r="1.2" fill="#a08fa0"/>
<circle cx="676.1" cy="528.6" r="1.2" fill="#6e616d"/>
<circle cx="728.4" cy="547.2" r="0.9" fill="#c8bfcc"/>
<circle cx="713.5" cy="542.5" r="0.8" fill="#a08fa0"/>
<circle cx="721.3" cy="543.0" r="0.7" fill="#6e616d"/>
<circle cx="412.9" cy="441.5" r="0.8" fill="#6e616d"/>
<circle cx="136.0" cy="349.0" r="0.7" fill="#b3a6b5"/>
<circle cx="331.0" cy="414.3" r="1.0" fill="#a08fa0"/>
<circle cx="297.8" cy="400.8" r="1.2" fill="#6e616d"/>
<circle cx="212.1" cy="373.9" r="1.2" fill="#a08fa0"/>
<circle cx="111.5" cy="339.1" r="1.3" fill="#c8bfcc"/>
<circle cx="288.0" cy="399.3" r="0.9" fill="#c8bfcc"/>
<circle cx="710.1" cy="539.5" r="1.0" fill="#c8bfcc"/>
<circle cx="560.7" cy="487.3" r="0.7" fill="#c8bfcc"/>
<circle cx="451.3" cy="451.9" r="0.7" fill="#b3a6b5"/>
<circle cx="463.5" cy="454.4" r="1.1" fill="#a08fa0"/>
<circle cx="590.1" cy="503.4" r="1.2" fill="#6e616d"/>
<circle cx="469.4" cy="457.3" r="0.8" fill="#6e616d"/>
<circle cx="337.9" cy="411.5" r="1.1" fill="#b3a6b5"/>
<circle cx="362.0" cy="425.1" r="1.0" fill="#6e616d"/>
<circle cx="128.7" cy="345.8" r="0.9" fill="#6e616d"/>
<circle cx="385.8" cy="433.2" r="1.3" fill="#a08fa0"/>
<circle cx="103.0" cy="334.1" r="0.8" fill="#a08fa0"/>
<circle cx="625.5" cy="511.9" r="0.9" fill="#b3a6b5"/>
<circle cx="607.1" cy="503.4" r="0.6" fill="#c8bfcc"/>
<circle cx="102.4" cy="333.2" r="0.6" fill="#6e616d"/>
<circle cx="737.2" cy="550.2" r="1.2" fill="#6e616d"/>
<circle cx="281.0" cy="395.0" r="0.6" fill="#c8bfcc"/>
<circle cx="153.1" cy="352.2" r="0.8" fill="#b3a6b5"/>
<circle cx="107.0" cy="338.4" r="1.1" fill="#b3a6b5"/>
<circle cx="188.4" cy="366.6" r="0.8" fill="#a08fa0"/>
<circle cx="554.3" cy="486.5" r="0.8" fill="#a08fa0"/>
<circle cx="409.5" cy="439.7" r="1.3" fill="#6e616d"/>
<circle cx="203.7" cy="370.6" r="1.1" fill="#b3a6b5"/>
<circle cx="240.5" cy="382.8" r="1.1" fill="#b3a6b5"/>
<circle cx="221.5" cy="372.9" r="1.1" fill="#a08fa0"/>
<circle cx="182.9" cy="360.4" r="0.9" fill="#6e616d"/>
<circle cx="538.3" cy="481.5" r="1.2" fill="#c8bfcc"/>
<circle cx="526.4" cy="482.2" r="1.3" fill="#a08fa0"/>
<circle cx="406.2" cy="440.9" r="1.2" fill="#a08fa0"/>
<circle cx="599.3" cy="500.1" r="1.3" fill="#b3a6b5"/>
<circle cx="508.8" cy="469.4" r="1.2" fill="#b3a6b5"/>
<circle cx="352.8" cy="421.9" r="1.3" fill="#c8bfcc"/>
<circle cx="677.6" cy="532.4" r="0.6" fill="#b3a6b5"/>
<circle cx="117.2" cy="337.9" r="1.2" fill="#a08fa0"/>
<circle cx="660.6" cy="523.1" r="1.2" fill="#b3a6b5"/>
<circle cx="659.9" cy="523.6" r="1.0" fill="#c8bfcc"/>
<circle cx="427.9" cy="443.8" r="1.1" fill="#b3a6b5"/>
<circle cx="485.5" cy="462.1" r="0.7" fill="#b3a6b5"/>
<circle cx="659.6" cy="520.5" r="1.2" fill="#a08fa0"/>
<circle cx="601.6" cy="502.1" r="0.8" fill="#6e616d"/>
<circle cx="382.1" cy="431.4" r="1.0" fill="#c8bfcc"/>
<circle cx="321.8" cy="409.8" r="0.8" fill="#b3a6b5"/>
<circle cx="624.7" cy="509.2" r="0.9" fill="#a08fa0"/>
<circle cx="398.0" cy="432.8" r="1.0" fill="#a08fa0"/>
<circle cx="184.0" cy="364.0" r="1.2" fill="#b3a6b5"/>
<circle cx="754.0" cy="551.0" r="0.7" fill="#c8bfcc"/>
<circle cx="640.0" cy="512.4" r="0.8" fill="#b3a6b5"/>
<circle cx="139.3" cy="346.7" r="0.9" fill="#c8bfcc"/>
<circle cx="455.2" cy="457.3" r="1.2" fill="#b3a6b5"/>
<circle cx="744.6" cy="554.2" r="0.7" fill="#a08fa0"/>
<circle cx="386.1" cy="431.5" r="0.8" fill="#b3a6b5"/>
<circle cx="217.9" cy="371.6" r="0.6" fill="#6e616d"/>
<circle cx="206.1" cy="370.9" r="0.8" fill="#6e616d"/>
<circle cx="633.2" cy="517.4" r="0.8" fill="#b3a6b5"/>
<circle cx="219.8" cy="374.8" r="1.1" fill="#c8bfcc"/>
<circle cx="439.1" cy="452.1" r="0.8" fill="#c8bfcc"/>
<circle cx="152.9" cy="354.3" r="0.9" fill="#6e616d"/>
<circle cx="621.4" cy="512.8" r="0.6" fill="#a08fa0"/>
<circle cx="700.4" cy="535.4" r="0.8" fill="#a08fa0"/>
<circle cx="377.2" cy="427.9" r="0.8" fill="#a08fa0"/>
<circle cx="628.8" cy="508.7" r="1.2" fill="#a08fa0"/>
<circle cx="471.3" cy="461.1" r="0.8" fill="#6e616d"/>
<circle cx="191.7" cy="367.7" r="0.8" fill="#b3a6b5"/>
<circle cx="679.3" cy="532.1" r="1.1" fill="#c8bfcc"/>
<circle cx="347.3" cy="419.2" r="0.9" fill="#c8bfcc"/>
<circle cx="501.8" cy="469.5" r="0.9" fill="#a08fa0"/>
<circle cx="167.7" cy="359.4" r="0.7" fill="#c8bfcc"/>
<circle cx="606.1" cy="506.6" r="1.2" fill="#6e616d"/>
<circle cx="449.6" cy="450.4" r="0.7" fill="#c8bfcc"/>
<circle cx="161.0" cy="356.7" r="1.0" fill="#c8bfcc"/>
<circle cx="431.1" cy="447.4" r="0.9" fill="#6e616d"/>
<circle cx="198.2" cy="369.6" r="0.8" fill="#c8bfcc"/>
<circle cx="310.0" cy="403.8" r="1.1" fill="#b3a6b5"/>
<circle cx="703.1" cy="535.9" r="1.2" fill="#b3a6b5"/>
<circle cx="311.3" cy="404.4" r="1.1" fill="#a08fa0"/>
<circle cx="256.1" cy="385.3" r="0.8" fill="#a08fa0"/>
<circle cx="174.5" cy="361.4" r="0.9" fill="#c8bfcc"/>
<circle cx="149.9" cy="352.5" r="0.9" fill="#c8bfcc"/>
<circle cx="413.0" cy="441.0" r="1.1" fill="#6e616d"/>
<circle cx="488.4" cy="464.5" r="0.8" fill="#a08fa0"/>
<circle cx="195.8" cy="364.3" r="0.7" fill="#a08fa0"/>
<circle cx="682.0" cy="526.5" r="1.2" fill="#a08fa0"/>
<circle cx="312.9" cy="405.3" r="0.8" fill="#6e616d"/>
<circle cx="609.4" cy="502.9" r="0.8" fill="#a08fa0"/>
<circle cx="380.3" cy="431.6" r="0.7" fill="#6e616d"/>
<circle cx="126.9" cy="343.8" r="1.2" fill="#a08fa0"/>
<circle cx="299.5" cy="401.4" r="1.1" fill="#a08fa0"/>
<circle cx="498.6" cy="471.6" r="1.3" fill="#c8bfcc"/>
<circle cx="665.0" cy="526.1" r="0.8" fill="#c8bfcc"/>
<circle cx="511.0" cy="473.8" r="0.8" fill="#c8bfcc"/>
<circle cx="587.3" cy="496.6" r="0.6" fill="#a08fa0"/>
<circle cx="658.0" cy="523.9" r="1.1" fill="#a08fa0"/>
<circle cx="714.6" cy="542.9" r="0.9" fill="#b3a6b5"/>
<circle cx="410.9" cy="438.3" r="0.7" fill="#a08fa0"/>
<circle cx="248.9" cy="386.3" r="0.8" fill="#6e616d"/>
<circle cx="354.5" cy="423.4" r="1.1" fill="#c8bfcc"/>
<circle cx="457.9" cy="451.8" r="1.0" fill="#6e616d"/>
<circle cx="153.6" cy="351.7" r="1.3" fill="#6e616d"/>
<circle cx="680.9" cy="529.5" r="1.2" fill="#b3a6b5"/>
<circle cx="490.4" cy="464.4" r="0.7" fill="#6e616d"/>
<circle cx="399.0" cy="437.5" r="0.7" fill="#b3a6b5"/>
<circle cx="608.5" cy="504.5" r="1.2" fill="#6e616d"/>
<circle cx="678.5" cy="532.3" r="0.8" fill="#b3a6b5"/>
<circle cx="579.7" cy="498.5" r="0.7" fill="#6e616d"/>
<circle cx="410.5" cy="438.7" r="1.1" fill="#c8bfcc"/>
<circle cx="363.8" cy="426.1" r="0.7" fill="#b3a6b5"/>
<circle cx="552.5" cy="486.8" r="0.7" fill="#c8bfcc"/>
<circle cx="333.9" cy="410.8" r="0.7" fill="#c8bfcc"/>
<circle cx="310.3" cy="402.6" r="1.1" fill="#a08fa0"/>
<circle cx="208.2" cy="368.2" r="0.8" fill="#b3a6b5"/>
<circle cx="478.5" cy="464.7" r="1.2" fill="#a08fa0"/>
<circle cx="503.7" cy="470.5" r="1.3" fill="#c8bfcc"/>
<circle cx="300.8" cy="404.4" r="1.2" fill="#6e616d"/>
<circle cx="692.9" cy="534.1" r="1.0" fill="#6e616d"/>
<circle cx="406.9" cy="436.4" r="1.1" fill="#c8bfcc"/>
<circle cx="296.1" cy="399.2" r="1.3" fill="#6e616d"/>
<circle cx="212.6" cy="371.6" r="1.0" fill="#b3a6b5"/>
<circle cx="542.3" cy="481.0" r="0.7" fill="#c8bfcc"/>
<circle cx="141.6" cy="346.0" r="1.0" fill="#6e616d"/>
<circle cx="697.1" cy="539.2" r="1.3" fill="#b3a6b5"/>
<circle cx="302.8" cy="404.7" r="0.7" fill="#6e616d"/>
<circle cx="370.3" cy="425.6" r="1.1" fill="#a08fa0"/>
<circle cx="532.3" cy="479.7" r="1.0" fill="#b3a6b5"/>
<circle cx="151.7" cy="350.7" r="1.2" fill="#6e616d"/>
<circle cx="735.0" cy="547.3" r="0.6" fill="#a08fa0"/>
<circle cx="459.3" cy="452.8" r="0.9" fill="#b3a6b5"/>
<circle cx="650.8" cy="521.8" r="1.3" fill="#a08fa0"/>
<circle cx="293.3" cy="397.4" r="1.2" fill="#6e616d"/>
<circle cx="178.4" cy="360.0" r="0.8" fill="#6e616d"/>
<circle cx="371.3" cy="425.5" r="1.2" fill="#6e616d"/>
<circle cx="142.4" cy="347.9" r="1.2" fill="#6e616d"/>
<circle cx="123.0" cy="343.9" r="0.7" fill="#c8bfcc"/>
<circle cx="106.5" cy="336.4" r="1.0" fill="#c8bfcc"/>
<circle cx="118.7" cy="343.0" r="1.1" fill="#6e616d"/>
<circle cx="388.9" cy="430.2" r="1.2" fill="#b3a6b5"/>
<circle cx="623.1" cy="508.2" r="0.8" fill="#a08fa0"/>
<circle cx="523.5" cy="476.4" r="1.0" fill="#a08fa0"/>
<circle cx="380.9" cy="427.1" r="1.1" fill="#a08fa0"/>
<circle cx="720.9" cy="548.3" r="1.1" fill="#6e616d"/>
<circle cx="380.2" cy="426.1" r="0.8" fill="#6e616d"/>
<circle cx="245.7" cy="384.3" r="0.7" fill="#a08fa0"/>
<circle cx="113.3" cy="336.5" r="1.1" fill="#6e616d"/>
<circle cx="676.8" cy="533.1" r="0.7" fill="#a08fa0"/>
<circle cx="190.7" cy="366.6" r="0.8" fill="#a08fa0"/>
<circle cx="451.2" cy="454.7" r="0.7" fill="#b3a6b5"/>
<circle cx="219.4" cy="373.8" r="1.0" fill="#b3a6b5"/>
<circle cx="239.8" cy="379.4" r="1.1" fill="#c8bfcc"/>
<circle cx="385.9" cy="434.4" r="0.7" fill="#c8bfcc"/>
<circle cx="115.7" cy="338.0" r="0.9" fill="#a08fa0"/>
<circle cx="300.9" cy="404.0" r="1.0" fill="#a08fa0"/>
<circle cx="325.0" cy="411.9" r="1.2" fill="#c8bfcc"/>
<circle cx="298.0" cy="398.6" r="1.2" fill="#a08fa0"/>
<circle cx="589.4" cy="502.0" r="1.2" fill="#a08fa0"/>
<circle cx="673.4" cy="524.0" r="0.7" fill="#6e616d"/>
<circle cx="164.3" cy="354.7" r="0.8" fill="#a08fa0"/>
<circle cx="250.7" cy="387.3" r="1.0" fill="#6e616d"/>
<circle cx="535.9" cy="477.7" r="1.0" fill="#b3a6b5"/>
<circle cx="609.8" cy="505.3" r="1.1" fill="#c8bfcc"/>
<circle cx="385.5" cy="433.1" r="1.0" fill="#b3a6b5"/>
<circle cx="429.6" cy="447.2" r="1.3" fill="#6e616d"/>
<circle cx="712.0" cy="541.1" r="1.2" fill="#b3a6b5"/>
<circle cx="321.7" cy="409.6" r="0.6" fill="#6e616d"/>
<circle cx="654.1" cy="524.0" r="0.9" fill="#b3a6b5"/>
<circle cx="260.8" cy="388.7" r="1.0" fill="#c8bfcc"/>
<circle cx="130.8" cy="343.4" r="1.3" fill="#b3a6b5"/>
<circle cx="355.3" cy="418.3" r="1.3" fill="#c8bfcc"/>
<circle cx="380.5" cy="431.7" r="0.7" fill="#a08fa0"/>
<circle cx="123.2" cy="339.9" r="1.2" fill="#6e616d"/>
<circle cx="349.6" cy="420.8" r="0.8" fill="#a08fa0"/>
<circle cx="304.0" cy="404.2" r="1.2" fill="#b3a6b5"/>
<circle cx="369.2" cy="426.3" r="1.1" fill="#b3a6b5"/>
<circle cx="683.6" cy="530.3" r="1.2" fill="#6e616d"/>
<circle cx="653.4" cy="520.4" r="0.6" fill="#6e616d"/>
<circle cx="146.8" cy="349.7" r="0.9" fill="#b3a6b5"/>
<circle cx="610.0" cy="505.2" r="1.1" fill="#6e616d"/>
<circle cx="483.7" cy="464.9" r="0.9" fill="#c8bfcc"/>
<circle cx="643.2" cy="514.9" r="1.0" fill="#6e616d"/>
<circle cx="231.2" cy="377.2" r="1.0" fill="#6e616d"/>
<circle cx="426.5" cy="444.7" r="0.8" fill="#6e616d"/>
<circle cx="517.4" cy="474.5" r="1.1" fill="#c8bfcc"/>
<circle cx="541.4" cy="482.1" r="1.1" fill="#6e616d"/>
<circle cx="209.0" cy="373.0" r="1.2" fill="#c8bfcc"/>
<circle cx="607.8" cy="509.6" r="1.2" fill="#c8bfcc"/>
<circle cx="569.9" cy="489.9" r="1.2" fill="#a08fa0"/>
<circle cx="539.0" cy="481.9" r="0.7" fill="#6e616d"/>
<circle cx="695.6" cy="531.6" r="1.0" fill="#a08fa0"/>
<circle cx="178.3" cy="359.5" r="1.3" fill="#b3a6b5"/>
<circle cx="554.4" cy="488.9" r="0.8" fill="#6e616d"/>
<circle cx="227.2" cy="378.7" r="0.6" fill="#6e616d"/>
<circle cx="197.4" cy="366.3" r="1.1" fill="#b3a6b5"/>
<circle cx="753.2" cy="553.2" r="1.0" fill="#a08fa0"/>
<circle cx="722.6" cy="549.2" r="1.3" fill="#b3a6b5"/>
<circle cx="646.3" cy="522.8" r="0.6" fill="#a08fa0"/>
<circle cx="126.8" cy="345.5" r="1.3" fill="#c8bfcc"/>
<circle cx="238.3" cy="379.8" r="1.0" fill="#b3a6b5"/>
<circle cx="168.5" cy="357.7" r="1.2" fill="#a08fa0"/>
<circle cx="414.3" cy="439.7" r="1.1" fill="#6e616d"/>
<circle cx="699.4" cy="537.2" r="1.0" fill="#a08fa0"/>
<circle cx="296.7" cy="398.7" r="1.1" fill="#6e616d"/>
<circle cx="400.4" cy="438.0" r="1.1" fill="#6e616d"/>
<circle cx="596.2" cy="498.2" r="0.7" fill="#b3a6b5"/>
<circle cx="433.1" cy="448.5" r="1.1" fill="#c8bfcc"/>
<circle cx="353.7" cy="423.2" r="1.2" fill="#b3a6b5"/>
<circle cx="748.0" cy="556.1" r="1.2" fill="#c8bfcc"/>
<circle cx="365.4" cy="423.1" r="0.8" fill="#c8bfcc"/>
<circle cx="615.1" cy="507.1" r="0.6" fill="#b3a6b5"/>
<circle cx="365.4" cy="422.1" r="1.2" fill="#a08fa0"/>
<circle cx="622.6" cy="509.2" r="0.8" fill="#b3a6b5"/>
<circle cx="539.9" cy="485.8" r="1.3" fill="#6e616d"/>
<circle cx="468.1" cy="458.9" r="0.8" fill="#6e616d"/>
<circle cx="252.7" cy="387.0" r="0.8" fill="#6e616d"/>
<circle cx="625.5" cy="509.2" r="0.7" fill="#a08fa0"/>
<circle cx="154.6" cy="353.3" r="1.1" fill="#6e616d"/>
<circle cx="366.8" cy="426.0" r="0.7" fill="#6e616d"/>
<circle cx="493.8" cy="467.5" r="0.6" fill="#b3a6b5"/>
<circle cx="241.4" cy="382.5" r="0.8" fill="#a08fa0"/>
<circle cx="501.0" cy="468.5" r="0.6" fill="#a08fa0"/>
<circle cx="606.2" cy="508.8" r="1.0" fill="#a08fa0"/>
<circle cx="743.3" cy="548.3" r="0.7" fill="#b3a6b5"/>
<circle cx="360.0" cy="425.3" r="1.1" fill="#c8bfcc"/>
<circle cx="174.1" cy="361.4" r="1.1" fill="#b3a6b5"/>
<circle cx="252.2" cy="384.9" r="0.8" fill="#b3a6b5"/>
<circle cx="623.7" cy="509.8" r="1.0" fill="#6e616d"/>
<circle cx="726.2" cy="545.7" r="1.0" fill="#a08fa0"/>
<circle cx="265.4" cy="393.0" r="1.0" fill="#a08fa0"/>
<circle cx="704.6" cy="539.2" r="1.2" fill="#a08fa0"/>
<circle cx="488.9" cy="469.3" r="0.7" fill="#6e616d"/>
<circle cx="672.8" cy="531.1" r="0.7" fill="#c8bfcc"/>
<circle cx="378.3" cy="427.9" r="1.1" fill="#c8bfcc"/>
<circle cx="712.4" cy="541.4" r="0.8" fill="#a08fa0"/>
<circle cx="440.1" cy="450.9" r="1.1" fill="#a08fa0"/>
<circle cx="614.9" cy="510.7" r="1.2" fill="#a08fa0"/>
<circle cx="503.4" cy="468.6" r="0.8" fill="#b3a6b5"/>
<circle cx="617.9" cy="505.7" r="1.2" fill="#6e616d"/>
<circle cx="358.0" cy="422.5" r="1.3" fill="#a08fa0"/>
<circle cx="491.3" cy="464.0" r="1.2" fill="#6e616d"/>
<circle cx="577.3" cy="499.0" r="1.2" fill="#c8bfcc"/>
<circle cx="525.9" cy="479.6" r="0.8" fill="#a08fa0"/>
<circle cx="719.2" cy="542.4" r="0.7" fill="#a08fa0"/>
<circle cx="638.7" cy="513.0" r="0.9" fill="#6e616d"/>
<circle cx="641.9" cy="516.3" r="0.6" fill="#a08fa0"/>
<circle cx="534.0" cy="478.3" r="0.6" fill="#a08fa0"/>
<circle cx="312.3" cy="408.2" r="1.1" fill="#6e616d"/>
<circle cx="317.4" cy="406.9" r="0.9" fill="#a08fa0"/>
<circle cx="526.7" cy="474.6" r="1.0" fill="#b3a6b5"/>
<circle cx="509.4" cy="469.1" r="0.7" fill="#b3a6b5"/>
<circle cx="159.7" cy="353.5" r="0.7" fill="#c8bfcc"/>
<circle cx="671.0" cy="527.3" r="0.8" fill="#b3a6b5"/>
<circle cx="254.3" cy="386.2" r="1.3" fill="#a08fa0"/>
<circle cx="687.0" cy="532.2" r="0.8" fill="#b3a6b5"/>
<circle cx="174.0" cy="358.4" r="1.0" fill="#b3a6b5"/>
<circle cx="726.9" cy="550.2" r="1.3" fill="#b3a6b5"/>
<circle cx="747.6" cy="552.8" r="1.3" fill="#c8bfcc"/>
<circle cx="119.6" cy="342.1" r="0.8" fill="#b3a6b5"/>
<circle cx="602.9" cy="507.4" r="0.8" fill="#b3a6b5"/>
<circle cx="174.4" cy="361.4" r="0.7" fill="#b3a6b5"/>
<circle cx="534.8" cy="477.4" r="0.8" fill="#b3a6b5"/>
<circle cx="419.0" cy="443.6" r="0.8" fill="#6e616d"/>
<circle cx="446.6" cy="454.6" r="0.9" fill="#a08fa0"/>
<circle cx="677.2" cy="526.4" r="0.7" fill="#6e616d"/>
<circle cx="673.7" cy="527.5" r="1.3" fill="#6e616d"/>
<circle cx="319.3" cy="409.6" r="1.2" fill="#b3a6b5"/>
<circle cx="747.7" cy="556.0" r="1.0" fill="#6e616d"/>
<circle cx="538.1" cy="481.9" r="1.2" fill="#b3a6b5"/>
<circle cx="191.8" cy="362.9" r="1.0" fill="#a08fa0"/>
<circle cx="692.0" cy="530.8" r="1.0" fill="#b3a6b5"/>
<circle cx="652.0" cy="524.5" r="0.9" fill="#6e616d"/>
<circle cx="700.4" cy="536.5" r="0.9" fill="#c8bfcc"/>
<circle cx="497.8" cy="470.7" r="0.9" fill="#b3a6b5"/>
<circle cx="578.7" cy="495.9" r="0.7" fill="#6e616d"/>
<circle cx="308.0" cy="405.6" r="0.9" fill="#6e616d"/>
<circle cx="486.4" cy="463.6" r="0.7" fill="#6e616d"/>
<circle cx="171.1" cy="359.6" r="1.2" fill="#c8bfcc"/>
<circle cx="190.7" cy="365.2" r="0.8" fill="#b3a6b5"/>
<circle cx="537.9" cy="480.8" r="1.2" fill="#a08fa0"/>
<circle cx="119.0" cy="339.4" r="0.9" fill="#b3a6b5"/>
<circle cx="462.8" cy="457.3" r="1.1" fill="#a08fa0"/>
<circle cx="172.4" cy="358.7" r="0.7" fill="#b3a6b5"/>
<circle cx="561.2" cy="491.6" r="1.0" fill="#b3a6b5"/>
<circle cx="354.7" cy="422.9" r="0.7" fill="#6e616d"/>
<circle cx="262.3" cy="388.3" r="0.9" fill="#a08fa0"/>
<circle cx="208.6" cy="373.4" r="0.7" fill="#6e616d"/>
<circle cx="119.4" cy="338.7" r="1.0" fill="#a08fa0"/>
<circle cx="679.4" cy="531.6" r="1.3" fill="#b3a6b5"/>
<circle cx="180.0" cy="359.5" r="1.3" fill="#c8bfcc"/>
<circle cx="600.9" cy="506.8" r="0.9" fill="#a08fa0"/>
<circle cx="264.3" cy="391.8" r="1.2" fill="#a08fa0"/>
<circle cx="173.1" cy="359.5" r="1.1" fill="#6e616d"/>
<circle cx="330.0" cy="414.3" r="1.1" fill="#a08fa0"/>
<circle cx="233.2" cy="379.9" r="0.8" fill="#b3a6b5"/>
<circle cx="693.0" cy="532.6" r="0.7" fill="#c8bfcc"/>
<circle cx="416.6" cy="441.6" r="1.1" fill="#c8bfcc"/>
<circle cx="618.8" cy="509.1" r="0.9" fill="#a08fa0"/>
<circle cx="348.3" cy="421.2" r="0.9" fill="#6e616d"/>
<circle cx="717.6" cy="547.3" r="0.8" fill="#6e616d"/>
<circle cx="563.9" cy="487.9" r="0.9" fill="#a08fa0"/>
<circle cx="156.3" cy="351.5" r="0.7" fill="#6e616d"/>
<circle cx="626.9" cy="511.7" r="0.8" fill="#b3a6b5"/>
<circle cx="304.2" cy="403.5" r="0.8" fill="#b3a6b5"/>
<circle cx="539.4" cy="486.8" r="0.8" fill="#c8bfcc"/>
<circle cx="123.2" cy="341.4" r="0.8" fill="#6e616d"/>
<circle cx="319.6" cy="407.5" r="0.7" fill="#c8bfcc"/>
<circle cx="709.3" cy="544.3" r="1.1" fill="#c8bfcc"/>
<circle cx="390.1" cy="433.5" r="1.1" fill="#6e616d"/>
<circle cx="622.3" cy="511.8" r="1.1" fill="#a08fa0"/>
<circle cx="600.6" cy="501.6" r="1.3" fill="#6e616d"/>
<circle cx="315.5" cy="408.0" r="1.2" fill="#6e616d"/>
<circle cx="734.1" cy="544.3" r="1.3" fill="#b3a6b5"/>
<circle cx="674.9" cy="525.8" r="1.1" fill="#6e616d"/>
<circle cx="310.4" cy="402.4" r="1.2" fill="#b3a6b5"/>
<circle cx="528.0" cy="478.6" r="0.8" fill="#c8bfcc"/>
<circle cx="522.7" cy="476.2" r="0.7" fill="#6e616d"/>
<circle cx="453.8" cy="457.5" r="1.3" fill="#b3a6b5"/>
<circle cx="134.0" cy="347.9" r="1.1" fill="#c8bfcc"/>
<circle cx="214.6" cy="370.9" r="1.1" fill="#b3a6b5"/>
<circle cx="211.3" cy="372.2" r="0.8" fill="#6e616d"/>
<circle cx="711.8" cy="541.0" r="1.1" fill="#a08fa0"/>
<circle cx="409.7" cy="436.9" r="0.9" fill="#b3a6b5"/>
<circle cx="273.4" cy="395.5" r="0.7" fill="#a08fa0"/>
<circle cx="649.3" cy="523.1" r="0.8" fill="#a08fa0"/>
<circle cx="361.5" cy="421.5" r="0.9" fill="#6e616d"/>
<circle cx="381.7" cy="430.7" r="0.7" fill="#a08fa0"/>
<circle cx="129.5" cy="346.6" r="1.2" fill="#6e616d"/>
<circle cx="377.1" cy="424.8" r="1.3" fill="#6e616d"/>
<circle cx="300.0" cy="400.2" r="0.9" fill="#6e616d"/>
<circle cx="278.6" cy="392.5" r="1.2" fill="#b3a6b5"/>
<circle cx="569.9" cy="492.3" r="0.9" fill="#6e616d"/>
<circle cx="601.5" cy="505.4" r="1.2" fill="#c8bfcc"/>
<circle cx="260.7" cy="391.6" r="0.8" fill="#a08fa0"/>
<circle cx="546.9" cy="483.8" r="0.8" fill="#c8bfcc"/>
<circle cx="567.5" cy="489.4" r="1.2" fill="#a08fa0"/>
<circle cx="667.3" cy="525.0" r="1.0" fill="#b3a6b5"/>
<circle cx="550.1" cy="487.6" r="1.0" fill="#b3a6b5"/>
<circle cx="470.0" cy="456.8" r="0.9" fill="#a08fa0"/>
<circle cx="365.2" cy="425.2" r="0.6" fill="#6e616d"/>
<circle cx="332.5" cy="412.7" r="0.9" fill="#6e616d"/>
<circle cx="265.8" cy="387.8" r="1.0" fill="#6e616d"/>
<circle cx="644.8" cy="517.2" r="0.9" fill="#c8bfcc"/>
<circle cx="295.9" cy="397.9" r="1.2" fill="#c8bfcc"/>
<circle cx="370.5" cy="423.8" r="1.1" fill="#6e616d"/>
<circle cx="709.2" cy="542.3" r="1.2" fill="#6e616d"/>
<circle cx="594.9" cy="500.1" r="0.9" fill="#a08fa0"/>
<circle cx="375.8" cy="425.5" r="1.2" fill="#b3a6b5"/>
<circle cx="293.5" cy="399.8" r="1.2" fill="#a08fa0"/>
<circle cx="123.7" cy="342.8" r="0.9" fill="#c8bfcc"/>
<circle cx="660.9" cy="523.1" r="0.8" fill="#b3a6b5"/>
<circle cx="431.4" cy="444.0" r="0.9" fill="#a08fa0"/>
<circle cx="640.6" cy="518.6" r="1.0" fill="#a08fa0"/>
<circle cx="208.7" cy="372.8" r="0.8" fill="#b3a6b5"/>
<circle cx="477.7" cy="460.8" r="1.0" fill="#c8bfcc"/>
<circle cx="217.4" cy="372.6" r="0.9" fill="#b3a6b5"/>
<circle cx="509.8" cy="471.1" r="1.3" fill="#b3a6b5"/>
<circle cx="474.5" cy="463.8" r="1.3" fill="#a08fa0"/>
<circle cx="310.8" cy="402.6" r="1.1" fill="#b3a6b5"/>
<circle cx="230.0" cy="376.7" r="0.7" fill="#c8bfcc"/>
<circle cx="164.6" cy="353.7" r="1.0" fill="#6e616d"/>
<circle cx="329.2" cy="411.2" r="0.8" fill="#6e616d"/>
<circle cx="568.5" cy="494.1" r="0.7" fill="#6e616d"/>
<circle cx="195.0" cy="368.0" r="1.0" fill="#6e616d"/>
<circle cx="730.5" cy="549.3" r="1.0" fill="#c8bfcc"/>
<circle cx="107.6" cy="335.0" r="0.9" fill="#a08fa0"/>
<circle cx="732.6" cy="545.8" r="1.2" fill="#a08fa0"/>
<circle cx="345.8" cy="415.7" r="0.8" fill="#6e616d"/>
<circle cx="144.3" cy="349.9" r="0.8" fill="#b3a6b5"/>
<circle cx="565.6" cy="492.2" r="1.2" fill="#c8bfcc"/>
<circle cx="290.9" cy="399.5" r="0.7" fill="#c8bfcc"/>
<circle cx="336.7" cy="414.9" r="1.0" fill="#c8bfcc"/>
<circle cx="106.7" cy="337.1" r="0.9" fill="#6e616d"/>
<circle cx="582.1" cy="495.8" r="1.0" fill="#c8bfcc"/>
<circle cx="316.2" cy="405.1" r="0.6" fill="#b3a6b5"/>
<circle cx="458.9" cy="456.3" r="0.9" fill="#c8bfcc"/>
<circle cx="295.8" cy="401.9" r="1.1" fill="#6e616d"/>
<circle cx="512.7" cy="474.6" r="0.7" fill="#b3a6b5"/>
<circle cx="542.9" cy="483.2" r="0.6" fill="#c8bfcc"/>
<circle cx="722.3" cy="540.3" r="0.7" fill="#a08fa0"/>
<circle cx="552.5" cy="491.0" r="1.2" fill="#a08fa0"/>
<circle cx="220.1" cy="376.7" r="1.0" fill="#b3a6b5"/>
<circle cx="218.4" cy="373.2" r="1.1" fill="#a08fa0"/>
<circle cx="217.0" cy="375.1" r="0.7" fill="#b3a6b5"/>
<circle cx="739.1" cy="553.8" r="1.2" fill="#6e616d"/>
<circle cx="723.4" cy="543.0" r="0.9" fill="#c8bfcc"/>
<circle cx="528.6" cy="480.8" r="0.8" fill="#c8bfcc"/>
<circle cx="464.9" cy="456.0" r="1.2" fill="#c8bfcc"/>
<circle cx="572.0" cy="491.1" r="1.2" fill="#6e616d"/>
<circle cx="441.7" cy="448.2" r="0.8" fill="#c8bfcc"/>
<circle cx="127.8" cy="342.2" r="0.8" fill="#c8bfcc"/>
<circle cx="254.2" cy="384.0" r="0.9" fill="#a08fa0"/>
<circle cx="621.8" cy="507.7" r="0.7" fill="#6e616d"/>
<circle cx="231.4" cy="376.6" r="1.1" fill="#b3a6b5"/>
<circle cx="386.1" cy="433.3" r="1.2" fill="#6e616d"/>
<circle cx="522.6" cy="476.7" r="0.9" fill="#c8bfcc"/>
<circle cx="729.7" cy="546.9" r="1.3" fill="#6e616d"/>
<circle cx="712.6" cy="542.7" r="0.6" fill="#a08fa0"/>
<circle cx="606.9" cy="506.4" r="1.0" fill="#a08fa0"/>
<circle cx="304.0" cy="400.2" r="0.6" fill="#c8bfcc"/>
<circle cx="483.8" cy="462.8" r="1.3" fill="#6e616d"/>
<circle cx="714.4" cy="542.8" r="0.8" fill="#a08fa0"/>
<circle cx="422.9" cy="442.5" r="1.0" fill="#6e616d"/>
<circle cx="524.2" cy="479.7" r="0.7" fill="#6e616d"/>
<polygon points="768.0,428.0 794.0,424.0 803.0,458.0 758.0,550.0 741.0,530.0" fill="#f3f3f4" />
<polygon points="764.0,428.5 770.0,428.0 743.0,531.0 738.0,530.0" fill="#dcdde1" />
<polygon points="794.0,424.0 800.0,420.0 806.0,455.0 803.0,458.0" fill="#e6e6e8" />

<g stroke="#1f4a66" stroke-width="2" fill="none">
<line x1="198" y1="52" x2="198" y2="355"/>
<line x1="397.5" y1="52" x2="397.5" y2="285"/>
<line x1="761.5" y1="52" x2="761.5" y2="288"/>
<polyline points="151,243.5 86.5,243.5 86.5,340.5"/>
<polyline points="289,396 289,487.5 21,487.5"/>
<line x1="588.5" y1="415" x2="588.5" y2="592"/>
<line x1="637.5" y1="330" x2="637.5" y2="604"/>
<line x1="727" y1="416.5" x2="1019" y2="416.5"/>
<polyline points="845.5,416.5 845.5,524 727,524"/>
<rect x="95" y="694.5" width="196" height="29" rx="8" ry="8"/>
</g>
<g fill="#e5c335" stroke="#1e3c4c" stroke-width="2.2">
<circle cx="151" cy="243.5" r="5"/><circle cx="198" cy="355" r="5"/><circle cx="397.5" cy="284.6" r="5"/>
<circle cx="761.5" cy="288.6" r="5"/><circle cx="289" cy="396" r="5"/><circle cx="588.5" cy="415" r="5"/>
<circle cx="637.5" cy="330" r="5"/><circle cx="727" cy="416.5" r="5"/><circle cx="727" cy="524" r="5"/>
</g>
<g fill="#3cb5dc">
<rect x="159.6" y="672.3" width="4" height="9.5"/><polygon points="157.4,681 165.8,681 161.6,689.4"/>
<rect x="271.4" y="736" width="4" height="11"/><polygon points="269.2,737 277.6,737 273.4,728.4"/>
</g>

</svg>
<div class="hd" style="left:120px;top:8.32px;font-size:13.5px;line-height:16px;text-align:left;transform:scaleX(0.9175);transform-origin:left top;">PODWÓJNY SYSTEM KLEJENIA POZWALA ZWIĘKSZYĆ JAKOŚĆ ALE RÓWNIEŻ PRZEDŁUŻYĆ ŻYWOTNOŚĆ MATERACA</div><div class="tt" style="left:2px;top:55.10px;font-size:15px;line-height:17px;text-align:left;transform:scaleX(0.93);transform-origin:left top;">2x kokos</div><div class="b" style="left:2px;top:74.32px;font-size:13.5px;line-height:17.2px;text-align:left;transform:scaleX(0.93);transform-origin:left top;">100% naturalny surowiec<br>wykonany z łupiny orzecha<br>kokosowego, posiada właściwości<br>antyalergiczne i antygrzybicze.</div><div class="tt" style="left:402.8px;top:55.50px;font-size:15px;line-height:17px;text-align:left;transform:scaleX(0.986);transform-origin:left top;">Profilowana pianka Visco Memory Foam</div><div class="b" style="left:402.8px;top:75.65px;font-size:13.5px;line-height:16.95px;text-align:left;transform:scaleX(0.951);transform-origin:left top;">7 strefowa profilowana pianka Visco Memory<br>Foam - pianka termoelastyczna reagująca na<br>ciepło.&nbsp; Doskonale podpiera całe ciało, dba o<br><span style="word-spacing:3.6px">właściwe krążenie krwi pozwalając przyjąć</span><br>kręgosłupowi odpowiednią pozycję.</div><div class="tt" style="left:768.5px;top:56.00px;font-size:15px;line-height:17px;text-align:left;transform:scaleX(0.954);transform-origin:left top;">Pokrowiec&nbsp; niepikowany</div><div class="b" style="left:768.5px;top:75.84px;font-size:13.5px;line-height:16.97px;text-align:left;transform:scaleX(0.9416);transform-origin:left top;">Materiał hipoalergiczny, antyuczuleniowy,<br>wyposażony w zamek w kształcie litery L.<br>Pokrowiec można łatwo ściągnąć i wyprać<br>(zalecane pranie min.&nbsp; raz na pół roku).<br>Wysoka jakość oraz gramatura dzianiny<br>pokrowca sprawia, że jest on zarazem<br>wytrzymały, przyjemny jak i delikatny w<br>codziennym użytkowaniu.</div><div class="tt" style="left:2px;top:322.20px;font-size:15px;line-height:17px;text-align:left;transform:scaleX(0.894);transform-origin:left top;">Pianka T25</div><div class="b" style="left:2px;top:346.62px;font-size:13.5px;line-height:16.8px;text-align:left;transform:scaleX(0.932);transform-origin:left top;">Wysokiej jakości pianka<br>poliuretanowa otaczająca<br>materac z dołu oraz po<br>bokach.</div><div class="tb" style="left:22px;top:467.88px;font-size:14.5px;line-height:17px;text-align:left;transform:scaleX(0.99);transform-origin:left top;">Końskie włosie</div><div class="b" style="right:737.6px;top:491.82px;font-size:13.5px;line-height:17.0px;text-align:right;transform:scaleX(0.928);transform-origin:right top;">Końskie włosie posiada wyjątkowe właściwości<br>wentylacyjne. Jest materiałem higroskopijnym,<br>który chłonie pot oddawany podczas snu<br>przez użytkownik i jednocześnie ogranicza<br>jego wchłanianie do wewnątrz materaca<br>zapewniając odpowiedni mikroklimat.</div><div class="tt" style="left:321.4px;top:524.60px;font-size:15px;line-height:17px;text-align:left;transform:scaleX(0.95);transform-origin:left top;"><span class="tb" style="font-size:15px;-webkit-text-stroke:0">S</span>prężyny kieszeniowe 9 stref</div><div class="b" style="left:510.5px;top:525.12px;font-size:13.5px;line-height:17.0px;text-align:left;transform:scaleX(0.92);transform-origin:left top;">(262szt/1m2)</div><div class="b" style="right:440px;top:542.52px;font-size:13.5px;line-height:17.0px;text-align:right;transform:scaleX(0.925);transform-origin:right top;">Każda sprężyna umieszczona jest w osobnej<br>kieszonce materiału. Nie jest połączona z inną<br>sprężyną, pracuje osobno, pracuje cicho!</div><div class="tt" style="left:646px;top:588.10px;font-size:15px;line-height:17px;text-align:left;transform:scaleX(0.964);transform-origin:left top;">Włókno klimatyzujące</div><div class="b" style="left:629px;top:611.42px;font-size:13.5px;line-height:17.0px;text-align:left;transform:scaleX(0.94);transform-origin:left top;">Zapewnia odpowiednią wentylację materaca, wzmacnia jego<br>wytrzymałość - w pokrowcu pikowanym połączona z pokrowcem, co<br>skutecznie uniemożliwia jego pranie w pralce. W pokrowcu<br>niepikowanym jest częścią wewnętrzną materaca, nie połączone z<br>pokrowcem, pozwala na pranie pokrowca w pralce.</div><div class="tt" style="left:847.7px;top:395.50px;font-size:15px;line-height:17px;text-align:left;transform:scaleX(0.933);transform-origin:left top;">Filc / Przekładka tapicerska</div><div class="b" style="left:853.3px;top:428.41px;font-size:12.6px;line-height:16.45px;text-align:left;transform:scaleX(0.99);transform-origin:left top;">Wzmacnia wytrzymałość<br>materaca, izoluje formatkę<br>sprężynową od pianki.</div><div class="b" style="left:95.3px;top:667.29px;font-size:11px;line-height:13px;text-align:left;transform:scaleX(0.923);transform-origin:left top;">Strona górna</div><div class="b" style="left:281.6px;top:732.39px;font-size:11px;line-height:13px;text-align:left;transform:scaleX(0.926);transform-origin:left top;">Strona dolna</div><div class="b" style="left:52.2px;top:700.35px;font-size:14px;line-height:16px;text-align:left;transform:scaleX(0.9);transform-origin:left top;">Miękki</div><div class="b" style="left:296px;top:700.35px;font-size:14px;line-height:16px;text-align:left;transform:scaleX(0.887);transform-origin:left top;">Twardy</div><div class="b" style="left:103.8px;top:700.35px;font-size:14px;line-height:16px;text-align:left;transform:scaleX(0.93);transform-origin:left top;"><span style="color:#4b8f3e">H1</span></div><div class="b" style="left:154.6px;top:700.35px;font-size:14px;line-height:16px;text-align:left;transform:scaleX(0.93);transform-origin:left top;"><span style="color:#e3b856">H2</span></div><div class="b" style="left:210px;top:700.35px;font-size:14px;line-height:16px;text-align:left;transform:scaleX(0.93);transform-origin:left top;"><span style="color:#86cbd8">H3</span></div><div class="b" style="left:265.5px;top:700.35px;font-size:14px;line-height:16px;text-align:left;transform:scaleX(0.93);transform-origin:left top;"><span style="color:#2e3f4c">H4</span></div>
</body></html>
